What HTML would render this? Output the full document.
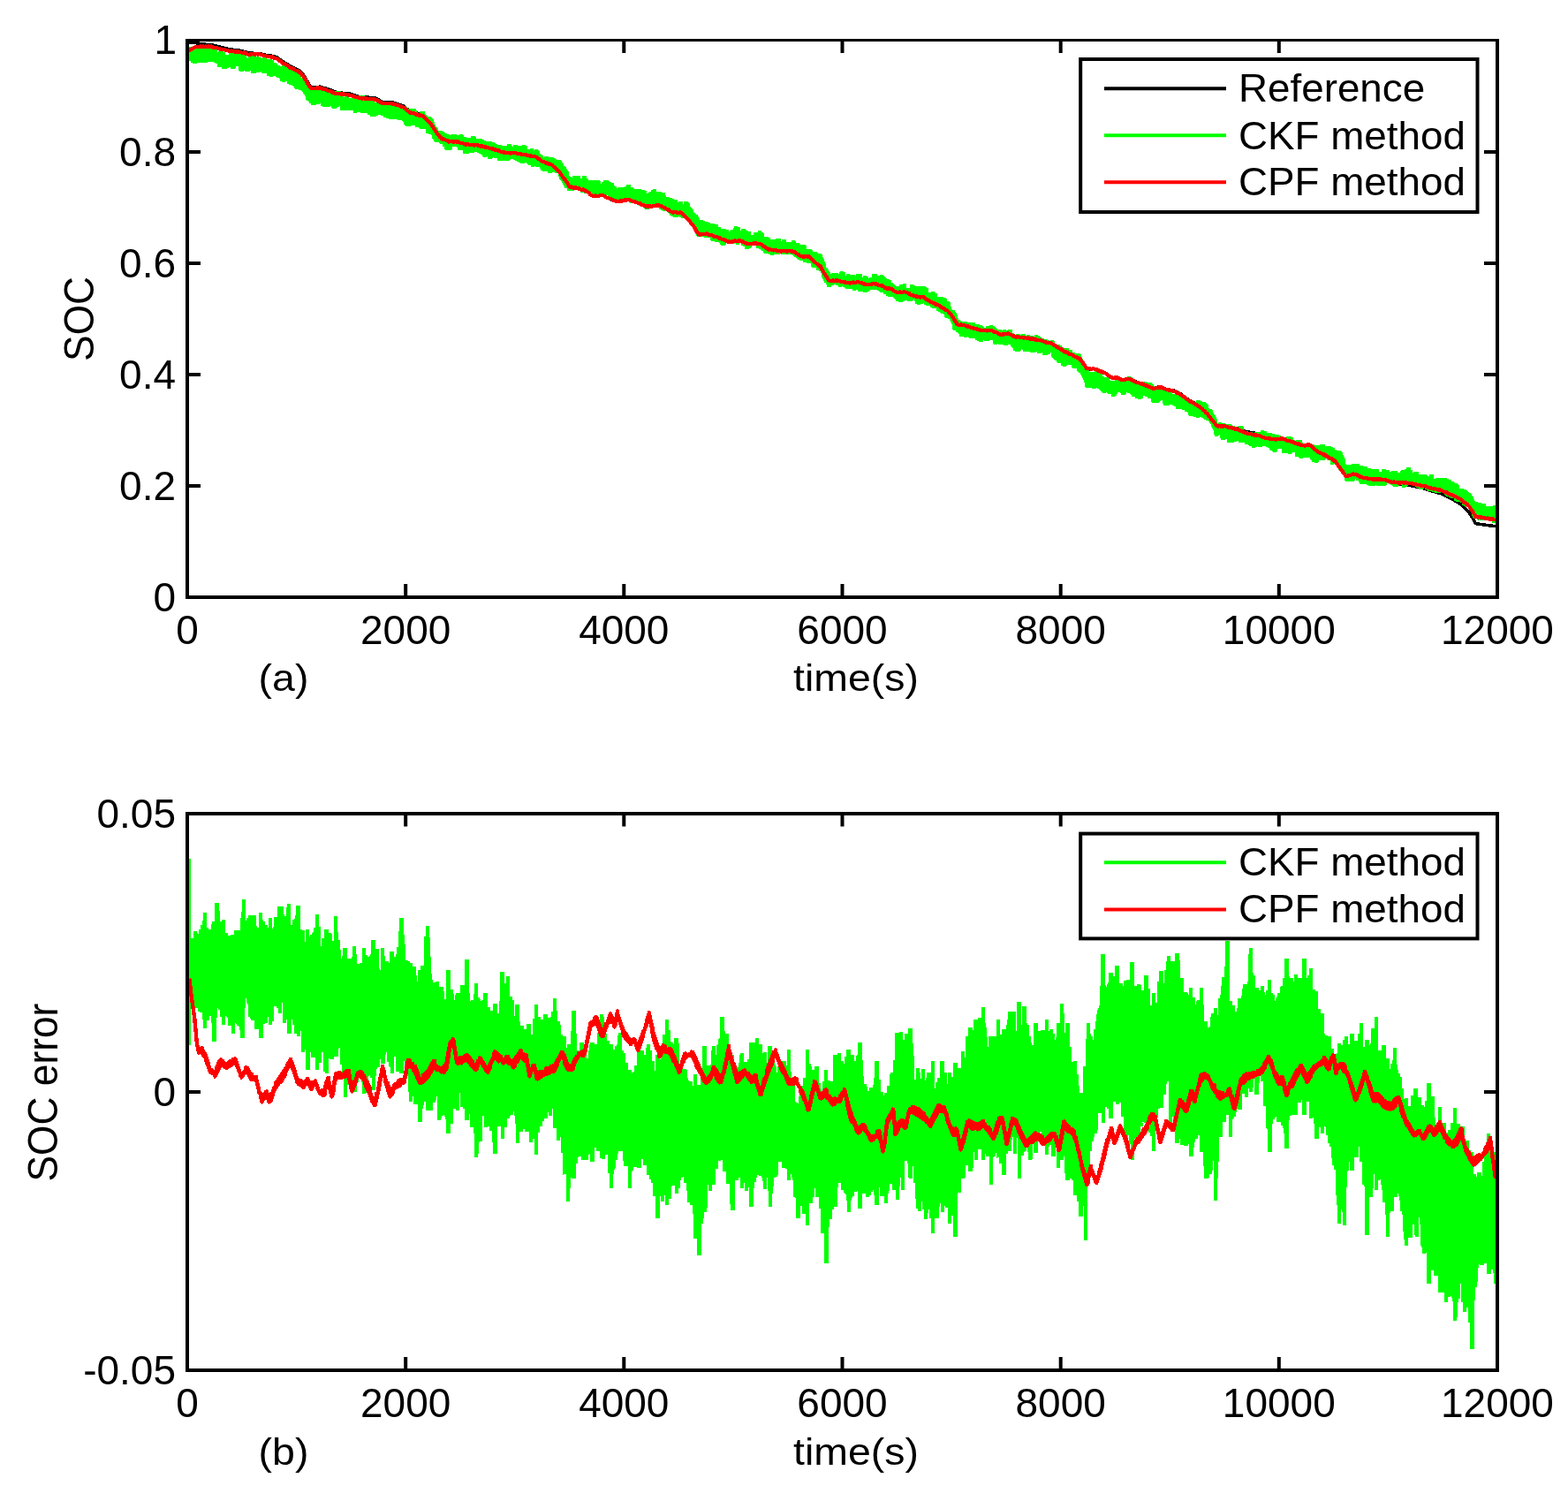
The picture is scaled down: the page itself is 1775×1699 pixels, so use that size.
<!DOCTYPE html>
<html lang="en"><head><meta charset="utf-8"><title>SOC estimation</title>
<style>html,body{margin:0;padding:0;background:#fff}body{width:1775px;height:1699px;overflow:hidden}svg{display:block}text{font-family:"Liberation Sans",sans-serif;font-size:46px;fill:#000}</style>
</head><body>
<svg width="1775" height="1699" viewBox="0 0 1775 1699">
<rect width="1775" height="1699" fill="#fff"/>
<g id="plot-a">
<path d="M214.0 47.5L215.0 47.9L216.0 47.9L217.0 48.0L218.0 48.1L219.0 48.0L220.0 48.2L221.0 48.5L222.0 48.7L223.0 48.8L224.0 49.0L225.0 49.1L226.0 49.4L227.0 49.7L228.0 50.0L229.0 50.1L230.0 50.1L231.0 50.2L232.0 50.2L233.0 50.3L234.0 50.3L235.0 50.4L236.0 50.4L237.0 50.4L238.0 50.5L239.0 50.5L240.0 50.8L241.0 51.0L242.0 51.3L243.0 51.6L244.0 51.8L245.0 52.1L246.0 52.3L247.0 52.6L248.0 52.9L249.0 53.1L250.0 53.4L251.0 53.7L252.0 53.9L253.0 54.1L254.0 54.4L255.0 54.6L256.0 54.9L257.0 55.1L258.0 55.3L259.0 55.6L260.0 55.7L261.0 55.9L262.0 56.0L263.0 56.1L264.0 56.3L265.0 56.4L266.0 56.5L267.0 56.7L268.0 56.8L269.0 56.9L270.0 57.0L271.0 57.2L272.0 57.3L273.0 57.5L274.0 57.8L275.0 58.1L276.0 58.3L277.0 58.6L278.0 58.9L279.0 59.2L280.0 59.5L281.0 59.8L282.0 59.9L283.0 60.0L284.0 60.1L285.0 60.1L286.0 60.2L287.0 60.3L288.0 60.3L289.0 60.4L290.0 60.5L291.0 60.5L292.0 60.6L293.0 60.7L294.0 60.7L295.0 60.9L296.0 61.1L297.0 61.4L298.0 61.6L299.0 61.9L300.0 62.2L301.0 62.3L302.0 62.4L303.0 62.5L304.0 62.6L305.0 62.8L306.0 63.0L307.0 63.2L308.0 63.4L309.0 63.6L310.0 63.8L311.0 64.1L312.0 64.4L313.0 64.7L314.0 65.3L315.0 66.0L316.0 66.7L317.0 67.4L318.0 68.1L319.0 68.8L320.0 69.5L321.0 70.2L322.0 70.8L323.0 71.4L324.0 72.0L325.0 72.6L326.0 73.2L327.0 73.8L328.0 74.4L329.0 75.0L330.0 75.6L331.0 76.2L332.0 76.7L333.0 77.2L334.0 77.7L335.0 78.2L336.0 78.7L337.0 79.2L338.0 79.7L339.0 80.2L340.0 80.7L341.0 81.8L342.0 83.1L343.0 84.4L344.0 85.8L345.0 87.1L346.0 88.7L347.0 90.5L348.0 92.3L349.0 94.1L350.0 95.6L351.0 96.6L352.0 97.6L353.0 98.5L354.0 98.5L355.0 98.5L356.0 98.4L357.0 98.4L358.0 98.4L359.0 98.3L360.0 98.3L361.0 98.3L362.0 98.2L363.0 98.4L364.0 98.7L365.0 99.0L366.0 99.3L367.0 99.6L368.0 99.9L369.0 100.2L370.0 100.4L371.0 100.7L372.0 101.0L373.0 101.4L374.0 101.8L375.0 102.2L376.0 102.6L377.0 103.0L378.0 103.4L379.0 103.8L380.0 104.2L381.0 104.5L382.0 104.7L383.0 104.8L384.0 104.9L385.0 105.0L386.0 105.1L387.0 105.2L388.0 105.3L389.0 105.5L390.0 105.6L391.0 105.7L392.0 105.8L393.0 105.9L394.0 106.0L395.0 106.1L396.0 106.2L397.0 106.5L398.0 106.8L399.0 107.1L400.0 107.4L401.0 107.7L402.0 108.0L403.0 108.4L404.0 108.7L405.0 109.0L406.0 109.3L407.0 109.4L408.0 109.5L409.0 109.6L410.0 109.6L411.0 109.7L412.0 109.8L413.0 109.9L414.0 110.0L415.0 110.1L416.0 110.1L417.0 110.2L418.0 110.3L419.0 110.4L420.0 110.5L421.0 110.6L422.0 110.6L423.0 110.7L424.0 110.8L425.0 111.0L426.0 111.6L427.0 112.1L428.0 112.7L429.0 113.3L430.0 113.8L431.0 114.4L432.0 114.9L433.0 115.5L434.0 115.6L435.0 115.6L436.0 115.6L437.0 115.6L438.0 115.6L439.0 115.6L440.0 115.6L441.0 115.7L442.0 115.7L443.0 115.7L444.0 115.9L445.0 116.2L446.0 116.5L447.0 116.8L448.0 117.1L449.0 117.4L450.0 117.7L451.0 118.1L452.0 118.4L453.0 118.7L454.0 119.0L455.0 119.3L456.0 119.6L457.0 120.0L458.0 120.9L459.0 121.8L460.0 122.6L461.0 123.5L462.0 124.4L463.0 125.3L464.0 125.9L465.0 126.2L466.0 126.5L467.0 126.8L468.0 127.1L469.0 127.3L470.0 127.6L471.0 127.9L472.0 128.2L473.0 128.5L474.0 128.7L475.0 129.0L476.0 129.3L477.0 129.6L478.0 129.9L479.0 130.2L480.0 131.2L481.0 132.2L482.0 133.3L483.0 134.3L484.0 135.3L485.0 136.3L486.0 137.3L487.0 138.3L488.0 139.6L489.0 141.1L490.0 142.6L491.0 144.2L492.0 145.7L493.0 147.2L494.0 148.7L495.0 149.9L496.0 151.1L497.0 152.3L498.0 153.5L499.0 154.7L500.0 155.9L501.0 156.3L502.0 156.7L503.0 157.1L504.0 157.5L505.0 157.9L506.0 158.3L507.0 158.7L508.0 159.2L509.0 159.3L510.0 159.3L511.0 159.3L512.0 159.2L513.0 159.2L514.0 159.2L515.0 159.1L516.0 159.1L517.0 159.1L518.0 159.4L519.0 159.7L520.0 160.1L521.0 160.4L522.0 160.7L523.0 161.1L524.0 161.4L525.0 161.7L526.0 162.0L527.0 162.4L528.0 162.5L529.0 162.6L530.0 162.7L531.0 162.8L532.0 162.9L533.0 163.0L534.0 163.1L535.0 163.2L536.0 163.3L537.0 163.4L538.0 163.5L539.0 163.6L540.0 163.7L541.0 163.8L542.0 163.9L543.0 164.1L544.0 164.4L545.0 164.6L546.0 164.9L547.0 165.2L548.0 165.4L549.0 165.7L550.0 166.0L551.0 166.2L552.0 166.5L553.0 166.7L554.0 167.0L555.0 167.3L556.0 167.5L557.0 167.9L558.0 168.2L559.0 168.5L560.0 168.8L561.0 169.1L562.0 169.4L563.0 169.7L564.0 170.0L565.0 170.4L566.0 170.7L567.0 171.0L568.0 171.3L569.0 171.6L570.0 171.9L571.0 172.2L572.0 172.5L573.0 172.8L574.0 172.8L575.0 172.8L576.0 172.8L577.0 172.8L578.0 172.8L579.0 172.8L580.0 172.8L581.0 172.9L582.0 173.0L583.0 173.2L584.0 173.4L585.0 173.6L586.0 173.7L587.0 173.9L588.0 174.1L589.0 174.3L590.0 174.5L591.0 174.6L592.0 174.8L593.0 175.0L594.0 175.2L595.0 175.3L596.0 175.5L597.0 175.7L598.0 175.9L599.0 176.1L600.0 176.2L601.0 176.4L602.0 176.6L603.0 176.7L604.0 176.9L605.0 177.1L606.0 177.2L607.0 177.7L608.0 178.4L609.0 179.1L610.0 179.8L611.0 180.5L612.0 181.2L613.0 181.9L614.0 182.6L615.0 183.3L616.0 183.6L617.0 183.9L618.0 184.3L619.0 184.6L620.0 184.9L621.0 185.3L622.0 185.6L623.0 185.9L624.0 186.3L625.0 186.6L626.0 187.5L627.0 188.5L628.0 189.5L629.0 190.5L630.0 191.5L631.0 192.5L632.0 193.5L633.0 194.5L634.0 195.7L635.0 197.1L636.0 198.5L637.0 199.9L638.0 201.2L639.0 202.6L640.0 204.0L641.0 205.5L642.0 207.1L643.0 208.7L644.0 210.3L645.0 211.2L646.0 211.5L647.0 211.7L648.0 211.9L649.0 212.1L650.0 212.3L651.0 212.6L652.0 212.8L653.0 213.0L654.0 213.3L655.0 213.5L656.0 213.8L657.0 214.0L658.0 214.3L659.0 214.5L660.0 214.8L661.0 215.0L662.0 215.3L663.0 215.9L664.0 216.7L665.0 217.4L666.0 218.2L667.0 219.0L668.0 219.7L669.0 220.5L670.0 221.2L671.0 221.8L672.0 221.7L673.0 221.7L674.0 221.6L675.0 221.6L676.0 221.5L677.0 221.5L678.0 221.5L679.0 221.4L680.0 221.4L681.0 221.3L682.0 221.3L683.0 221.5L684.0 222.0L685.0 222.5L686.0 223.0L687.0 223.5L688.0 224.0L689.0 224.5L690.0 225.0L691.0 225.5L692.0 225.8L693.0 226.1L694.0 226.4L695.0 226.7L696.0 227.0L697.0 227.3L698.0 227.6L699.0 227.9L700.0 227.9L701.0 227.8L702.0 227.6L703.0 227.4L704.0 227.2L705.0 227.1L706.0 226.9L707.0 226.7L708.0 226.6L709.0 226.4L710.0 226.2L711.0 226.0L712.0 226.2L713.0 226.6L714.0 226.9L715.0 227.3L716.0 227.6L717.0 227.9L718.0 228.3L719.0 228.6L720.0 229.0L721.0 229.4L722.0 229.7L723.0 230.1L724.0 230.5L725.0 230.9L726.0 231.2L727.0 231.6L728.0 232.0L729.0 232.4L730.0 232.7L731.0 233.1L732.0 233.5L733.0 233.9L734.0 233.8L735.0 233.7L736.0 233.5L737.0 233.4L738.0 233.3L739.0 233.1L740.0 233.0L741.0 232.8L742.0 232.7L743.0 232.5L744.0 232.4L745.0 232.3L746.0 232.6L747.0 233.0L748.0 233.4L749.0 233.8L750.0 234.2L751.0 234.6L752.0 235.0L753.0 235.4L754.0 235.9L755.0 236.5L756.0 237.1L757.0 237.7L758.0 238.3L759.0 238.9L760.0 239.5L761.0 240.1L762.0 240.7L763.0 240.7L764.0 240.7L765.0 240.7L766.0 240.7L767.0 240.7L768.0 240.7L769.0 240.7L770.0 240.7L771.0 241.2L772.0 242.1L773.0 243.0L774.0 243.9L775.0 244.8L776.0 245.7L777.0 246.6L778.0 247.5L779.0 248.5L780.0 249.7L781.0 251.0L782.0 252.2L783.0 253.5L784.0 254.7L785.0 256.0L786.0 257.4L787.0 259.0L788.0 260.7L789.0 262.4L790.0 264.0L791.0 265.2L792.0 265.1L793.0 265.1L794.0 265.0L795.0 265.0L796.0 264.9L797.0 264.8L798.0 264.8L799.0 264.7L800.0 264.6L801.0 265.0L802.0 265.3L803.0 265.6L804.0 266.0L805.0 266.3L806.0 266.6L807.0 266.9L808.0 267.3L809.0 267.6L810.0 267.9L811.0 268.3L812.0 268.6L813.0 269.0L814.0 269.4L815.0 269.8L816.0 270.2L817.0 270.6L818.0 271.0L819.0 271.4L820.0 271.8L821.0 272.2L822.0 272.6L823.0 273.0L824.0 273.4L825.0 273.8L826.0 273.9L827.0 273.7L828.0 273.6L829.0 273.4L830.0 273.3L831.0 273.1L832.0 273.0L833.0 272.9L834.0 272.7L835.0 272.6L836.0 272.4L837.0 272.3L838.0 272.6L839.0 273.1L840.0 273.5L841.0 273.9L842.0 274.4L843.0 274.8L844.0 275.3L845.0 275.7L846.0 276.0L847.0 276.0L848.0 276.0L849.0 276.0L850.0 276.0L851.0 276.0L852.0 276.0L853.0 276.0L854.0 276.0L855.0 276.0L856.0 276.0L857.0 276.0L858.0 276.0L859.0 276.0L860.0 276.0L861.0 276.1L862.0 276.8L863.0 277.5L864.0 278.2L865.0 279.0L866.0 279.7L867.0 280.4L868.0 281.1L869.0 281.8L870.0 282.2L871.0 282.3L872.0 282.5L873.0 282.7L874.0 282.9L875.0 283.0L876.0 283.2L877.0 283.4L878.0 283.5L879.0 283.7L880.0 283.9L881.0 284.1L882.0 284.1L883.0 284.1L884.0 284.1L885.0 284.2L886.0 284.2L887.0 284.2L888.0 284.2L889.0 284.2L890.0 284.3L891.0 284.3L892.0 284.3L893.0 284.3L894.0 284.3L895.0 284.4L896.0 284.4L897.0 284.4L898.0 284.4L899.0 285.1L900.0 285.7L901.0 286.4L902.0 287.1L903.0 287.8L904.0 288.4L905.0 289.1L906.0 289.8L907.0 290.2L908.0 290.3L909.0 290.4L910.0 290.5L911.0 290.6L912.0 290.7L913.0 290.8L914.0 290.9L915.0 291.0L916.0 291.1L917.0 291.6L918.0 292.8L919.0 294.0L920.0 295.2L921.0 296.3L922.0 297.4L923.0 298.0L924.0 298.7L925.0 299.3L926.0 299.9L927.0 300.6L928.0 301.2L929.0 302.5L930.0 304.4L931.0 306.2L932.0 308.1L933.0 309.9L934.0 311.6L935.0 313.2L936.0 314.7L937.0 316.2L938.0 317.7L939.0 318.6L940.0 318.6L941.0 318.6L942.0 318.6L943.0 318.5L944.0 318.5L945.0 318.5L946.0 318.5L947.0 318.5L948.0 318.5L949.0 318.5L950.0 318.8L951.0 319.1L952.0 319.3L953.0 319.6L954.0 319.8L955.0 320.1L956.0 320.4L957.0 320.6L958.0 320.9L959.0 321.1L960.0 321.4L961.0 321.5L962.0 321.4L963.0 321.4L964.0 321.3L965.0 321.2L966.0 321.1L967.0 321.0L968.0 321.0L969.0 320.9L970.0 320.8L971.0 320.7L972.0 320.6L973.0 320.8L974.0 321.2L975.0 321.5L976.0 321.9L977.0 322.2L978.0 322.6L979.0 323.0L980.0 323.3L981.0 323.6L982.0 323.5L983.0 323.4L984.0 323.3L985.0 323.2L986.0 323.1L987.0 323.0L988.0 322.9L989.0 322.8L990.0 322.9L991.0 323.1L992.0 323.4L993.0 323.6L994.0 323.8L995.0 324.0L996.0 324.2L997.0 324.4L998.0 324.7L999.0 324.9L1000.0 325.5L1001.0 326.4L1002.0 327.4L1003.0 328.2L1004.0 328.2L1005.0 328.2L1006.0 328.2L1007.0 328.2L1008.0 328.2L1009.0 328.2L1010.0 328.5L1011.0 329.3L1012.0 330.1L1013.0 330.9L1014.0 331.7L1015.0 332.2L1016.0 332.1L1017.0 331.9L1018.0 331.8L1019.0 331.7L1020.0 331.6L1021.0 331.4L1022.0 331.3L1023.0 331.2L1024.0 331.1L1025.0 331.0L1026.0 331.4L1027.0 331.7L1028.0 332.1L1029.0 332.4L1030.0 332.8L1031.0 333.3L1032.0 333.7L1033.0 334.2L1034.0 334.7L1035.0 335.2L1036.0 335.6L1037.0 336.0L1038.0 336.1L1039.0 336.3L1040.0 336.4L1041.0 336.6L1042.0 336.7L1043.0 336.8L1044.0 337.0L1045.0 337.1L1046.0 337.7L1047.0 338.4L1048.0 339.0L1049.0 339.7L1050.0 340.3L1051.0 341.0L1052.0 341.6L1053.0 342.3L1054.0 342.9L1055.0 343.4L1056.0 343.9L1057.0 344.5L1058.0 345.0L1059.0 345.6L1060.0 346.1L1061.0 346.7L1062.0 347.2L1063.0 347.8L1064.0 348.3L1065.0 349.0L1066.0 349.6L1067.0 350.2L1068.0 350.8L1069.0 351.5L1070.0 352.1L1071.0 352.7L1072.0 353.4L1073.0 354.0L1074.0 354.8L1075.0 356.2L1076.0 357.4L1077.0 358.5L1078.0 359.7L1079.0 360.9L1080.0 362.1L1081.0 363.4L1082.0 364.9L1083.0 366.5L1084.0 367.9L1085.0 367.7L1086.0 367.8L1087.0 367.8L1088.0 367.8L1089.0 367.8L1090.0 367.8L1091.0 367.9L1092.0 368.3L1093.0 368.6L1094.0 369.0L1095.0 369.4L1096.0 369.7L1097.0 370.1L1098.0 370.5L1099.0 370.8L1100.0 371.2L1101.0 371.5L1102.0 371.7L1103.0 372.0L1104.0 372.3L1105.0 372.6L1106.0 372.9L1107.0 373.1L1108.0 373.4L1109.0 373.7L1110.0 374.0L1111.0 374.3L1112.0 374.5L1113.0 374.5L1114.0 374.4L1115.0 374.4L1116.0 374.4L1117.0 374.4L1118.0 374.3L1119.0 374.3L1120.0 374.3L1121.0 374.3L1122.0 374.2L1123.0 374.7L1124.0 375.1L1125.0 375.5L1126.0 376.0L1127.0 376.4L1128.0 376.9L1129.0 377.3L1130.0 377.7L1131.0 378.2L1132.0 378.6L1133.0 379.0L1134.0 379.3L1135.0 379.1L1136.0 378.9L1137.0 378.6L1138.0 378.4L1139.0 378.1L1140.0 377.9L1141.0 378.0L1142.0 378.4L1143.0 378.9L1144.0 379.4L1145.0 379.8L1146.0 380.3L1147.0 380.8L1148.0 381.2L1149.0 381.7L1150.0 381.8L1151.0 381.9L1152.0 382.0L1153.0 382.1L1154.0 382.2L1155.0 382.3L1156.0 382.5L1157.0 382.6L1158.0 382.7L1159.0 382.8L1160.0 382.9L1161.0 383.0L1162.0 383.1L1163.0 383.2L1164.0 383.3L1165.0 383.5L1166.0 383.7L1167.0 383.9L1168.0 384.1L1169.0 384.3L1170.0 384.5L1171.0 384.7L1172.0 385.0L1173.0 385.2L1174.0 385.4L1175.0 385.6L1176.0 385.8L1177.0 386.0L1178.0 386.2L1179.0 386.5L1180.0 386.8L1181.0 387.1L1182.0 387.4L1183.0 387.6L1184.0 387.9L1185.0 388.2L1186.0 388.5L1187.0 388.8L1188.0 389.0L1189.0 389.3L1190.0 389.6L1191.0 389.9L1192.0 390.4L1193.0 391.1L1194.0 391.7L1195.0 392.4L1196.0 393.1L1197.0 393.7L1198.0 394.4L1199.0 395.0L1200.0 395.7L1201.0 396.3L1202.0 397.0L1203.0 397.6L1204.0 398.1L1205.0 398.6L1206.0 399.1L1207.0 399.6L1208.0 400.2L1209.0 400.7L1210.0 401.2L1211.0 401.7L1212.0 402.2L1213.0 402.7L1214.0 403.2L1215.0 403.7L1216.0 404.4L1217.0 405.2L1218.0 405.9L1219.0 406.6L1220.0 407.4L1221.0 408.1L1222.0 408.8L1223.0 409.6L1224.0 410.9L1225.0 412.6L1226.0 414.4L1227.0 416.1L1228.0 417.8L1229.0 418.7L1230.0 419.5L1231.0 419.1L1232.0 418.5L1233.0 417.9L1234.0 417.4L1235.0 417.4L1236.0 417.5L1237.0 417.6L1238.0 417.7L1239.0 417.8L1240.0 417.8L1241.0 418.1L1242.0 418.6L1243.0 419.0L1244.0 419.4L1245.0 419.8L1246.0 420.2L1247.0 420.6L1248.0 421.0L1249.0 421.4L1250.0 421.8L1251.0 422.4L1252.0 423.0L1253.0 423.7L1254.0 424.4L1255.0 425.0L1256.0 425.7L1257.0 426.3L1258.0 427.0L1259.0 427.5L1260.0 427.5L1261.0 427.5L1262.0 427.5L1263.0 427.5L1264.0 427.5L1265.0 427.5L1266.0 427.7L1267.0 428.3L1268.0 428.8L1269.0 429.4L1270.0 429.9L1271.0 430.3L1272.0 429.9L1273.0 429.6L1274.0 429.3L1275.0 429.0L1276.0 428.7L1277.0 428.4L1278.0 428.5L1279.0 428.9L1280.0 429.4L1281.0 429.8L1282.0 430.2L1283.0 430.7L1284.0 431.1L1285.0 431.5L1286.0 432.0L1287.0 432.3L1288.0 432.6L1289.0 433.0L1290.0 433.3L1291.0 433.6L1292.0 433.9L1293.0 434.3L1294.0 434.6L1295.0 434.9L1296.0 435.2L1297.0 435.6L1298.0 436.1L1299.0 436.5L1300.0 436.9L1301.0 437.3L1302.0 437.7L1303.0 438.1L1304.0 438.5L1305.0 438.9L1306.0 439.3L1307.0 439.2L1308.0 439.0L1309.0 438.7L1310.0 438.5L1311.0 438.2L1312.0 437.9L1313.0 437.7L1314.0 438.1L1315.0 438.5L1316.0 438.9L1317.0 439.3L1318.0 439.7L1319.0 440.1L1320.0 440.5L1321.0 440.9L1322.0 441.1L1323.0 441.2L1324.0 441.3L1325.0 441.5L1326.0 441.6L1327.0 441.7L1328.0 441.8L1329.0 442.2L1330.0 442.7L1331.0 443.2L1332.0 443.7L1333.0 444.2L1334.0 444.7L1335.0 445.2L1336.0 445.7L1337.0 446.3L1338.0 447.0L1339.0 447.8L1340.0 448.5L1341.0 449.3L1342.0 450.0L1343.0 450.7L1344.0 451.5L1345.0 452.2L1346.0 453.0L1347.0 453.7L1348.0 454.2L1349.0 454.7L1350.0 455.1L1351.0 455.6L1352.0 456.1L1353.0 456.6L1354.0 457.1L1355.0 457.6L1356.0 458.3L1357.0 459.1L1358.0 459.9L1359.0 460.7L1360.0 461.5L1361.0 462.3L1362.0 463.1L1363.0 463.9L1364.0 464.8L1365.0 465.9L1366.0 467.0L1367.0 468.2L1368.0 469.3L1369.0 470.4L1370.0 471.5L1371.0 472.8L1372.0 474.2L1373.0 475.5L1374.0 476.9L1375.0 478.3L1376.0 479.6L1377.0 481.0L1378.0 481.3L1379.0 481.3L1380.0 481.4L1381.0 481.4L1382.0 481.5L1383.0 481.5L1384.0 481.5L1385.0 481.6L1386.0 481.6L1387.0 481.7L1388.0 481.9L1389.0 482.1L1390.0 482.3L1391.0 482.6L1392.0 482.8L1393.0 483.1L1394.0 483.3L1395.0 483.6L1396.0 483.8L1397.0 484.0L1398.0 484.3L1399.0 484.5L1400.0 484.8L1401.0 485.1L1402.0 485.5L1403.0 485.9L1404.0 486.2L1405.0 486.6L1406.0 487.0L1407.0 487.3L1408.0 487.7L1409.0 488.1L1410.0 488.4L1411.0 488.6L1412.0 488.8L1413.0 489.0L1414.0 489.1L1415.0 489.3L1416.0 489.5L1417.0 489.6L1418.0 489.8L1419.0 489.9L1420.0 490.1L1421.0 490.4L1422.0 490.7L1423.0 491.1L1424.0 491.5L1425.0 491.9L1426.0 492.3L1427.0 492.7L1428.0 493.1L1429.0 493.4L1430.0 493.8L1431.0 494.2L1432.0 494.6L1433.0 495.0L1434.0 495.3L1435.0 495.6L1436.0 495.8L1437.0 496.0L1438.0 496.3L1439.0 496.5L1440.0 496.7L1441.0 496.9L1442.0 497.0L1443.0 497.1L1444.0 497.3L1445.0 497.1L1446.0 497.0L1447.0 496.9L1448.0 496.8L1449.0 496.6L1450.0 496.5L1451.0 496.5L1452.0 496.8L1453.0 497.1L1454.0 497.5L1455.0 497.8L1456.0 498.1L1457.0 498.4L1458.0 498.7L1459.0 499.0L1460.0 499.3L1461.0 499.7L1462.0 500.0L1463.0 500.3L1464.0 500.7L1465.0 501.0L1466.0 501.4L1467.0 501.7L1468.0 502.1L1469.0 502.4L1470.0 502.8L1471.0 503.2L1472.0 503.5L1473.0 503.9L1474.0 504.2L1475.0 504.3L1476.0 504.2L1477.0 504.1L1478.0 504.0L1479.0 503.9L1480.0 503.8L1481.0 503.7L1482.0 503.6L1483.0 503.7L1484.0 504.6L1485.0 505.5L1486.0 506.4L1487.0 507.3L1488.0 508.2L1489.0 509.1L1490.0 510.0L1491.0 510.9L1492.0 511.5L1493.0 512.0L1494.0 512.5L1495.0 513.0L1496.0 513.5L1497.0 514.0L1498.0 514.5L1499.0 515.0L1500.0 515.5L1501.0 516.0L1502.0 516.5L1503.0 517.1L1504.0 517.7L1505.0 518.3L1506.0 518.9L1507.0 519.5L1508.0 520.0L1509.0 520.6L1510.0 521.2L1511.0 521.8L1512.0 522.7L1513.0 524.1L1514.0 525.5L1515.0 526.9L1516.0 528.2L1517.0 529.6L1518.0 531.0L1519.0 532.4L1520.0 533.9L1521.0 535.4L1522.0 536.9L1523.0 538.4L1524.0 538.9L1525.0 538.6L1526.0 538.4L1527.0 538.1L1528.0 537.9L1529.0 537.6L1530.0 537.4L1531.0 537.1L1532.0 536.9L1533.0 536.6L1534.0 536.7L1535.0 537.2L1536.0 537.7L1537.0 538.2L1538.0 538.7L1539.0 539.2L1540.0 539.7L1541.0 540.2L1542.0 540.7L1543.0 540.9L1544.0 541.0L1545.0 541.2L1546.0 541.4L1547.0 541.5L1548.0 541.7L1549.0 541.9L1550.0 542.0L1551.0 542.2L1552.0 542.4L1553.0 542.4L1554.0 542.5L1555.0 542.5L1556.0 542.5L1557.0 542.6L1558.0 542.6L1559.0 542.6L1560.0 542.7L1561.0 542.8L1562.0 542.9L1563.0 543.0L1564.0 543.1L1565.0 543.2L1566.0 543.3L1567.0 543.4L1568.0 543.7L1569.0 544.1L1570.0 544.5L1571.0 544.9L1572.0 545.3L1573.0 545.7L1574.0 546.1L1575.0 546.5L1576.0 546.9L1577.0 547.0L1578.0 547.1L1579.0 547.2L1580.0 547.3L1581.0 547.4L1582.0 547.6L1583.0 547.7L1584.0 547.8L1585.0 547.9L1586.0 548.0L1587.0 548.1L1588.0 548.3L1589.0 548.4L1590.0 548.5L1591.0 548.6L1592.0 548.7L1593.0 548.8L1594.0 549.0L1595.0 549.2L1596.0 549.4L1597.0 549.6L1598.0 549.8L1599.0 550.0L1600.0 550.2L1601.0 550.4L1602.0 550.6L1603.0 550.8L1604.0 551.0L1605.0 551.2L1606.0 551.4L1607.0 551.6L1608.0 551.8L1609.0 552.1L1610.0 552.4L1611.0 552.7L1612.0 553.1L1613.0 553.4L1614.0 553.7L1615.0 554.0L1616.0 554.3L1617.0 554.7L1618.0 555.0L1619.0 555.3L1620.0 555.6L1621.0 555.9L1622.0 556.2L1623.0 556.4L1624.0 556.7L1625.0 557.0L1626.0 557.3L1627.0 557.6L1628.0 557.8L1629.0 558.1L1630.0 558.4L1631.0 558.7L1632.0 559.1L1633.0 559.6L1634.0 560.1L1635.0 560.5L1636.0 561.0L1637.0 561.5L1638.0 562.0L1639.0 562.5L1640.0 563.0L1641.0 563.5L1642.0 564.0L1643.0 564.5L1644.0 565.1L1645.0 565.6L1646.0 566.2L1647.0 566.8L1648.0 567.3L1649.0 567.9L1650.0 568.5L1651.0 569.1L1652.0 569.8L1653.0 570.4L1654.0 571.2L1655.0 572.1L1656.0 573.1L1657.0 574.0L1658.0 575.0L1659.0 575.9L1660.0 576.9L1661.0 577.8L1662.0 578.8L1663.0 580.3L1664.0 581.8L1665.0 583.3L1666.0 584.7L1667.0 586.2L1668.0 588.1L1669.0 590.0L1670.0 591.9L1671.0 592.7L1672.0 592.9L1673.0 593.0L1674.0 593.2L1675.0 593.3L1676.0 593.4L1677.0 593.6L1678.0 593.7L1679.0 593.9L1680.0 594.0L1681.0 594.2L1682.0 594.3L1683.0 594.4L1684.0 594.5L1685.0 594.6L1686.0 594.8L1687.0 594.9L1688.0 595.0L1689.0 595.1L1690.0 595.3L1691.0 595.4L1692.0 595.5L1693.0 595.5" fill="none" stroke="#000" stroke-width="3.6" stroke-linejoin="round" shape-rendering="crispEdges"/>
<path d="M213.0 52.7L213.5 68.6L214.0 53.2L214.5 69.0L215.0 53.4L215.5 68.9L216.0 55.5L216.5 67.7L217.0 56.6L217.5 68.7L218.0 54.9L218.5 71.0L219.0 55.0L219.5 71.4L220.0 55.4L220.5 71.5L221.0 53.1L221.5 71.5L222.0 53.0L222.5 68.4L223.0 53.0L223.5 68.4L224.0 54.3L224.5 70.8L225.0 54.4L225.5 70.8L226.0 54.5L226.5 71.0L227.0 54.3L227.5 71.1L228.0 54.4L228.5 68.9L229.0 53.1L229.5 67.6L230.0 53.2L230.5 67.7L231.0 53.1L231.5 70.5L232.0 53.3L232.5 70.6L233.0 53.4L233.5 70.8L234.0 52.5L234.5 69.2L235.0 51.7L235.5 69.9L236.0 51.7L236.5 69.9L237.0 51.5L237.5 69.7L238.0 52.6L238.5 69.8L239.0 52.7L239.5 68.8L240.0 52.9L240.5 69.1L241.0 54.1L241.5 69.8L242.0 54.3L242.5 70.0L243.0 54.6L243.5 70.3L244.0 54.9L244.5 70.6L245.0 58.6L245.5 71.3L246.0 58.9L246.5 71.6L247.0 58.9L247.5 71.6L248.0 59.2L248.5 75.7L249.0 58.0L249.5 75.6L250.0 58.3L250.5 75.9L251.0 58.5L251.5 76.2L252.0 59.1L252.5 76.3L253.0 59.2L253.5 77.7L254.0 61.6L254.5 77.9L255.0 61.7L255.5 78.0L256.0 61.9L256.5 76.4L257.0 62.1L257.5 76.5L258.0 62.5L258.5 76.0L259.0 62.6L259.5 73.5L260.0 62.7L260.5 73.6L261.0 60.5L261.5 73.6L262.0 60.5L262.5 75.2L263.0 60.7L263.5 78.0L264.0 60.6L264.5 78.1L265.0 60.7L265.5 75.3L266.0 58.8L266.5 75.3L267.0 58.8L267.5 74.8L268.0 59.0L268.5 75.0L269.0 62.9L269.5 74.0L270.0 63.1L270.5 75.0L271.0 61.5L271.5 75.3L272.0 61.7L272.5 80.2L273.0 62.0L273.5 80.5L274.0 61.1L274.5 80.9L275.0 61.5L275.5 79.7L276.0 61.9L276.5 80.0L277.0 62.2L277.5 78.9L278.0 65.3L278.5 79.2L279.0 65.7L279.5 81.1L280.0 66.1L280.5 81.4L281.0 66.6L281.5 80.4L282.0 66.7L282.5 79.8L283.0 63.3L283.5 79.2L284.0 63.5L284.5 79.3L285.0 63.6L285.5 79.4L286.0 62.9L286.5 83.2L287.0 63.9L287.5 83.3L288.0 66.6L288.5 80.6L289.0 63.6L289.5 80.6L290.0 63.6L290.5 80.7L291.0 63.7L291.5 82.3L292.0 63.7L292.5 82.3L293.0 65.0L293.5 82.2L294.0 64.8L294.5 79.9L295.0 66.0L295.5 80.1L296.0 66.2L296.5 80.4L297.0 66.5L297.5 80.6L298.0 66.7L298.5 82.9L299.0 63.7L299.5 83.2L300.0 63.9L300.5 83.4L301.0 69.5L301.5 80.0L302.0 69.7L302.5 81.6L303.0 71.2L303.5 83.0L304.0 66.7L304.5 85.8L305.0 66.9L305.5 86.1L306.0 67.2L306.5 86.4L307.0 67.7L307.5 86.7L308.0 68.0L308.5 84.7L309.0 70.9L309.5 84.8L310.0 71.2L310.5 85.1L311.0 71.4L311.5 85.4L312.0 71.7L312.5 85.5L313.0 73.1L313.5 85.9L314.0 73.7L314.5 86.6L315.0 74.4L315.5 88.4L316.0 75.1L316.5 87.3L317.0 74.9L317.5 88.0L318.0 75.6L318.5 88.7L319.0 76.2L319.5 91.9L320.0 76.7L320.5 92.4L321.0 73.5L321.5 92.9L322.0 74.0L322.5 91.6L323.0 74.4L323.5 91.8L324.0 74.5L324.5 92.2L325.0 74.9L325.5 91.3L326.0 75.7L326.5 91.7L327.0 76.1L327.5 94.9L328.0 76.6L328.5 95.3L329.0 77.0L329.5 95.8L330.0 80.0L330.5 93.5L331.0 80.3L331.5 93.9L332.0 80.7L332.5 96.9L333.0 82.9L333.5 97.2L334.0 82.5L334.5 97.6L335.0 82.8L335.5 99.9L336.0 83.0L336.5 100.5L337.0 83.6L337.5 97.2L338.0 83.1L338.5 97.8L339.0 83.8L339.5 98.5L340.0 87.9L340.5 102.2L341.0 89.0L341.5 99.9L342.0 90.5L342.5 101.3L343.0 91.9L343.5 102.7L344.0 88.4L344.5 103.7L345.0 92.8L345.5 105.5L346.0 94.3L346.5 107.2L347.0 93.1L347.5 108.8L348.0 94.8L348.5 112.5L349.0 95.5L349.5 114.1L350.0 96.7L350.5 114.0L351.0 96.9L351.5 114.8L352.0 97.7L352.5 116.5L353.0 101.3L353.5 117.0L354.0 101.4L354.5 119.0L355.0 98.5L355.5 119.1L356.0 98.3L356.5 118.8L357.0 98.3L357.5 117.4L358.0 98.4L358.5 117.4L359.0 100.5L359.5 117.5L360.0 100.5L360.5 117.5L361.0 99.8L361.5 114.7L362.0 99.8L362.5 114.8L363.0 99.1L363.5 115.2L364.0 99.6L364.5 115.8L365.0 100.0L365.5 119.9L366.0 100.4L366.5 120.2L367.0 104.9L367.5 120.8L368.0 105.3L368.5 121.1L369.0 105.6L369.5 120.5L370.0 103.6L370.5 120.8L371.0 103.7L371.5 120.9L372.0 103.9L372.5 121.1L373.0 103.6L373.5 116.6L374.0 103.9L374.5 116.9L375.0 105.6L375.5 117.1L376.0 105.9L376.5 117.4L377.0 102.6L377.5 122.2L378.0 102.9L378.5 122.6L379.0 102.8L379.5 122.8L380.0 103.0L380.5 121.3L381.0 105.2L381.5 121.4L382.0 105.2L382.5 119.4L383.0 105.1L383.5 119.3L384.0 103.4L384.5 120.1L385.0 104.3L385.5 120.1L386.0 104.3L386.5 120.2L387.0 106.6L387.5 124.8L388.0 109.8L388.5 124.9L389.0 110.0L389.5 123.4L390.0 110.1L390.5 123.5L391.0 110.4L391.5 123.8L392.0 108.8L392.5 124.9L393.0 109.0L393.5 125.0L394.0 111.2L394.5 125.2L395.0 111.3L395.5 123.8L396.0 111.4L396.5 124.1L397.0 111.8L397.5 124.4L398.0 112.2L398.5 124.7L399.0 111.6L399.5 123.1L400.0 107.6L400.5 123.8L401.0 107.9L401.5 124.1L402.0 108.2L402.5 127.6L403.0 108.6L403.5 125.5L404.0 111.9L404.5 125.8L405.0 111.9L405.5 126.2L406.0 112.3L406.5 126.5L407.0 112.5L407.5 126.6L408.0 112.6L408.5 126.7L409.0 108.2L409.5 126.9L410.0 108.4L410.5 128.0L411.0 108.5L411.5 128.2L412.0 113.0L412.5 125.5L413.0 113.6L413.5 126.1L414.0 113.8L414.5 126.3L415.0 113.9L415.5 127.7L416.0 110.5L416.5 127.8L417.0 110.7L417.5 127.9L418.0 114.4L418.5 130.3L419.0 115.6L419.5 130.4L420.0 115.7L420.5 130.4L421.0 114.0L421.5 131.6L422.0 113.9L422.5 131.5L423.0 116.0L423.5 132.0L424.0 116.5L424.5 131.9L425.0 116.5L425.5 130.8L426.0 116.9L426.5 131.2L427.0 116.3L427.5 128.2L428.0 116.7L428.5 128.6L429.0 117.4L429.5 128.4L430.0 117.8L430.5 128.8L431.0 116.5L431.5 129.5L432.0 116.4L432.5 129.9L433.0 116.8L433.5 131.2L434.0 115.5L434.5 131.0L435.0 115.3L435.5 129.8L436.0 116.1L436.5 132.7L437.0 115.9L437.5 132.9L438.0 116.1L438.5 133.3L439.0 116.3L439.5 133.5L440.0 118.8L440.5 134.2L441.0 119.0L441.5 134.4L442.0 119.2L442.5 135.1L443.0 119.9L443.5 135.3L444.0 119.4L444.5 133.2L445.0 119.9L445.5 133.7L446.0 120.4L446.5 134.2L447.0 121.3L447.5 134.7L448.0 118.3L448.5 133.7L449.0 118.3L449.5 134.2L450.0 117.5L450.5 134.7L451.0 118.0L451.5 135.2L452.0 118.5L452.5 135.5L453.0 119.0L453.5 136.0L454.0 122.3L454.5 136.1L455.0 122.4L455.5 136.1L456.0 119.7L456.5 136.3L457.0 120.1L457.5 136.9L458.0 120.7L458.5 137.5L459.0 121.3L459.5 141.3L460.0 122.3L460.5 141.9L461.0 122.9L461.5 142.5L462.0 123.5L462.5 141.9L463.0 124.1L463.5 142.5L464.0 124.9L464.5 141.4L465.0 125.0L465.5 141.4L466.0 123.2L466.5 141.6L467.0 123.3L467.5 141.6L468.0 123.3L468.5 141.6L469.0 123.3L469.5 141.6L470.0 125.0L470.5 141.9L471.0 127.4L471.5 142.1L472.0 129.5L472.5 144.1L473.0 128.3L473.5 141.0L474.0 128.6L474.5 141.3L475.0 128.8L475.5 141.5L476.0 129.0L476.5 145.2L477.0 125.7L477.5 145.5L478.0 126.0L478.5 145.7L479.0 126.3L479.5 146.4L480.0 129.5L480.5 143.5L481.0 130.4L481.5 144.5L482.0 131.4L482.5 145.4L483.0 133.6L483.5 146.4L484.0 131.6L484.5 150.5L485.0 132.6L485.5 149.8L486.0 131.9L486.5 150.8L487.0 132.9L487.5 151.8L488.0 134.0L488.5 150.2L489.0 135.3L489.5 151.4L490.0 138.5L490.5 152.7L491.0 141.4L491.5 157.1L492.0 142.6L492.5 158.4L493.0 143.7L493.5 159.7L494.0 145.0L494.5 160.9L495.0 148.0L495.5 160.1L496.0 149.0L496.5 159.0L497.0 147.9L497.5 160.0L498.0 149.8L498.5 161.0L499.0 148.0L499.5 162.0L500.0 148.9L500.5 162.7L501.0 149.3L501.5 162.9L502.0 149.7L502.5 163.3L503.0 151.0L503.5 165.7L504.0 151.3L504.5 166.0L505.0 151.7L505.5 169.1L506.0 153.8L506.5 169.5L507.0 152.3L507.5 169.9L508.0 152.7L508.5 170.2L509.0 152.8L509.5 169.9L510.0 153.1L510.5 165.0L511.0 153.1L511.5 164.9L512.0 152.1L512.5 166.1L513.0 152.0L513.5 165.2L514.0 152.0L514.5 165.1L515.0 151.9L515.5 165.0L516.0 152.7L516.5 165.2L517.0 152.8L517.5 165.6L518.0 152.7L518.5 165.9L519.0 153.1L519.5 166.8L520.0 153.4L520.5 169.7L521.0 153.7L521.5 170.0L522.0 152.5L522.5 170.3L523.0 152.8L523.5 168.5L524.0 154.8L524.5 168.8L525.0 155.2L525.5 169.1L526.0 154.7L526.5 173.5L527.0 155.8L527.5 173.7L528.0 155.8L528.5 173.8L529.0 155.9L529.5 173.9L530.0 156.0L530.5 171.9L531.0 156.1L531.5 172.0L532.0 155.6L532.5 172.1L533.0 155.7L533.5 172.2L534.0 158.1L534.5 172.5L535.0 154.4L535.5 172.6L536.0 154.5L536.5 171.6L537.0 154.7L537.5 171.7L538.0 157.7L538.5 171.9L539.0 157.8L539.5 172.0L540.0 157.9L540.5 172.2L541.0 156.8L541.5 172.3L542.0 156.9L542.5 172.5L543.0 157.1L543.5 172.8L544.0 157.4L544.5 174.1L545.0 158.1L545.5 174.4L546.0 158.4L546.5 174.7L547.0 158.7L547.5 175.0L548.0 159.0L548.5 177.2L549.0 161.3L549.5 177.5L550.0 161.6L550.5 174.1L551.0 161.9L551.5 174.4L552.0 159.6L552.5 174.6L553.0 159.9L553.5 174.9L554.0 160.1L554.5 180.0L555.0 160.4L555.5 180.2L556.0 160.7L556.5 176.1L557.0 161.0L557.5 176.4L558.0 161.3L558.5 176.7L559.0 161.9L559.5 177.3L560.0 162.6L560.5 178.2L561.0 162.9L561.5 178.5L562.0 163.8L562.5 178.8L563.0 164.2L563.5 177.7L564.0 164.5L564.5 177.6L565.0 164.0L565.5 181.5L566.0 164.3L566.5 181.8L567.0 164.6L567.5 182.1L568.0 164.9L568.5 182.3L569.0 164.9L569.5 178.9L570.0 165.1L570.5 179.1L571.0 165.3L571.5 179.3L572.0 165.5L572.5 182.2L573.0 166.6L573.5 181.7L574.0 166.9L574.5 181.6L575.0 166.8L575.5 181.5L576.0 163.1L576.5 178.9L577.0 163.0L577.5 178.8L578.0 165.0L578.5 180.0L579.0 166.2L579.5 179.9L580.0 166.1L580.5 179.5L581.0 166.3L581.5 179.5L582.0 166.4L582.5 179.6L583.0 163.6L583.5 181.3L584.0 164.3L584.5 181.3L585.0 168.9L585.5 181.6L586.0 165.7L586.5 181.8L587.0 165.9L587.5 183.1L588.0 164.8L588.5 183.3L589.0 165.0L589.5 183.5L590.0 167.9L590.5 183.8L591.0 168.1L591.5 185.4L592.0 165.5L592.5 185.2L593.0 164.5L593.5 184.2L594.0 164.7L594.5 184.4L595.0 164.9L595.5 183.2L596.0 169.4L596.5 183.5L597.0 169.7L597.5 183.7L598.0 169.9L598.5 184.9L599.0 169.3L599.5 186.4L600.0 169.5L600.5 186.6L601.0 169.7L601.5 186.9L602.0 168.4L602.5 187.1L603.0 170.5L603.5 188.6L604.0 170.7L604.5 183.7L605.0 170.9L605.5 183.9L606.0 169.9L606.5 187.1L607.0 169.3L607.5 187.8L608.0 170.1L608.5 188.6L609.0 170.9L609.5 189.4L610.0 173.9L610.5 188.0L611.0 174.6L611.5 188.8L612.0 175.4L612.5 187.8L613.0 176.3L613.5 190.8L614.0 178.3L614.5 192.8L615.0 179.0L615.5 193.3L616.0 180.8L616.5 193.5L617.0 181.2L617.5 193.9L618.0 177.2L618.5 194.2L619.0 177.3L619.5 192.0L620.0 178.1L620.5 192.0L621.0 179.1L621.5 190.8L622.0 177.9L622.5 195.8L623.0 177.9L623.5 195.8L624.0 178.2L624.5 194.9L625.0 178.2L625.5 195.1L626.0 178.8L626.5 195.2L627.0 179.4L627.5 193.9L628.0 180.1L628.5 194.6L629.0 182.1L629.5 195.2L630.0 182.7L630.5 195.9L631.0 180.6L631.5 195.0L632.0 181.3L632.5 195.7L633.0 180.9L633.5 196.3L634.0 181.8L634.5 200.2L635.0 184.1L635.5 202.6L636.0 185.5L636.5 203.5L637.0 190.5L637.5 205.0L638.0 187.8L638.5 206.5L639.0 189.2L639.5 209.3L640.0 190.7L640.5 210.8L641.0 192.8L641.5 212.5L642.0 194.5L642.5 211.3L643.0 198.6L643.5 213.0L644.0 200.3L644.5 216.0L645.0 200.5L645.5 216.3L646.0 200.6L646.5 216.3L647.0 200.9L647.5 215.8L648.0 200.9L648.5 215.8L649.0 201.2L649.5 215.3L650.0 199.0L650.5 215.3L651.0 199.0L651.5 214.0L652.0 199.0L652.5 214.0L653.0 198.8L653.5 214.1L654.0 198.9L654.5 214.1L655.0 198.9L655.5 215.3L656.0 202.4L656.5 215.3L657.0 202.4L657.5 215.4L658.0 202.5L658.5 214.6L659.0 202.3L659.5 217.9L660.0 202.3L660.5 217.9L661.0 198.7L661.5 218.0L662.0 198.8L662.5 218.1L663.0 201.6L663.5 218.8L664.0 202.1L664.5 219.4L665.0 204.2L665.5 217.0L666.0 204.8L666.5 217.5L667.0 205.4L667.5 218.1L668.0 204.0L668.5 218.7L669.0 204.6L669.5 219.5L670.0 205.3L670.5 220.1L671.0 204.0L671.5 220.2L672.0 203.8L672.5 221.2L673.0 205.8L673.5 220.0L674.0 205.6L674.5 219.9L675.0 204.2L675.5 219.7L676.0 204.0L676.5 219.6L677.0 203.9L677.5 223.1L678.0 205.3L678.5 223.0L679.0 207.9L679.5 222.8L680.0 207.7L680.5 219.1L681.0 207.7L681.5 218.9L682.0 207.6L682.5 220.1L683.0 206.5L683.5 220.5L684.0 206.9L684.5 221.7L685.0 203.8L685.5 222.1L686.0 204.2L686.5 219.5L687.0 204.5L687.5 220.2L688.0 205.1L688.5 220.8L689.0 205.8L689.5 221.4L690.0 206.0L690.5 222.3L691.0 206.6L691.5 222.8L692.0 207.0L692.5 226.8L693.0 206.6L693.5 226.4L694.0 210.5L694.5 226.8L695.0 210.9L695.5 227.3L696.0 211.3L696.5 225.6L697.0 212.7L697.5 226.0L698.0 213.2L698.5 226.5L699.0 213.3L699.5 224.4L700.0 213.5L700.5 224.3L701.0 211.8L701.5 225.7L702.0 213.2L702.5 228.8L703.0 212.5L703.5 228.6L704.0 212.3L704.5 225.9L705.0 212.2L705.5 225.7L706.0 213.7L706.5 225.6L707.0 214.0L707.5 225.8L708.0 213.8L708.5 228.6L709.0 211.4L709.5 228.4L710.0 211.2L710.5 228.2L711.0 209.0L711.5 227.4L712.0 209.2L712.5 227.7L713.0 211.7L713.5 228.1L714.0 212.0L714.5 229.4L715.0 212.4L715.5 229.7L716.0 212.7L716.5 228.9L717.0 213.8L717.5 226.1L718.0 214.1L718.5 226.5L719.0 214.4L719.5 226.8L720.0 214.8L720.5 229.0L721.0 215.2L721.5 229.4L722.0 215.8L722.5 230.0L723.0 213.8L723.5 230.4L724.0 214.2L724.5 232.2L725.0 218.2L725.5 232.5L726.0 218.6L726.5 232.9L727.0 218.9L727.5 230.7L728.0 215.5L728.5 231.1L729.0 215.8L729.5 230.6L730.0 216.2L730.5 231.8L731.0 219.1L731.5 236.4L732.0 219.4L732.5 236.8L733.0 219.8L733.5 237.0L734.0 219.7L734.5 235.9L735.0 217.8L735.5 235.7L736.0 217.6L736.5 235.5L737.0 217.5L737.5 235.5L738.0 217.4L738.5 234.8L739.0 214.6L739.5 234.8L740.0 214.6L740.5 234.7L741.0 214.5L741.5 234.6L742.0 217.4L742.5 232.1L743.0 217.3L743.5 232.0L744.0 219.0L744.5 231.9L745.0 218.9L745.5 230.3L746.0 219.4L746.5 232.9L747.0 216.6L747.5 233.4L748.0 218.1L748.5 236.6L749.0 218.6L749.5 237.1L750.0 218.0L750.5 237.6L751.0 218.5L751.5 237.8L752.0 221.5L752.5 238.9L753.0 222.6L753.5 239.4L754.0 223.2L754.5 238.1L755.0 223.9L755.5 238.7L756.0 223.0L756.5 239.4L757.0 223.7L757.5 240.1L758.0 224.4L758.5 241.3L759.0 224.3L759.5 242.0L760.0 224.9L760.5 243.8L761.0 225.5L761.5 244.4L762.0 225.7L762.5 244.7L763.0 225.7L763.5 244.8L764.0 225.8L764.5 246.2L765.0 226.0L765.5 246.2L766.0 229.5L766.5 245.5L767.0 229.6L767.5 243.2L768.0 229.7L768.5 243.2L769.0 229.7L769.5 243.3L770.0 227.6L770.5 244.9L771.0 228.0L771.5 245.6L772.0 230.7L772.5 246.3L773.0 231.4L773.5 247.0L774.0 232.1L774.5 244.3L775.0 231.1L775.5 245.0L776.0 227.7L776.5 244.1L777.0 228.4L777.5 244.8L778.0 229.4L778.5 248.7L779.0 230.1L779.5 249.6L780.0 234.0L780.5 249.9L781.0 235.1L781.5 251.0L782.0 236.1L782.5 253.0L783.0 237.2L783.5 254.0L784.0 239.7L784.5 255.4L785.0 240.8L785.5 256.5L786.0 242.0L786.5 258.5L787.0 243.5L787.5 260.0L788.0 242.9L788.5 263.4L789.0 244.8L789.5 265.4L790.0 246.8L790.5 267.4L791.0 250.0L791.5 267.9L792.0 250.3L792.5 268.2L793.0 250.5L793.5 268.4L794.0 249.5L794.5 267.0L795.0 249.8L795.5 267.2L796.0 250.1L796.5 267.6L797.0 251.0L797.5 268.0L798.0 251.2L798.5 268.3L799.0 251.4L799.5 268.6L800.0 251.3L800.5 267.7L801.0 251.8L801.5 268.1L802.0 252.2L802.5 268.5L803.0 253.2L803.5 269.0L804.0 253.6L804.5 267.9L805.0 254.0L805.5 266.9L806.0 253.0L806.5 272.0L807.0 253.4L807.5 273.0L808.0 253.8L808.5 273.4L809.0 253.7L809.5 271.6L810.0 254.1L810.5 272.1L811.0 254.5L811.5 274.0L812.0 258.0L812.5 274.4L813.0 258.5L813.5 273.2L814.0 257.0L814.5 273.7L815.0 261.0L815.5 274.2L816.0 261.4L816.5 274.7L817.0 261.9L817.5 277.4L818.0 258.9L818.5 277.7L819.0 259.2L819.5 277.9L820.0 259.1L820.5 275.1L821.0 259.7L821.5 275.3L822.0 260.0L822.5 274.1L823.0 260.2L823.5 274.4L824.0 262.7L824.5 274.6L825.0 262.9L825.5 274.8L826.0 262.8L826.5 274.6L827.0 262.0L827.5 273.4L828.0 260.8L828.5 273.1L829.0 260.5L829.5 276.0L830.0 260.2L830.5 275.7L831.0 259.9L831.5 275.4L832.0 257.8L832.5 273.9L833.0 255.6L833.5 273.6L834.0 257.0L834.5 275.1L835.0 256.9L835.5 276.6L836.0 256.8L836.5 274.4L837.0 261.8L837.5 274.5L838.0 262.2L838.5 275.0L839.0 260.8L839.5 274.2L840.0 261.3L840.5 274.7L841.0 259.0L841.5 277.7L842.0 259.5L842.5 278.2L843.0 260.4L843.5 279.1L844.0 260.8L844.5 277.9L845.0 261.3L845.5 281.8L846.0 263.6L846.5 281.9L847.0 263.7L847.5 280.5L848.0 262.3L848.5 280.6L849.0 265.6L849.5 277.1L850.0 265.7L850.5 277.2L851.0 265.6L851.5 277.2L852.0 265.6L852.5 277.2L853.0 265.6L853.5 277.2L854.0 265.6L854.5 278.2L855.0 263.3L855.5 278.3L856.0 263.3L856.5 278.3L857.0 263.3L857.5 278.3L858.0 263.3L858.5 280.9L859.0 263.7L859.5 280.9L860.0 261.1L860.5 280.4L861.0 262.6L861.5 282.2L862.0 263.3L862.5 282.1L863.0 264.0L863.5 282.8L864.0 269.2L864.5 283.6L865.0 270.0L865.5 284.3L866.0 270.7L866.5 285.7L867.0 267.6L867.5 286.5L868.0 268.3L868.5 287.2L869.0 268.9L869.5 285.5L870.0 269.3L870.5 285.7L871.0 271.2L871.5 285.8L872.0 271.3L872.5 288.3L873.0 271.4L873.5 288.4L874.0 273.9L874.5 288.5L875.0 274.0L875.5 284.8L876.0 274.1L876.5 285.0L877.0 270.7L877.5 287.1L878.0 270.8L878.5 287.2L879.0 271.0L879.5 287.6L880.0 270.0L880.5 287.9L881.0 270.1L881.5 288.0L882.0 270.1L882.5 285.4L883.0 272.9L883.5 285.3L884.0 272.9L884.5 285.2L885.0 272.8L885.5 285.1L886.0 272.8L886.5 287.9L887.0 270.6L887.5 288.0L888.0 270.6L888.5 288.0L889.0 274.3L889.5 288.1L890.0 274.3L890.5 288.1L891.0 274.3L891.5 288.1L892.0 274.4L892.5 288.1L893.0 274.4L893.5 285.1L894.0 274.5L894.5 285.1L895.0 273.6L895.5 288.1L896.0 273.6L896.5 288.1L897.0 273.7L897.5 288.1L898.0 272.4L898.5 288.4L899.0 273.0L899.5 289.2L900.0 274.6L900.5 289.8L901.0 275.3L901.5 291.3L902.0 276.0L902.5 291.4L903.0 275.4L903.5 292.1L904.0 276.1L904.5 292.9L905.0 276.9L905.5 293.6L906.0 279.0L906.5 294.2L907.0 279.4L907.5 294.8L908.0 276.6L908.5 294.9L909.0 276.8L909.5 295.1L910.0 277.0L910.5 295.3L911.0 278.3L911.5 296.9L912.0 281.9L912.5 297.1L913.0 282.1L913.5 297.1L914.0 282.3L914.5 297.3L915.0 282.3L915.5 297.5L916.0 282.5L916.5 296.7L917.0 282.3L917.5 297.8L918.0 283.5L918.5 296.0L919.0 284.7L919.5 297.1L920.0 285.9L920.5 302.3L921.0 287.0L921.5 303.4L922.0 284.6L922.5 301.7L923.0 285.5L923.5 302.3L924.0 286.0L924.5 302.9L925.0 289.0L925.5 303.4L926.0 289.6L926.5 305.6L927.0 286.7L927.5 306.2L928.0 287.3L928.5 305.4L929.0 288.5L929.5 306.6L930.0 291.2L930.5 307.4L931.0 293.0L931.5 309.2L932.0 296.3L932.5 313.9L933.0 298.1L933.5 315.7L934.0 302.8L934.5 318.2L935.0 303.5L935.5 319.7L936.0 305.1L936.5 319.9L937.0 306.7L937.5 321.6L938.0 308.3L938.5 325.3L939.0 310.0L939.5 322.2L940.0 310.1L940.5 322.3L941.0 310.2L941.5 322.4L942.0 310.2L942.5 322.5L943.0 309.5L943.5 322.0L944.0 309.4L944.5 322.1L945.0 308.8L945.5 321.2L946.0 308.9L946.5 321.3L947.0 309.0L947.5 321.4L948.0 310.4L948.5 322.5L949.0 310.5L949.5 322.8L950.0 310.9L950.5 323.2L951.0 311.3L951.5 324.6L952.0 308.5L952.5 323.3L953.0 307.5L953.5 323.7L954.0 307.9L954.5 324.0L955.0 308.3L955.5 324.3L956.0 311.7L956.5 324.6L957.0 312.0L957.5 325.0L958.0 312.4L958.5 326.3L959.0 314.0L959.5 326.7L960.0 310.4L960.5 327.1L961.0 310.7L961.5 326.6L962.0 310.7L962.5 326.7L963.0 314.0L963.5 326.9L964.0 314.0L964.5 327.0L965.0 314.0L965.5 327.0L966.0 311.5L966.5 327.0L967.0 311.6L967.5 329.0L968.0 311.8L968.5 328.2L969.0 311.8L969.5 327.6L970.0 311.7L970.5 327.5L971.0 309.8L971.5 327.4L972.0 309.7L972.5 324.2L973.0 309.8L973.5 329.5L974.0 310.2L974.5 329.8L975.0 313.8L975.5 330.1L976.0 314.1L976.5 325.2L977.0 314.5L977.5 326.8L978.0 316.1L978.5 327.1L979.0 312.2L979.5 331.0L980.0 312.6L980.5 331.3L981.0 312.8L981.5 329.7L982.0 316.4L982.5 329.5L983.0 314.9L983.5 328.0L984.0 314.8L984.5 327.9L985.0 314.6L985.5 328.3L986.0 314.5L986.5 328.1L987.0 314.4L987.5 328.0L988.0 314.2L988.5 327.9L989.0 310.1L989.5 328.2L990.0 310.2L990.5 328.4L991.0 310.4L991.5 327.4L992.0 311.8L992.5 327.6L993.0 312.0L993.5 327.8L994.0 312.2L994.5 328.0L995.0 313.0L995.5 329.2L996.0 313.2L996.5 329.4L997.0 313.4L997.5 329.6L998.0 311.2L998.5 331.0L999.0 312.5L999.5 328.4L1000.0 313.1L1000.5 329.3L1001.0 314.1L1001.5 330.3L1002.0 315.0L1002.5 332.6L1003.0 316.0L1003.5 333.2L1004.0 316.1L1004.5 333.3L1005.0 316.2L1005.5 335.2L1006.0 316.8L1006.5 335.3L1007.0 316.9L1007.5 335.5L1008.0 320.3L1008.5 335.6L1009.0 320.4L1009.5 331.2L1010.0 320.9L1010.5 332.1L1011.0 321.9L1011.5 335.4L1012.0 322.9L1012.5 336.4L1013.0 323.9L1013.5 337.4L1014.0 323.6L1014.5 338.4L1015.0 324.3L1015.5 339.3L1016.0 324.2L1016.5 340.7L1017.0 327.0L1017.5 340.8L1018.0 327.1L1018.5 340.9L1019.0 327.2L1019.5 341.7L1020.0 322.2L1020.5 341.5L1021.0 321.9L1021.5 341.3L1022.0 322.0L1022.5 341.0L1023.0 321.8L1023.5 339.2L1024.0 321.5L1024.5 339.0L1025.0 325.7L1025.5 339.3L1026.0 325.9L1026.5 339.6L1027.0 326.2L1027.5 340.2L1028.0 326.4L1028.5 340.4L1029.0 326.7L1029.5 340.7L1030.0 326.8L1030.5 340.6L1031.0 327.0L1031.5 340.8L1032.0 322.5L1032.5 338.6L1033.0 322.7L1033.5 338.9L1034.0 322.9L1034.5 338.7L1035.0 325.7L1035.5 338.9L1036.0 325.6L1036.5 338.9L1037.0 325.8L1037.5 341.3L1038.0 323.9L1038.5 343.8L1039.0 324.0L1039.5 343.9L1040.0 324.1L1040.5 344.5L1041.0 324.4L1041.5 343.9L1042.0 324.5L1042.5 344.0L1043.0 324.6L1043.5 344.1L1044.0 323.7L1044.5 340.9L1045.0 323.8L1045.5 341.2L1046.0 324.4L1046.5 342.2L1047.0 325.3L1047.5 342.8L1048.0 325.9L1048.5 344.8L1049.0 326.3L1049.5 345.4L1050.0 331.2L1050.5 346.0L1051.0 331.8L1051.5 344.8L1052.0 332.4L1052.5 345.4L1053.0 333.0L1053.5 345.5L1054.0 331.1L1054.5 345.9L1055.0 331.5L1055.5 348.0L1056.0 330.4L1056.5 348.4L1057.0 330.9L1057.5 348.9L1058.0 331.8L1058.5 348.1L1059.0 332.2L1059.5 348.5L1060.0 336.4L1060.5 349.0L1061.0 335.7L1061.5 349.4L1062.0 336.2L1062.5 351.5L1063.0 336.6L1063.5 352.0L1064.0 337.1L1064.5 352.5L1065.0 335.9L1065.5 353.1L1066.0 336.5L1066.5 353.9L1067.0 337.1L1067.5 354.5L1068.0 337.6L1068.5 354.6L1069.0 337.1L1069.5 355.1L1070.0 337.6L1070.5 355.7L1071.0 342.0L1071.5 358.9L1072.0 342.9L1072.5 359.8L1073.0 340.8L1073.5 358.1L1074.0 341.9L1074.5 359.6L1075.0 347.4L1075.5 361.3L1076.0 349.8L1076.5 361.3L1077.0 351.6L1077.5 363.0L1078.0 353.3L1078.5 364.7L1079.0 351.2L1079.5 366.5L1080.0 353.0L1080.5 373.2L1081.0 353.9L1081.5 374.3L1082.0 356.0L1082.5 372.0L1083.0 360.5L1083.5 374.1L1084.0 362.5L1084.5 375.9L1085.0 362.3L1085.5 376.3L1086.0 363.2L1086.5 377.2L1087.0 363.6L1087.5 377.5L1088.0 364.1L1088.5 381.0L1089.0 364.1L1089.5 381.0L1090.0 364.1L1090.5 378.5L1091.0 363.8L1091.5 378.8L1092.0 364.0L1092.5 381.1L1093.0 364.4L1093.5 381.5L1094.0 364.8L1094.5 377.1L1095.0 365.2L1095.5 377.4L1096.0 365.0L1096.5 377.8L1097.0 366.6L1097.5 379.5L1098.0 367.0L1098.5 382.3L1099.0 364.6L1099.5 382.7L1100.0 364.9L1100.5 383.1L1101.0 365.2L1101.5 383.3L1102.0 365.5L1102.5 382.1L1103.0 368.9L1103.5 381.0L1104.0 369.1L1104.5 381.2L1105.0 366.8L1105.5 380.9L1106.0 367.1L1106.5 384.6L1107.0 366.9L1107.5 384.9L1108.0 367.7L1108.5 385.7L1109.0 368.0L1109.5 386.0L1110.0 368.3L1110.5 387.2L1111.0 369.5L1111.5 384.5L1112.0 369.7L1112.5 384.6L1113.0 371.6L1113.5 384.6L1114.0 371.5L1114.5 382.9L1115.0 372.7L1115.5 383.1L1116.0 372.7L1116.5 385.8L1117.0 372.6L1117.5 385.8L1118.0 369.4L1118.5 385.7L1119.0 368.6L1119.5 384.9L1120.0 368.6L1120.5 382.0L1121.0 368.6L1121.5 382.0L1122.0 368.5L1122.5 384.2L1123.0 369.1L1123.5 384.6L1124.0 369.5L1124.5 384.7L1125.0 369.9L1125.5 385.1L1126.0 370.9L1126.5 389.2L1127.0 371.9L1127.5 389.6L1128.0 372.9L1128.5 387.9L1129.0 373.3L1129.5 388.3L1130.0 372.6L1130.5 388.1L1131.0 373.0L1131.5 388.5L1132.0 373.2L1132.5 389.7L1133.0 373.6L1133.5 389.9L1134.0 373.7L1134.5 390.0L1135.0 373.7L1135.5 388.1L1136.0 373.6L1136.5 388.0L1137.0 373.5L1137.5 387.9L1138.0 374.3L1138.5 390.8L1139.0 375.7L1139.5 390.7L1140.0 375.6L1140.5 388.6L1141.0 375.8L1141.5 389.2L1142.0 373.8L1142.5 388.1L1143.0 372.7L1143.5 389.2L1144.0 373.4L1144.5 389.8L1145.0 376.6L1145.5 390.4L1146.0 377.2L1146.5 391.9L1147.0 379.9L1147.5 393.1L1148.0 380.5L1148.5 393.7L1149.0 381.1L1149.5 396.7L1150.0 381.5L1150.5 396.9L1151.0 381.7L1151.5 397.8L1152.0 378.3L1152.5 397.9L1153.0 378.4L1153.5 398.0L1154.0 379.4L1154.5 394.5L1155.0 379.5L1155.5 394.6L1156.0 381.9L1156.5 393.2L1157.0 380.4L1157.5 395.3L1158.0 377.9L1158.5 395.4L1159.0 378.0L1159.5 395.5L1160.0 380.9L1160.5 397.9L1161.0 379.9L1161.5 398.0L1162.0 380.0L1162.5 398.1L1163.0 380.1L1163.5 398.2L1164.0 379.4L1164.5 396.3L1165.0 381.0L1165.5 396.5L1166.0 381.2L1166.5 396.7L1167.0 379.9L1167.5 398.3L1168.0 380.1L1168.5 398.5L1169.0 383.0L1169.5 398.6L1170.0 383.1L1170.5 398.8L1171.0 383.3L1171.5 398.8L1172.0 382.0L1172.5 395.8L1173.0 379.5L1173.5 395.9L1174.0 379.7L1174.5 396.1L1175.0 380.4L1175.5 396.2L1176.0 380.6L1176.5 400.2L1177.0 382.5L1177.5 400.3L1178.0 382.7L1178.5 395.7L1179.0 382.9L1179.5 395.9L1180.0 383.5L1180.5 396.2L1181.0 384.7L1181.5 397.3L1182.0 383.8L1182.5 402.1L1183.0 384.0L1183.5 402.3L1184.0 384.2L1184.5 401.8L1185.0 384.9L1185.5 400.9L1186.0 385.3L1186.5 401.3L1187.0 386.8L1187.5 398.4L1188.0 387.2L1188.5 398.8L1189.0 387.6L1189.5 398.4L1190.0 388.0L1190.5 398.7L1191.0 385.0L1191.5 399.2L1192.0 385.7L1192.5 403.9L1193.0 389.5L1193.5 405.2L1194.0 390.9L1194.5 406.0L1195.0 392.3L1195.5 406.8L1196.0 393.0L1196.5 407.6L1197.0 393.8L1197.5 408.3L1198.0 389.8L1198.5 409.8L1199.0 390.6L1199.5 410.5L1200.0 391.3L1200.5 411.3L1201.0 392.9L1201.5 408.7L1202.0 393.4L1202.5 409.1L1203.0 393.7L1203.5 414.2L1204.0 394.0L1204.5 414.4L1205.0 395.5L1205.5 414.6L1206.0 394.6L1206.5 411.8L1207.0 394.8L1207.5 412.0L1208.0 394.1L1208.5 411.2L1209.0 399.3L1209.5 411.4L1210.0 399.5L1210.5 412.7L1211.0 396.2L1211.5 412.9L1212.0 396.4L1212.5 413.1L1213.0 399.7L1213.5 413.2L1214.0 399.9L1214.5 413.4L1215.0 399.5L1215.5 416.0L1216.0 400.2L1216.5 416.7L1217.0 400.4L1217.5 416.3L1218.0 401.1L1218.5 416.7L1219.0 402.0L1219.5 414.1L1220.0 403.2L1220.5 414.4L1221.0 399.9L1221.5 419.9L1222.0 401.1L1222.5 421.1L1223.0 404.3L1223.5 422.4L1224.0 406.1L1224.5 421.5L1225.0 408.2L1225.5 423.6L1226.0 410.7L1226.5 426.2L1227.0 410.7L1227.5 428.3L1228.0 412.9L1228.5 430.3L1229.0 415.1L1229.5 432.5L1230.0 417.2L1230.5 437.8L1231.0 419.5L1231.5 438.6L1232.0 421.8L1232.5 438.9L1233.0 422.0L1233.5 439.1L1234.0 422.1L1234.5 436.0L1235.0 421.2L1235.5 438.7L1236.0 421.4L1236.5 438.8L1237.0 421.5L1237.5 438.2L1238.0 423.2L1238.5 439.8L1239.0 423.4L1239.5 439.9L1240.0 421.4L1240.5 438.1L1241.0 419.1L1241.5 438.4L1242.0 423.7L1242.5 438.9L1243.0 424.2L1243.5 439.0L1244.0 420.5L1244.5 439.5L1245.0 421.0L1245.5 440.0L1246.0 421.5L1246.5 440.5L1247.0 426.9L1247.5 442.0L1248.0 426.5L1248.5 442.5L1249.0 427.0L1249.5 443.9L1250.0 428.4L1250.5 444.5L1251.0 429.0L1251.5 441.0L1252.0 426.9L1252.5 441.6L1253.0 427.3L1253.5 442.0L1254.0 427.6L1254.5 442.3L1255.0 430.1L1255.5 444.6L1256.0 431.3L1256.5 446.0L1257.0 431.7L1257.5 446.4L1258.0 430.9L1258.5 444.3L1259.0 431.1L1259.5 444.3L1260.0 431.6L1260.5 448.5L1261.0 431.3L1261.5 448.2L1262.0 431.1L1262.5 446.4L1263.0 430.8L1263.5 443.1L1264.0 430.4L1264.5 442.8L1265.0 430.1L1265.5 444.2L1266.0 427.8L1266.5 444.4L1267.0 428.1L1267.5 443.3L1268.0 428.3L1268.5 443.6L1269.0 428.6L1269.5 444.0L1270.0 431.1L1270.5 444.7L1271.0 432.1L1271.5 447.3L1272.0 432.5L1272.5 447.0L1273.0 428.2L1273.5 443.4L1274.0 427.9L1274.5 443.1L1275.0 427.1L1275.5 443.8L1276.0 426.9L1276.5 443.5L1277.0 426.6L1277.5 442.2L1278.0 426.3L1278.5 445.0L1279.0 426.8L1279.5 445.4L1280.0 427.3L1280.5 445.1L1281.0 429.1L1281.5 445.6L1282.0 430.7L1282.5 447.2L1283.0 431.1L1283.5 448.9L1284.0 431.6L1284.5 449.4L1285.0 432.1L1285.5 447.9L1286.0 432.6L1286.5 448.2L1287.0 435.9L1287.5 451.0L1288.0 436.0L1288.5 451.2L1289.0 432.3L1289.5 451.3L1290.0 432.4L1290.5 451.7L1291.0 432.1L1291.5 451.4L1292.0 434.2L1292.5 446.3L1293.0 434.3L1293.5 446.5L1294.0 434.4L1294.5 446.6L1295.0 434.6L1295.5 446.7L1296.0 432.4L1296.5 447.7L1297.0 432.6L1297.5 448.0L1298.0 432.8L1298.5 448.5L1299.0 433.0L1299.5 448.7L1300.0 432.9L1300.5 449.4L1301.0 433.1L1301.5 451.1L1302.0 433.3L1302.5 449.6L1303.0 434.4L1303.5 450.2L1304.0 435.1L1304.5 450.8L1305.0 438.1L1305.5 455.3L1306.0 438.8L1306.5 455.8L1307.0 438.9L1307.5 455.7L1308.0 437.4L1308.5 455.7L1309.0 437.4L1309.5 455.7L1310.0 437.4L1310.5 455.6L1311.0 437.4L1311.5 453.6L1312.0 440.6L1312.5 453.6L1313.0 438.4L1313.5 451.7L1314.0 439.3L1314.5 451.1L1315.0 440.0L1315.5 451.8L1316.0 438.1L1316.5 452.4L1317.0 438.7L1317.5 453.1L1318.0 439.3L1318.5 456.7L1319.0 439.6L1319.5 458.7L1320.0 443.1L1320.5 459.0L1321.0 443.4L1321.5 459.2L1322.0 443.5L1322.5 455.9L1323.0 440.2L1323.5 455.9L1324.0 440.1L1324.5 456.4L1325.0 440.6L1325.5 456.4L1326.0 445.9L1326.5 457.7L1327.0 445.9L1327.5 456.3L1328.0 445.9L1328.5 456.4L1329.0 446.2L1329.5 458.5L1330.0 446.3L1330.5 458.8L1331.0 447.5L1331.5 459.6L1332.0 447.8L1332.5 460.0L1333.0 448.2L1333.5 462.7L1334.0 448.6L1334.5 463.1L1335.0 447.3L1335.5 462.2L1336.0 447.7L1336.5 462.5L1337.0 448.1L1337.5 463.1L1338.0 448.7L1338.5 461.4L1339.0 446.9L1339.5 463.0L1340.0 447.4L1340.5 463.6L1341.0 448.0L1341.5 464.1L1342.0 449.9L1342.5 463.5L1343.0 450.5L1343.5 465.9L1344.0 452.9L1344.5 466.4L1345.0 453.4L1345.5 466.0L1346.0 452.5L1346.5 466.5L1347.0 453.0L1347.5 470.4L1348.0 453.7L1348.5 470.7L1349.0 454.0L1349.5 471.0L1350.0 454.3L1350.5 471.4L1351.0 454.6L1351.5 467.4L1352.0 455.0L1352.5 467.7L1353.0 455.3L1353.5 472.0L1354.0 455.6L1354.5 472.1L1355.0 455.7L1355.5 472.4L1356.0 453.1L1356.5 472.9L1357.0 452.9L1357.5 469.4L1358.0 453.9L1358.5 469.9L1359.0 454.4L1359.5 470.3L1360.0 457.0L1360.5 471.3L1361.0 457.5L1361.5 471.8L1362.0 454.7L1362.5 472.6L1363.0 455.2L1363.5 473.3L1364.0 456.2L1364.5 474.0L1365.0 457.0L1365.5 474.8L1366.0 457.8L1366.5 474.8L1367.0 462.0L1367.5 475.6L1368.0 462.8L1368.5 475.5L1369.0 463.6L1369.5 476.3L1370.0 462.6L1370.5 477.2L1371.0 464.2L1371.5 479.4L1372.0 467.0L1372.5 480.4L1373.0 469.2L1373.5 482.6L1374.0 470.0L1374.5 484.7L1375.0 472.1L1375.5 486.9L1376.0 474.3L1376.5 492.3L1377.0 479.0L1377.5 494.0L1378.0 479.7L1378.5 491.8L1379.0 480.4L1379.5 491.8L1380.0 480.6L1380.5 492.0L1381.0 478.4L1381.5 492.2L1382.0 478.6L1382.5 492.3L1383.0 478.7L1383.5 496.4L1384.0 478.9L1384.5 497.9L1385.0 479.5L1385.5 498.1L1386.0 479.6L1386.5 494.6L1387.0 479.8L1387.5 494.8L1388.0 481.5L1388.5 495.1L1389.0 481.8L1389.5 496.4L1390.0 480.0L1390.5 496.7L1391.0 479.6L1391.5 500.5L1392.0 480.0L1392.5 500.9L1393.0 481.4L1393.5 501.3L1394.0 481.8L1394.5 500.2L1395.0 482.2L1395.5 500.6L1396.0 482.1L1396.5 500.3L1397.0 484.2L1397.5 500.1L1398.0 484.1L1398.5 496.8L1399.0 483.9L1399.5 496.6L1400.0 483.7L1400.5 498.6L1401.0 486.3L1401.5 499.1L1402.0 486.8L1402.5 498.7L1403.0 486.2L1403.5 498.1L1404.0 482.0L1404.5 500.8L1405.0 482.5L1405.5 501.3L1406.0 483.0L1406.5 499.1L1407.0 487.2L1407.5 499.6L1408.0 487.7L1408.5 499.9L1409.0 488.2L1409.5 500.4L1410.0 487.7L1410.5 501.1L1411.0 488.0L1411.5 503.0L1412.0 489.5L1412.5 503.3L1413.0 489.8L1413.5 503.1L1414.0 488.7L1414.5 503.4L1415.0 489.0L1415.5 503.7L1416.0 489.3L1416.5 504.7L1417.0 491.8L1417.5 504.8L1418.0 491.7L1418.5 504.7L1419.0 491.5L1419.5 506.7L1420.0 491.4L1420.5 506.1L1421.0 490.8L1421.5 506.0L1422.0 489.4L1422.5 505.1L1423.0 489.4L1423.5 505.0L1424.0 489.4L1424.5 505.0L1425.0 489.4L1425.5 504.9L1426.0 489.3L1426.5 505.5L1427.0 489.3L1427.5 505.5L1428.0 490.4L1428.5 505.4L1429.0 487.5L1429.5 505.4L1430.0 488.2L1430.5 505.3L1431.0 488.2L1431.5 505.3L1432.0 488.1L1432.5 505.2L1433.0 490.4L1433.5 505.1L1434.0 490.5L1434.5 505.4L1435.0 490.9L1435.5 505.7L1436.0 491.0L1436.5 506.1L1437.0 491.4L1437.5 506.5L1438.0 490.2L1438.5 506.9L1439.0 490.6L1439.5 509.4L1440.0 491.0L1440.5 509.8L1441.0 491.4L1441.5 510.2L1442.0 491.6L1442.5 511.1L1443.0 494.3L1443.5 511.5L1444.0 494.7L1444.5 509.1L1445.0 494.9L1445.5 507.9L1446.0 491.8L1446.5 508.0L1447.0 494.6L1447.5 508.2L1448.0 492.6L1448.5 506.2L1449.0 494.2L1449.5 507.0L1450.0 494.6L1450.5 507.5L1451.0 494.8L1451.5 507.7L1452.0 495.0L1452.5 507.9L1453.0 496.5L1453.5 512.7L1454.0 496.1L1454.5 513.0L1455.0 496.3L1455.5 510.3L1456.0 496.6L1456.5 510.5L1457.0 496.8L1457.5 513.1L1458.0 494.0L1458.5 513.1L1459.0 493.9L1459.5 513.3L1460.0 494.4L1460.5 513.5L1461.0 494.7L1461.5 511.6L1462.0 494.9L1462.5 511.8L1463.0 497.7L1463.5 511.5L1464.0 498.0L1464.5 512.1L1465.0 498.6L1465.5 512.4L1466.0 498.9L1466.5 512.0L1467.0 499.0L1467.5 512.2L1468.0 498.7L1468.5 516.8L1469.0 498.0L1469.5 516.2L1470.0 498.5L1470.5 516.7L1471.0 498.9L1471.5 517.2L1472.0 498.3L1472.5 517.6L1473.0 501.4L1473.5 519.3L1474.0 503.0L1474.5 517.1L1475.0 502.0L1475.5 517.1L1476.0 502.0L1476.5 517.1L1477.0 502.0L1477.5 518.4L1478.0 502.8L1478.5 518.4L1479.0 502.8L1479.5 518.4L1480.0 502.8L1480.5 518.4L1481.0 502.8L1481.5 515.1L1482.0 504.2L1482.5 515.1L1483.0 504.4L1483.5 515.8L1484.0 505.4L1484.5 516.8L1485.0 502.9L1485.5 519.6L1486.0 503.3L1486.5 520.6L1487.0 504.3L1487.5 522.6L1488.0 504.6L1488.5 523.0L1489.0 508.5L1489.5 523.3L1490.0 508.8L1490.5 523.7L1491.0 504.0L1491.5 520.5L1492.0 504.1L1492.5 520.4L1493.0 507.3L1493.5 518.9L1494.0 505.8L1494.5 518.9L1495.0 505.8L1495.5 520.9L1496.0 502.9L1496.5 520.8L1497.0 502.8L1497.5 520.8L1498.0 502.8L1498.5 520.7L1499.0 505.5L1499.5 518.3L1500.0 505.5L1500.5 518.4L1501.0 504.8L1501.5 518.4L1502.0 504.9L1502.5 518.2L1503.0 505.0L1503.5 519.3L1504.0 505.4L1504.5 521.2L1505.0 505.4L1505.5 519.5L1506.0 505.7L1506.5 519.8L1507.0 506.0L1507.5 520.1L1508.0 506.7L1508.5 525.6L1509.0 507.0L1509.5 525.1L1510.0 509.1L1510.5 525.4L1511.0 509.5L1511.5 523.3L1512.0 510.1L1512.5 524.4L1513.0 510.4L1513.5 523.3L1514.0 511.5L1514.5 524.4L1515.0 512.3L1515.5 525.1L1516.0 510.1L1516.5 526.2L1517.0 511.2L1517.5 531.5L1518.0 512.3L1518.5 532.8L1519.0 514.8L1519.5 530.3L1520.0 517.0L1520.5 532.3L1521.0 519.1L1521.5 534.6L1522.0 524.9L1522.5 537.3L1523.0 527.1L1523.5 539.3L1524.0 528.3L1524.5 544.0L1525.0 526.5L1525.5 544.5L1526.0 527.0L1526.5 545.0L1527.0 527.8L1527.5 545.4L1528.0 527.4L1528.5 545.4L1529.0 525.9L1529.5 545.3L1530.0 528.3L1530.5 545.0L1531.0 527.9L1531.5 544.6L1532.0 525.4L1532.5 541.0L1533.0 525.0L1533.5 540.7L1534.0 527.0L1534.5 540.6L1535.0 527.4L1535.5 541.5L1536.0 527.8L1536.5 541.9L1537.0 524.9L1537.5 543.6L1538.0 529.2L1538.5 544.0L1539.0 529.5L1539.5 544.3L1540.0 527.1L1540.5 545.9L1541.0 527.5L1541.5 547.5L1542.0 527.8L1542.5 547.7L1543.0 527.9L1543.5 547.8L1544.0 528.1L1544.5 544.8L1545.0 528.4L1545.5 545.2L1546.0 528.1L1546.5 544.9L1547.0 532.2L1547.5 547.9L1548.0 532.6L1548.5 548.2L1549.0 530.2L1549.5 549.1L1550.0 530.5L1550.5 549.4L1551.0 530.8L1551.5 549.7L1552.0 530.6L1552.5 548.5L1553.0 530.8L1553.5 548.7L1554.0 531.0L1554.5 549.6L1555.0 531.9L1555.5 549.8L1556.0 531.4L1556.5 549.0L1557.0 531.6L1557.5 549.2L1558.0 531.8L1558.5 549.4L1559.0 531.3L1559.5 546.8L1560.0 536.2L1560.5 549.7L1561.0 536.3L1561.5 549.6L1562.0 534.4L1562.5 549.5L1563.0 534.3L1563.5 549.4L1564.0 533.9L1564.5 550.0L1565.0 535.2L1565.5 549.9L1566.0 531.5L1566.5 549.8L1567.0 531.4L1567.5 549.7L1568.0 531.8L1568.5 546.7L1569.0 532.0L1569.5 546.9L1570.0 532.2L1570.5 547.1L1571.0 532.4L1571.5 547.3L1572.0 533.7L1572.5 546.7L1573.0 533.9L1573.5 546.9L1574.0 534.1L1574.5 547.7L1575.0 535.5L1575.5 547.9L1576.0 536.6L1576.5 548.8L1577.0 533.1L1577.5 548.7L1578.0 533.0L1578.5 550.2L1579.0 532.8L1579.5 550.5L1580.0 532.7L1580.5 550.4L1581.0 536.3L1581.5 550.5L1582.0 536.1L1582.5 549.2L1583.0 535.2L1583.5 549.0L1584.0 535.1L1584.5 548.9L1585.0 535.0L1585.5 548.8L1586.0 535.0L1586.5 547.4L1587.0 532.7L1587.5 547.2L1588.0 532.5L1588.5 547.1L1589.0 536.2L1589.5 551.5L1590.0 534.5L1590.5 551.4L1591.0 534.3L1591.5 551.2L1592.0 530.7L1592.5 549.8L1593.0 530.6L1593.5 548.1L1594.0 529.0L1594.5 548.1L1595.0 529.1L1595.5 548.4L1596.0 531.7L1596.5 546.5L1597.0 532.0L1597.5 546.7L1598.0 535.0L1598.5 547.0L1599.0 535.3L1599.5 547.3L1600.0 535.6L1600.5 547.3L1601.0 535.8L1601.5 548.7L1602.0 533.6L1602.5 549.0L1603.0 533.9L1603.5 549.2L1604.0 534.2L1604.5 551.4L1605.0 537.2L1605.5 551.7L1606.0 537.4L1606.5 551.9L1607.0 537.8L1607.5 552.2L1608.0 538.1L1608.5 553.7L1609.0 538.5L1609.5 554.1L1610.0 537.4L1610.5 550.5L1611.0 537.5L1611.5 550.6L1612.0 537.1L1612.5 551.6L1613.0 537.3L1613.5 551.8L1614.0 537.6L1614.5 552.1L1615.0 540.7L1615.5 554.2L1616.0 541.0L1616.5 554.4L1617.0 538.8L1617.5 554.6L1618.0 539.0L1618.5 555.7L1619.0 539.2L1619.5 556.0L1620.0 537.1L1620.5 556.2L1621.0 537.2L1621.5 555.7L1622.0 541.8L1622.5 555.8L1623.0 543.2L1623.5 557.0L1624.0 542.1L1624.5 557.2L1625.0 542.2L1625.5 557.4L1626.0 542.4L1626.5 557.5L1627.0 540.6L1627.5 557.9L1628.0 540.8L1628.5 558.1L1629.0 540.9L1629.5 558.2L1630.0 540.7L1630.5 555.8L1631.0 541.2L1631.5 556.0L1632.0 541.5L1632.5 556.8L1633.0 541.8L1633.5 557.2L1634.0 543.4L1634.5 557.6L1635.0 543.8L1635.5 558.0L1636.0 541.4L1636.5 559.3L1637.0 541.8L1637.5 559.6L1638.0 542.4L1638.5 561.1L1639.0 542.8L1639.5 561.5L1640.0 543.1L1640.5 561.9L1641.0 543.5L1641.5 562.2L1642.0 545.0L1642.5 562.9L1643.0 545.0L1643.5 563.3L1644.0 545.4L1644.5 563.8L1645.0 545.9L1645.5 560.5L1646.0 549.9L1646.5 561.0L1647.0 550.4L1647.5 561.5L1648.0 547.2L1648.5 566.6L1649.0 547.7L1649.5 567.1L1650.0 548.6L1650.5 567.9L1651.0 552.6L1651.5 563.6L1652.0 553.1L1652.5 564.1L1653.0 553.6L1653.5 564.6L1654.0 554.2L1654.5 567.7L1655.0 553.1L1655.5 568.5L1656.0 553.9L1656.5 569.3L1657.0 554.7L1657.5 571.5L1658.0 554.0L1658.5 572.3L1659.0 554.8L1659.5 573.1L1660.0 555.6L1660.5 571.8L1661.0 557.5L1661.5 572.6L1662.0 558.3L1662.5 573.1L1663.0 558.0L1663.5 571.9L1664.0 559.4L1664.5 573.2L1665.0 560.8L1665.5 574.6L1666.0 562.1L1666.5 578.0L1667.0 564.9L1667.5 579.6L1668.0 566.6L1668.5 583.9L1669.0 568.4L1669.5 585.7L1670.0 567.6L1670.5 586.9L1671.0 568.4L1671.5 587.1L1672.0 568.6L1672.5 587.2L1673.0 568.8L1673.5 587.3L1674.0 568.6L1674.5 587.5L1675.0 568.8L1675.5 588.5L1676.0 570.4L1676.5 588.7L1677.0 570.5L1677.5 588.6L1678.0 569.7L1678.5 588.7L1679.0 569.9L1679.5 588.9L1680.0 570.0L1680.5 589.0L1681.0 573.7L1681.5 586.7L1682.0 573.8L1682.5 586.8L1683.0 573.9L1683.5 588.3L1684.0 572.7L1684.5 588.4L1685.0 573.0L1685.5 588.5L1686.0 573.1L1686.5 589.2L1687.0 573.2L1687.5 589.4L1688.0 573.0L1688.5 589.5L1689.0 573.1L1689.5 589.5L1690.0 573.3L1690.5 589.6L1691.0 575.4L1691.5 591.8L1692.0 572.2L1692.5 591.9L1693.0 572.3L1693.5 590.5" fill="none" stroke="#0f0" stroke-width="4" stroke-linejoin="miter" shape-rendering="crispEdges"/>
<path d="M214.0 56.6L215.0 56.9L216.0 55.9L217.0 55.5L218.0 55.0L219.0 54.1L220.0 53.9L221.0 53.3L222.0 53.3L223.0 53.3L224.0 53.3L225.0 53.2L226.0 52.7L227.0 52.4L228.0 52.6L229.0 53.2L230.0 52.5L231.0 52.8L232.0 53.2L233.0 52.3L234.0 52.9L235.0 53.3L236.0 52.5L237.0 52.9L238.0 53.2L239.0 52.5L240.0 53.1L241.0 53.6L242.0 53.7L243.0 53.8L244.0 53.8L245.0 54.3L246.0 54.4L247.0 54.8L248.0 54.9L249.0 55.6L250.0 55.8L251.0 55.6L252.0 56.0L253.0 56.0L254.0 56.4L255.0 56.5L256.0 57.0L257.0 56.9L258.0 57.3L259.0 57.7L260.0 57.6L261.0 58.2L262.0 57.5L263.0 58.2L264.0 58.0L265.0 58.1L266.0 58.5L267.0 58.5L268.0 58.5L269.0 58.2L270.0 58.4L271.0 59.1L272.0 59.0L273.0 59.4L274.0 59.9L275.0 59.9L276.0 59.5L277.0 60.0L278.0 60.5L279.0 60.4L280.0 61.4L281.0 61.7L282.0 61.6L283.0 61.3L284.0 61.7L285.0 61.0L286.0 61.2L287.0 61.4L288.0 61.7L289.0 61.5L290.0 61.1L291.0 61.4L292.0 61.4L293.0 61.4L294.0 61.3L295.0 61.6L296.0 61.8L297.0 62.4L298.0 62.6L299.0 62.6L300.0 62.7L301.0 63.3L302.0 63.6L303.0 63.6L304.0 63.9L305.0 64.3L306.0 63.7L307.0 64.8L308.0 64.5L309.0 65.0L310.0 65.7L311.0 65.9L312.0 65.6L313.0 66.4L314.0 66.4L315.0 67.4L316.0 68.6L317.0 68.9L318.0 69.8L319.0 70.6L320.0 71.4L321.0 72.0L322.0 71.9L323.0 73.0L324.0 73.6L325.0 73.8L326.0 74.9L327.0 75.5L328.0 76.4L329.0 77.1L330.0 76.9L331.0 77.5L332.0 78.4L333.0 78.4L334.0 79.0L335.0 79.8L336.0 79.9L337.0 81.0L338.0 81.6L339.0 81.3L340.0 82.3L341.0 83.6L342.0 85.2L343.0 85.8L344.0 87.0L345.0 89.1L346.0 90.7L347.0 91.8L348.0 93.9L349.0 95.9L350.0 97.5L351.0 97.9L352.0 99.3L353.0 100.4L354.0 100.2L355.0 99.7L356.0 99.6L357.0 99.8L358.0 100.3L359.0 99.5L360.0 99.4L361.0 99.7L362.0 99.4L363.0 99.7L364.0 99.8L365.0 100.6L366.0 101.1L367.0 101.1L368.0 101.1L369.0 101.5L370.0 102.1L371.0 102.7L372.0 103.1L373.0 102.7L374.0 102.8L375.0 104.0L376.0 104.5L377.0 104.5L378.0 105.2L379.0 105.7L380.0 105.8L381.0 106.4L382.0 105.7L383.0 106.1L384.0 106.2L385.0 106.1L386.0 107.0L387.0 106.3L388.0 107.0L389.0 106.5L390.0 106.9L391.0 107.1L392.0 107.0L393.0 107.4L394.0 107.6L395.0 107.4L396.0 108.0L397.0 107.7L398.0 108.0L399.0 108.5L400.0 108.8L401.0 108.9L402.0 109.9L403.0 110.2L404.0 109.7L405.0 110.3L406.0 110.5L407.0 110.8L408.0 110.7L409.0 111.0L410.0 111.5L411.0 111.1L412.0 111.4L413.0 111.4L414.0 111.7L415.0 111.1L416.0 111.8L417.0 112.1L418.0 111.9L419.0 111.6L420.0 112.1L421.0 112.2L422.0 112.2L423.0 111.8L424.0 112.7L425.0 112.9L426.0 112.9L427.0 113.6L428.0 113.6L429.0 115.2L430.0 115.5L431.0 115.9L432.0 116.6L433.0 116.6L434.0 116.8L435.0 116.8L436.0 117.1L437.0 116.6L438.0 117.4L439.0 117.0L440.0 117.0L441.0 116.6L442.0 117.2L443.0 117.4L444.0 117.4L445.0 117.3L446.0 118.1L447.0 117.8L448.0 118.8L449.0 118.9L450.0 118.9L451.0 119.4L452.0 119.9L453.0 119.8L454.0 120.7L455.0 120.6L456.0 121.4L457.0 121.7L458.0 121.8L459.0 123.3L460.0 123.8L461.0 125.1L462.0 125.8L463.0 126.6L464.0 127.7L465.0 127.1L466.0 127.9L467.0 127.9L468.0 127.9L469.0 128.9L470.0 129.0L471.0 129.6L472.0 129.6L473.0 129.6L474.0 130.5L475.0 129.9L476.0 130.2L477.0 131.1L478.0 131.0L479.0 131.4L480.0 132.9L481.0 133.4L482.0 134.9L483.0 135.7L484.0 136.4L485.0 137.1L486.0 138.3L487.0 140.0L488.0 140.8L489.0 142.0L490.0 143.7L491.0 145.8L492.0 146.5L493.0 148.7L494.0 149.5L495.0 151.6L496.0 152.3L497.0 153.0L498.0 155.1L499.0 155.7L500.0 157.3L501.0 157.5L502.0 157.4L503.0 157.8L504.0 158.3L505.0 158.7L506.0 159.0L507.0 159.4L508.0 160.7L509.0 160.0L510.0 160.4L511.0 159.9L512.0 160.0L513.0 160.5L514.0 160.6L515.0 160.1L516.0 159.6L517.0 160.6L518.0 160.0L519.0 160.6L520.0 161.1L521.0 161.8L522.0 162.0L523.0 162.1L524.0 162.2L525.0 163.0L526.0 163.3L527.0 163.7L528.0 163.6L529.0 163.1L530.0 163.4L531.0 163.6L532.0 163.7L533.0 164.2L534.0 163.7L535.0 164.2L536.0 164.0L537.0 164.5L538.0 164.0L539.0 164.3L540.0 164.1L541.0 164.2L542.0 165.1L543.0 164.7L544.0 165.5L545.0 165.4L546.0 165.1L547.0 166.1L548.0 165.6L549.0 166.7L550.0 166.1L551.0 167.0L552.0 166.8L553.0 167.2L554.0 168.0L555.0 167.8L556.0 168.3L557.0 168.6L558.0 168.3L559.0 169.3L560.0 169.7L561.0 169.3L562.0 169.9L563.0 170.0L564.0 170.7L565.0 170.3L566.0 171.1L567.0 171.7L568.0 171.9L569.0 171.6L570.0 172.6L571.0 172.3L572.0 173.2L573.0 173.1L574.0 172.8L575.0 173.3L576.0 173.4L577.0 173.3L578.0 173.6L579.0 172.9L580.0 172.8L581.0 172.7L582.0 173.3L583.0 173.3L584.0 173.4L585.0 173.7L586.0 173.7L587.0 173.6L588.0 174.2L589.0 174.2L590.0 174.5L591.0 175.2L592.0 174.6L593.0 175.2L594.0 175.4L595.0 175.2L596.0 175.5L597.0 176.2L598.0 175.8L599.0 176.3L600.0 176.6L601.0 176.3L602.0 177.1L603.0 176.9L604.0 176.9L605.0 177.3L606.0 177.2L607.0 177.9L608.0 178.2L609.0 179.5L610.0 179.8L611.0 180.2L612.0 181.1L613.0 182.3L614.0 182.9L615.0 183.2L616.0 183.4L617.0 183.8L618.0 184.7L619.0 184.2L620.0 185.3L621.0 185.6L622.0 185.3L623.0 185.8L624.0 186.3L625.0 186.9L626.0 188.0L627.0 189.0L628.0 189.3L629.0 190.2L630.0 191.5L631.0 192.6L632.0 193.7L633.0 194.2L634.0 195.9L635.0 197.5L636.0 198.9L637.0 200.3L638.0 201.7L639.0 203.1L640.0 203.5L641.0 205.9L642.0 206.9L643.0 208.5L644.0 210.3L645.0 211.7L646.0 211.6L647.0 211.5L648.0 211.8L649.0 212.5L650.0 212.7L651.0 212.2L652.0 212.5L653.0 212.9L654.0 213.0L655.0 213.6L656.0 213.5L657.0 214.1L658.0 214.7L659.0 214.9L660.0 214.4L661.0 214.7L662.0 215.2L663.0 216.1L664.0 216.6L665.0 217.2L666.0 218.0L667.0 218.7L668.0 220.1L669.0 220.7L670.0 221.2L671.0 222.0L672.0 221.7L673.0 221.7L674.0 221.5L675.0 221.6L676.0 222.0L677.0 221.8L678.0 221.8L679.0 221.0L680.0 221.4L681.0 221.2L682.0 220.9L683.0 221.4L684.0 221.6L685.0 222.2L686.0 223.3L687.0 223.7L688.0 224.2L689.0 224.1L690.0 224.7L691.0 225.0L692.0 225.4L693.0 225.7L694.0 226.9L695.0 227.1L696.0 226.7L697.0 227.1L698.0 228.1L699.0 228.0L700.0 227.8L701.0 227.7L702.0 227.4L703.0 227.5L704.0 227.5L705.0 227.1L706.0 227.2L707.0 226.3L708.0 226.7L709.0 226.9L710.0 225.9L711.0 226.0L712.0 226.4L713.0 226.4L714.0 227.4L715.0 227.3L716.0 227.6L717.0 228.4L718.0 227.8L719.0 229.0L720.0 228.6L721.0 229.2L722.0 229.7L723.0 230.1L724.0 230.0L725.0 230.7L726.0 231.1L727.0 232.1L728.0 232.4L729.0 232.4L730.0 233.2L731.0 233.5L732.0 233.4L733.0 233.5L734.0 233.9L735.0 233.5L736.0 233.1L737.0 233.9L738.0 233.7L739.0 233.2L740.0 233.1L741.0 233.0L742.0 233.1L743.0 232.5L744.0 232.5L745.0 232.0L746.0 232.4L747.0 233.0L748.0 233.2L749.0 233.4L750.0 234.1L751.0 234.9L752.0 234.8L753.0 235.8L754.0 236.1L755.0 236.7L756.0 237.5L757.0 237.3L758.0 238.0L759.0 239.3L760.0 239.9L761.0 239.7L762.0 241.0L763.0 240.2L764.0 240.3L765.0 240.3L766.0 240.5L767.0 240.6L768.0 241.1L769.0 240.6L770.0 240.3L771.0 241.0L772.0 241.6L773.0 242.6L774.0 243.9L775.0 244.8L776.0 245.5L777.0 246.5L778.0 247.1L779.0 248.6L780.0 249.6L781.0 250.6L782.0 252.2L783.0 253.2L784.0 254.5L785.0 255.6L786.0 257.7L787.0 258.8L788.0 261.2L789.0 262.3L790.0 263.7L791.0 265.4L792.0 265.4L793.0 265.5L794.0 264.6L795.0 265.2L796.0 265.3L797.0 264.6L798.0 264.7L799.0 264.8L800.0 264.4L801.0 265.3L802.0 265.5L803.0 266.0L804.0 265.9L805.0 266.3L806.0 266.3L807.0 266.8L808.0 267.5L809.0 268.1L810.0 267.6L811.0 267.8L812.0 268.2L813.0 268.9L814.0 269.7L815.0 269.5L816.0 270.2L817.0 270.6L818.0 271.3L819.0 271.1L820.0 271.3L821.0 272.2L822.0 272.5L823.0 272.8L824.0 273.7L825.0 274.0L826.0 273.4L827.0 273.8L828.0 273.9L829.0 273.8L830.0 272.8L831.0 273.4L832.0 272.5L833.0 273.0L834.0 272.8L835.0 273.0L836.0 272.6L837.0 271.8L838.0 272.8L839.0 272.8L840.0 273.8L841.0 273.5L842.0 274.2L843.0 275.0L844.0 274.9L845.0 275.8L846.0 276.2L847.0 276.2L848.0 276.3L849.0 275.9L850.0 275.6L851.0 275.7L852.0 275.9L853.0 275.5L854.0 276.2L855.0 275.5L856.0 275.5L857.0 276.4L858.0 276.3L859.0 275.7L860.0 275.8L861.0 276.4L862.0 276.9L863.0 277.3L864.0 278.2L865.0 279.3L866.0 279.2L867.0 280.9L868.0 281.2L869.0 281.5L870.0 282.5L871.0 281.9L872.0 282.4L873.0 282.8L874.0 282.6L875.0 283.4L876.0 283.4L877.0 283.0L878.0 283.2L879.0 283.3L880.0 284.0L881.0 283.8L882.0 284.1L883.0 284.4L884.0 284.5L885.0 283.8L886.0 284.0L887.0 284.1L888.0 284.1L889.0 284.2L890.0 284.2L891.0 284.5L892.0 284.1L893.0 284.2L894.0 284.2L895.0 284.0L896.0 284.5L897.0 284.3L898.0 284.8L899.0 285.4L900.0 285.5L901.0 286.1L902.0 287.3L903.0 287.8L904.0 287.9L905.0 289.2L906.0 289.6L907.0 290.3L908.0 290.4L909.0 290.6L910.0 290.5L911.0 290.8L912.0 290.2L913.0 290.4L914.0 290.2L915.0 291.1L916.0 290.4L917.0 291.3L918.0 292.5L919.0 293.9L920.0 294.7L921.0 295.6L922.0 296.8L923.0 297.1L924.0 298.0L925.0 299.0L926.0 299.0L927.0 300.6L928.0 300.7L929.0 301.8L930.0 304.2L931.0 305.3L932.0 307.3L933.0 309.8L934.0 310.7L935.0 312.7L936.0 313.6L937.0 315.5L938.0 317.2L939.0 317.6L940.0 317.7L941.0 317.9L942.0 317.9L943.0 317.4L944.0 317.6L945.0 318.2L946.0 317.5L947.0 317.9L948.0 317.3L949.0 317.6L950.0 317.9L951.0 318.2L952.0 318.6L953.0 318.9L954.0 319.0L955.0 319.4L956.0 319.7L957.0 319.4L958.0 320.1L959.0 320.1L960.0 320.0L961.0 320.1L962.0 320.5L963.0 320.3L964.0 319.6L965.0 320.1L966.0 319.4L967.0 319.7L968.0 319.8L969.0 319.7L970.0 319.1L971.0 318.9L972.0 319.4L973.0 319.8L974.0 320.1L975.0 320.0L976.0 320.5L977.0 321.0L978.0 321.5L979.0 321.5L980.0 322.2L981.0 321.9L982.0 321.7L983.0 321.7L984.0 322.0L985.0 322.1L986.0 321.6L987.0 321.7L988.0 321.0L989.0 321.3L990.0 321.4L991.0 321.6L992.0 321.5L993.0 322.2L994.0 322.5L995.0 322.6L996.0 323.0L997.0 322.9L998.0 323.5L999.0 323.4L1000.0 324.4L1001.0 324.9L1002.0 326.1L1003.0 326.4L1004.0 326.3L1005.0 327.1L1006.0 326.5L1007.0 326.2L1008.0 326.8L1009.0 327.1L1010.0 327.3L1011.0 328.4L1012.0 329.2L1013.0 329.6L1014.0 330.2L1015.0 330.6L1016.0 330.8L1017.0 331.1L1018.0 331.3L1019.0 330.4L1020.0 331.1L1021.0 331.0L1022.0 330.9L1023.0 330.3L1024.0 330.2L1025.0 330.9L1026.0 331.2L1027.0 331.4L1028.0 331.8L1029.0 331.9L1030.0 333.3L1031.0 333.6L1032.0 334.1L1033.0 334.4L1034.0 334.5L1035.0 335.3L1036.0 335.1L1037.0 335.8L1038.0 335.5L1039.0 335.8L1040.0 336.3L1041.0 336.0L1042.0 336.6L1043.0 336.4L1044.0 336.2L1045.0 336.2L1046.0 336.5L1047.0 337.7L1048.0 338.6L1049.0 338.6L1050.0 339.4L1051.0 340.5L1052.0 340.5L1053.0 341.7L1054.0 342.1L1055.0 342.3L1056.0 342.9L1057.0 342.9L1058.0 343.8L1059.0 344.5L1060.0 344.5L1061.0 344.8L1062.0 345.3L1063.0 345.9L1064.0 346.6L1065.0 347.7L1066.0 347.9L1067.0 348.6L1068.0 349.0L1069.0 349.5L1070.0 350.4L1071.0 351.1L1072.0 351.2L1073.0 352.0L1074.0 353.0L1075.0 354.6L1076.0 355.3L1077.0 356.8L1078.0 358.4L1079.0 359.3L1080.0 361.2L1081.0 363.1L1082.0 364.1L1083.0 366.1L1084.0 367.4L1085.0 367.8L1086.0 368.2L1087.0 367.8L1088.0 367.5L1089.0 367.6L1090.0 367.9L1091.0 368.2L1092.0 368.2L1093.0 368.6L1094.0 369.2L1095.0 368.9L1096.0 370.1L1097.0 370.0L1098.0 370.2L1099.0 371.0L1100.0 370.8L1101.0 371.0L1102.0 371.4L1103.0 372.1L1104.0 371.8L1105.0 372.4L1106.0 372.4L1107.0 373.0L1108.0 372.9L1109.0 373.8L1110.0 374.2L1111.0 373.9L1112.0 374.1L1113.0 374.3L1114.0 374.4L1115.0 373.7L1116.0 374.3L1117.0 374.4L1118.0 374.4L1119.0 374.0L1120.0 374.3L1121.0 374.0L1122.0 373.6L1123.0 374.2L1124.0 374.9L1125.0 375.3L1126.0 376.0L1127.0 376.3L1128.0 376.2L1129.0 376.9L1130.0 377.7L1131.0 377.8L1132.0 378.0L1133.0 379.1L1134.0 378.9L1135.0 378.5L1136.0 378.5L1137.0 378.0L1138.0 377.7L1139.0 377.9L1140.0 377.8L1141.0 377.4L1142.0 377.6L1143.0 378.4L1144.0 378.8L1145.0 379.3L1146.0 379.6L1147.0 380.6L1148.0 380.4L1149.0 380.7L1150.0 381.5L1151.0 381.7L1152.0 381.2L1153.0 381.3L1154.0 381.8L1155.0 382.2L1156.0 381.7L1157.0 382.0L1158.0 381.9L1159.0 382.5L1160.0 382.3L1161.0 382.3L1162.0 382.7L1163.0 382.6L1164.0 382.4L1165.0 382.8L1166.0 383.5L1167.0 383.6L1168.0 383.5L1169.0 383.8L1170.0 383.5L1171.0 384.0L1172.0 384.7L1173.0 384.2L1174.0 385.2L1175.0 385.2L1176.0 385.3L1177.0 385.2L1178.0 385.1L1179.0 385.6L1180.0 386.3L1181.0 386.3L1182.0 386.9L1183.0 386.6L1184.0 387.5L1185.0 387.8L1186.0 387.9L1187.0 387.7L1188.0 388.0L1189.0 388.1L1190.0 388.4L1191.0 389.3L1192.0 389.6L1193.0 390.5L1194.0 390.7L1195.0 391.4L1196.0 392.6L1197.0 393.3L1198.0 393.1L1199.0 394.4L1200.0 394.8L1201.0 394.9L1202.0 396.2L1203.0 396.5L1204.0 397.1L1205.0 398.2L1206.0 398.5L1207.0 398.3L1208.0 399.4L1209.0 399.2L1210.0 400.6L1211.0 400.8L1212.0 401.3L1213.0 401.2L1214.0 401.8L1215.0 402.7L1216.0 403.1L1217.0 404.0L1218.0 404.0L1219.0 404.6L1220.0 404.8L1221.0 405.7L1222.0 406.7L1223.0 406.5L1224.0 408.1L1225.0 409.0L1226.0 411.2L1227.0 412.3L1228.0 413.5L1229.0 415.6L1230.0 417.2L1231.0 416.8L1232.0 416.8L1233.0 417.0L1234.0 417.4L1235.0 417.9L1236.0 417.9L1237.0 417.4L1238.0 417.2L1239.0 417.9L1240.0 417.9L1241.0 417.9L1242.0 418.7L1243.0 419.5L1244.0 419.1L1245.0 419.7L1246.0 420.6L1247.0 420.3L1248.0 420.7L1249.0 421.2L1250.0 422.2L1251.0 422.1L1252.0 422.7L1253.0 423.9L1254.0 424.7L1255.0 425.4L1256.0 425.7L1257.0 426.9L1258.0 426.8L1259.0 427.6L1260.0 427.6L1261.0 427.7L1262.0 427.4L1263.0 427.3L1264.0 428.2L1265.0 427.5L1266.0 427.9L1267.0 428.9L1268.0 428.8L1269.0 429.5L1270.0 430.2L1271.0 430.0L1272.0 429.7L1273.0 430.0L1274.0 429.4L1275.0 428.9L1276.0 428.8L1277.0 428.9L1278.0 429.0L1279.0 429.2L1280.0 429.4L1281.0 430.4L1282.0 430.2L1283.0 431.2L1284.0 431.1L1285.0 432.3L1286.0 432.6L1287.0 432.6L1288.0 432.9L1289.0 433.4L1290.0 433.8L1291.0 434.0L1292.0 434.5L1293.0 434.2L1294.0 434.9L1295.0 435.5L1296.0 435.6L1297.0 436.5L1298.0 436.5L1299.0 436.7L1300.0 437.7L1301.0 437.6L1302.0 438.2L1303.0 438.7L1304.0 439.3L1305.0 439.1L1306.0 440.2L1307.0 439.7L1308.0 439.3L1309.0 439.0L1310.0 439.4L1311.0 439.1L1312.0 438.5L1313.0 438.0L1314.0 439.1L1315.0 438.5L1316.0 438.9L1317.0 439.8L1318.0 440.3L1319.0 440.1L1320.0 440.7L1321.0 441.0L1322.0 441.4L1323.0 441.4L1324.0 441.5L1325.0 441.6L1326.0 442.0L1327.0 441.9L1328.0 442.6L1329.0 442.7L1330.0 442.9L1331.0 444.0L1332.0 444.6L1333.0 444.7L1334.0 444.8L1335.0 446.0L1336.0 446.6L1337.0 447.3L1338.0 447.9L1339.0 448.5L1340.0 449.0L1341.0 449.6L1342.0 450.2L1343.0 451.7L1344.0 452.2L1345.0 452.7L1346.0 453.3L1347.0 454.1L1348.0 455.1L1349.0 455.1L1350.0 455.4L1351.0 456.2L1352.0 456.7L1353.0 457.5L1354.0 457.9L1355.0 458.3L1356.0 459.6L1357.0 460.2L1358.0 460.3L1359.0 461.2L1360.0 462.2L1361.0 462.7L1362.0 464.1L1363.0 464.9L1364.0 465.4L1365.0 467.1L1366.0 467.9L1367.0 468.7L1368.0 470.2L1369.0 471.4L1370.0 472.6L1371.0 474.1L1372.0 475.4L1373.0 476.3L1374.0 477.7L1375.0 478.6L1376.0 480.4L1377.0 481.5L1378.0 481.8L1379.0 482.5L1380.0 481.8L1381.0 481.9L1382.0 482.5L1383.0 482.5L1384.0 482.4L1385.0 482.8L1386.0 482.3L1387.0 482.3L1388.0 482.8L1389.0 482.6L1390.0 483.5L1391.0 484.0L1392.0 484.1L1393.0 484.4L1394.0 483.9L1395.0 484.5L1396.0 485.2L1397.0 485.4L1398.0 485.4L1399.0 485.7L1400.0 485.5L1401.0 486.0L1402.0 486.2L1403.0 487.4L1404.0 487.2L1405.0 488.4L1406.0 487.8L1407.0 489.0L1408.0 489.1L1409.0 489.1L1410.0 490.1L1411.0 490.4L1412.0 490.6L1413.0 490.8L1414.0 491.0L1415.0 491.3L1416.0 491.1L1417.0 491.9L1418.0 491.7L1419.0 491.7L1420.0 492.6L1421.0 492.1L1422.0 492.5L1423.0 493.0L1424.0 493.4L1425.0 493.2L1426.0 493.2L1427.0 494.0L1428.0 494.3L1429.0 494.8L1430.0 494.6L1431.0 495.4L1432.0 495.7L1433.0 496.0L1434.0 496.2L1435.0 496.2L1436.0 496.3L1437.0 496.7L1438.0 496.2L1439.0 496.8L1440.0 497.0L1441.0 497.1L1442.0 496.6L1443.0 497.0L1444.0 497.7L1445.0 497.4L1446.0 496.7L1447.0 496.9L1448.0 497.1L1449.0 497.0L1450.0 496.5L1451.0 496.1L1452.0 496.5L1453.0 496.7L1454.0 497.1L1455.0 497.3L1456.0 498.3L1457.0 498.6L1458.0 498.7L1459.0 499.4L1460.0 499.0L1461.0 499.4L1462.0 500.1L1463.0 500.3L1464.0 500.3L1465.0 501.4L1466.0 501.5L1467.0 501.8L1468.0 502.0L1469.0 502.6L1470.0 502.4L1471.0 503.0L1472.0 503.7L1473.0 504.0L1474.0 504.3L1475.0 503.9L1476.0 504.0L1477.0 504.6L1478.0 504.4L1479.0 504.2L1480.0 503.4L1481.0 503.3L1482.0 503.3L1483.0 504.0L1484.0 504.3L1485.0 505.2L1486.0 506.1L1487.0 507.5L1488.0 508.2L1489.0 509.4L1490.0 509.6L1491.0 510.4L1492.0 511.8L1493.0 511.6L1494.0 512.7L1495.0 513.1L1496.0 513.2L1497.0 513.8L1498.0 514.7L1499.0 514.5L1500.0 515.9L1501.0 515.5L1502.0 516.2L1503.0 517.3L1504.0 517.3L1505.0 518.8L1506.0 518.8L1507.0 519.0L1508.0 519.7L1509.0 520.7L1510.0 521.6L1511.0 521.5L1512.0 522.6L1513.0 524.2L1514.0 525.6L1515.0 527.1L1516.0 528.1L1517.0 529.5L1518.0 531.4L1519.0 532.8L1520.0 533.9L1521.0 535.9L1522.0 536.6L1523.0 538.8L1524.0 539.3L1525.0 538.7L1526.0 538.6L1527.0 537.7L1528.0 538.2L1529.0 537.8L1530.0 537.4L1531.0 537.2L1532.0 536.5L1533.0 537.0L1534.0 536.7L1535.0 537.3L1536.0 537.4L1537.0 538.3L1538.0 538.5L1539.0 539.5L1540.0 539.2L1541.0 539.8L1542.0 540.4L1543.0 540.8L1544.0 541.4L1545.0 540.7L1546.0 541.4L1547.0 541.1L1548.0 541.6L1549.0 541.7L1550.0 541.7L1551.0 542.2L1552.0 542.2L1553.0 542.2L1554.0 542.6L1555.0 542.2L1556.0 543.0L1557.0 542.3L1558.0 543.1L1559.0 542.3L1560.0 543.1L1561.0 542.3L1562.0 542.2L1563.0 542.4L1564.0 543.0L1565.0 542.6L1566.0 542.6L1567.0 543.1L1568.0 542.7L1569.0 543.5L1570.0 543.7L1571.0 543.8L1572.0 544.9L1573.0 544.7L1574.0 545.0L1575.0 545.7L1576.0 546.1L1577.0 545.6L1578.0 545.5L1579.0 546.4L1580.0 545.9L1581.0 546.1L1582.0 546.0L1583.0 546.5L1584.0 546.1L1585.0 546.5L1586.0 546.3L1587.0 545.9L1588.0 546.4L1589.0 546.8L1590.0 546.5L1591.0 546.4L1592.0 546.1L1593.0 546.9L1594.0 546.7L1595.0 546.8L1596.0 547.0L1597.0 547.3L1598.0 547.3L1599.0 547.5L1600.0 547.8L1601.0 547.6L1602.0 547.9L1603.0 548.3L1604.0 548.9L1605.0 548.6L1606.0 548.9L1607.0 549.4L1608.0 549.5L1609.0 549.7L1610.0 549.9L1611.0 550.1L1612.0 550.0L1613.0 550.3L1614.0 550.5L1615.0 550.8L1616.0 551.6L1617.0 551.9L1618.0 551.6L1619.0 552.7L1620.0 552.5L1621.0 552.8L1622.0 552.6L1623.0 553.6L1624.0 553.0L1625.0 553.4L1626.0 553.8L1627.0 554.1L1628.0 554.3L1629.0 555.0L1630.0 554.3L1631.0 555.1L1632.0 555.2L1633.0 556.0L1634.0 556.3L1635.0 556.9L1636.0 557.3L1637.0 557.7L1638.0 557.5L1639.0 558.3L1640.0 559.0L1641.0 559.4L1642.0 560.0L1643.0 559.9L1644.0 560.0L1645.0 561.2L1646.0 561.2L1647.0 562.1L1648.0 562.0L1649.0 562.8L1650.0 563.6L1651.0 563.6L1652.0 564.3L1653.0 564.6L1654.0 566.0L1655.0 566.7L1656.0 567.3L1657.0 568.0L1658.0 569.3L1659.0 569.4L1660.0 570.6L1661.0 570.8L1662.0 572.1L1663.0 573.0L1664.0 574.2L1665.0 576.4L1666.0 577.1L1667.0 579.2L1668.0 580.6L1669.0 582.3L1670.0 584.1L1671.0 585.2L1672.0 584.6L1673.0 585.6L1674.0 585.1L1675.0 585.0L1676.0 586.0L1677.0 585.3L1678.0 585.9L1679.0 586.4L1680.0 586.0L1681.0 586.6L1682.0 586.7L1683.0 586.9L1684.0 586.5L1685.0 587.2L1686.0 587.5L1687.0 586.9L1688.0 587.9L1689.0 588.0L1690.0 587.5L1691.0 588.3L1692.0 588.4L1693.0 587.6" fill="none" stroke="#f00" stroke-width="4.2" stroke-linejoin="round" shape-rendering="crispEdges"/>
<path d="M212.0 44.0V678.0M1695.0 44.0V678.0M210.0 676.0H1697.0" fill="none" stroke="#000" stroke-width="4"/>
<path d="M210.0 45.5H1697.0" fill="none" stroke="#000" stroke-width="3.0"/>
<path d="M459.2 676.0v-15M459.2 44.0V60.1M706.3 676.0v-15M706.3 44.0V60.1M953.5 676.0v-15M953.5 44.0V60.1M1200.7 676.0v-15M1200.7 44.0V60.1M1447.8 676.0v-15M1447.8 44.0V60.1M212.0 550.0h15M1695.0 550.0h-15M212.0 424.0h15M1695.0 424.0h-15M212.0 298.0h15M1695.0 298.0h-15M212.0 172.0h15M1695.0 172.0h-15" stroke="#000" stroke-width="4" fill="none"/>
<text x="212.0" y="728.6" text-anchor="middle">0</text>
<text x="459.2" y="728.6" text-anchor="middle">2000</text>
<text x="706.3" y="728.6" text-anchor="middle">4000</text>
<text x="953.5" y="728.6" text-anchor="middle">6000</text>
<text x="1200.7" y="728.6" text-anchor="middle">8000</text>
<text x="1447.8" y="728.6" text-anchor="middle">10000</text>
<text x="1695.0" y="728.6" text-anchor="middle">12000</text>
<text x="199" y="691.7" text-anchor="end">0</text>
<text x="199" y="565.7" text-anchor="end">0.2</text>
<text x="199" y="439.7" text-anchor="end">0.4</text>
<text x="199" y="313.7" text-anchor="end">0.6</text>
<text x="199" y="187.7" text-anchor="end">0.8</text>
<text x="200.2" y="61.0" text-anchor="end">1</text>
<text transform="translate(321 782.4) scale(1.01 0.913)" text-anchor="middle">(a)</text>
<text transform="translate(969 782.4) scale(1.01 0.913)" text-anchor="middle">time(s)</text>
<text transform="translate(106.1 360.9) rotate(-90) scale(0.963 1.055)" text-anchor="middle">SOC</text>
<rect x="1223.2" y="67" width="449.3" height="173" fill="#fff" stroke="#000" stroke-width="4"/>
<path d="M1250 100.2H1388" stroke="#000" stroke-width="4"/>
<text transform="translate(1402 115) scale(0.995 0.95)">Reference</text>
<path d="M1250 153.2H1388" stroke="#0f0" stroke-width="4"/>
<text transform="translate(1402 168.5) scale(0.995 0.95)">CKF method</text>
<path d="M1250 206.2H1388" stroke="#f00" stroke-width="4"/>
<text transform="translate(1402 220.6) scale(0.995 0.95)">CPF method</text>
</g>
<g id="plot-b">
<path d="M213.5 1108.0L213.8 972.0L214.2 1183.0L214.5 1066.3L214.7 1134.2L215.0 1064.7L215.2 1128.9L215.5 1081.8L215.7 1127.7L216.0 1084.2L216.2 1119.1L216.5 1068.6L216.7 1119.7L217.0 1096.2L217.2 1132.7L217.5 1061.7L217.7 1115.8L218.0 1064.9L218.2 1135.0L218.4 1062.7L218.7 1104.7L218.9 1078.9L219.2 1115.4L219.4 1063.3L219.7 1126.1L219.9 1087.1L220.2 1097.7L220.4 1068.2L220.7 1109.1L220.9 1074.5L221.2 1053.8L221.4 1140.7L221.6 1120.8L221.9 1056.3L222.1 1130.1L222.4 1072.1L222.6 1127.4L222.9 1065.8L223.1 1106.5L223.4 1059.6L223.6 1124.4L223.9 1083.0L224.1 1127.9L224.4 1065.5L224.6 1135.8L224.9 1062.7L225.1 1129.7L225.3 1056.9L225.6 1133.8L225.8 1066.6L226.1 1124.9L226.3 1066.9L226.6 1144.7L226.8 1052.1L227.1 1130.4L227.3 1053.9L227.6 1142.5L227.8 1076.9L228.1 1109.0L228.3 1065.5L228.5 1145.9L228.8 1081.4L229.0 1119.9L229.3 1047.5L229.5 1139.8L229.8 1046.8L230.0 1121.0L230.3 1057.0L230.5 1145.3L230.8 1073.6L231.0 1153.6L231.3 1042.4L231.5 1122.6L231.8 1032.6L232.0 1164.0L232.2 1046.5L232.5 1135.2L232.7 1084.8L233.0 1143.4L233.2 1062.0L233.5 1110.3L233.7 1064.0L234.0 1142.1L234.2 1050.4L234.5 1155.3L234.7 1087.8L235.0 1119.0L235.2 1062.3L235.4 1141.6L235.7 1064.3L235.9 1120.2L236.2 1052.7L236.4 1146.9L236.7 1054.5L236.9 1141.3L237.2 1092.4L237.4 1148.5L237.7 1069.6L237.9 1108.5L238.2 1096.6L238.4 1141.2L238.7 1052.0L238.9 1142.6L239.1 1061.8L239.4 1149.6L239.6 1082.6L239.9 1136.5L240.1 1105.9L240.4 1126.0L240.6 1068.4L240.9 1155.0L241.1 1045.6L241.4 1157.5L241.6 1066.0L241.9 1168.7L242.1 1056.9L242.3 1043.2L242.6 1178.8L242.8 1120.0L243.1 1047.9L243.3 1155.7L243.6 1059.7L243.8 1123.7L244.1 1052.6L244.3 1125.4L244.6 1049.3L244.8 1119.2L245.1 1059.9L245.3 1114.0L245.6 1022.0L245.8 1140.7L246.0 1058.0L246.3 1110.5L246.5 1050.1L246.8 1114.0L247.0 1031.5L247.3 1121.4L247.5 1073.6L247.8 1092.5L248.0 1068.4L248.3 1139.3L248.5 1044.7L248.8 1124.9L249.0 1075.4L249.3 1143.0L249.5 1042.9L249.7 1143.1L250.0 1055.7L250.2 1118.7L250.5 1075.1L250.7 1139.7L251.0 1078.2L251.2 1150.6L251.5 1053.1L251.7 1134.3L252.0 1052.4L252.2 1148.4L252.5 1087.6L252.7 1114.1L252.9 1041.1L253.2 1159.7L253.4 1064.6L253.7 1133.3L253.9 1069.5L254.2 1143.5L254.4 1085.8L254.7 1117.1L254.9 1087.0L255.2 1149.9L255.4 1075.1L255.7 1142.3L255.9 1055.6L256.2 1123.1L256.4 1096.4L256.6 1128.2L256.9 1076.9L257.1 1141.0L257.4 1086.4L257.6 1149.6L257.9 1068.7L258.1 1150.9L258.4 1088.5L258.6 1129.6L258.9 1069.3L259.1 1137.6L259.4 1059.4L259.6 1152.0L259.8 1091.9L260.1 1123.7L260.3 1084.2L260.6 1160.9L260.8 1073.6L261.1 1131.0L261.3 1105.3L261.6 1145.1L261.8 1063.9L262.1 1148.0L262.3 1064.2L262.6 1144.9L262.8 1063.9L263.1 1150.9L263.3 1069.7L263.5 1058.1L263.8 1170.3L264.0 1154.9L264.3 1061.8L264.5 1157.9L264.8 1064.8L265.0 1139.9L265.3 1087.6L265.5 1150.6L265.8 1071.2L266.0 1120.6L266.3 1073.0L266.5 1130.5L266.7 1058.4L267.0 1138.1L267.2 1053.3L267.5 1141.9L267.7 1075.0L268.0 1155.6L268.2 1082.5L268.5 1156.1L268.7 1072.7L269.0 1159.4L269.2 1081.1L269.5 1157.7L269.7 1055.2L270.0 1161.0L270.2 1076.8L270.4 1129.7L270.7 1095.6L270.9 1148.9L271.2 1052.9L271.4 1136.1L271.7 1075.8L271.9 1159.3L272.2 1075.1L272.4 1162.1L272.7 1064.1L272.9 1162.5L273.2 1079.5L273.4 1165.6L273.6 1056.4L273.9 1159.4L274.1 1039.0L274.4 1174.6L274.6 1069.4L274.9 1148.2L275.1 1056.9L275.4 1088.6L275.6 1041.8L275.9 1017.8L276.1 1140.7L276.4 1092.4L276.6 1060.8L276.9 1127.1L277.1 1042.4L277.3 1124.7L277.6 1071.2L277.8 1120.6L278.1 1059.5L278.3 1105.2L278.6 1069.6L278.8 1097.8L279.1 1062.2L279.3 1129.9L279.6 1047.2L279.8 1122.7L280.1 1057.4L280.3 1109.3L280.6 1049.3L280.8 1135.4L281.0 1055.4L281.3 1100.8L281.5 1039.2L281.8 1123.7L282.0 1075.3L282.3 1136.6L282.5 1062.0L282.8 1105.3L283.0 1041.6L283.3 1151.2L283.5 1036.3L283.8 1125.7L284.0 1088.2L284.2 1116.4L284.5 1054.9L284.7 1036.9L285.0 1153.4L285.2 1119.2L285.5 1044.9L285.7 1138.6L286.0 1056.9L286.2 1104.3L286.5 1058.6L286.7 1155.2L287.0 1061.0L287.2 1144.6L287.5 1053.0L287.7 1146.2L287.9 1036.0L288.2 1138.7L288.4 1048.1L288.7 1127.4L288.9 1051.3L289.2 1118.9L289.4 1079.9L289.7 1132.9L289.9 1057.3L290.2 1113.3L290.4 1093.1L290.7 1165.1L290.9 1073.6L291.1 1130.7L291.4 1050.4L291.6 1152.1L291.9 1085.2L292.1 1139.0L292.4 1049.6L292.6 1155.2L292.9 1067.7L293.1 1131.9L293.4 1066.3L293.6 1139.4L293.9 1056.9L294.1 1149.6L294.4 1055.3L294.6 1156.8L294.8 1060.7L295.1 1136.8L295.3 1032.6L295.6 1174.6L295.8 1050.6L296.1 1155.6L296.3 1048.7L296.6 1144.5L296.8 1053.1L297.1 1146.4L297.3 1059.9L297.6 1158.6L297.8 1092.7L298.0 1116.4L298.3 1042.7L298.5 1147.5L298.8 1050.5L299.0 1107.2L299.3 1085.5L299.5 1135.6L299.8 1048.9L300.0 1130.0L300.3 1079.9L300.5 1154.8L300.8 1047.5L301.0 1158.1L301.3 1088.3L301.5 1136.4L301.7 1077.7L302.0 1150.6L302.2 1070.8L302.5 1123.4L302.7 1051.4L303.0 1136.3L303.2 1049.8L303.5 1141.5L303.7 1064.4L304.0 1143.6L304.2 1073.6L304.5 1104.4L304.7 1060.0L304.9 1147.7L305.2 1078.6L305.4 1140.3L305.7 1055.2L305.9 1039.0L306.2 1159.7L306.4 1141.0L306.7 1060.6L306.9 1116.5L307.2 1064.4L307.4 1156.0L307.7 1091.7L307.9 1101.9L308.2 1065.9L308.4 1132.9L308.6 1072.3L308.9 1131.7L309.1 1061.4L309.4 1120.6L309.6 1052.4L309.9 1136.6L310.1 1062.0L310.4 1098.5L310.6 1050.6L310.9 1138.5L311.1 1068.8L311.4 1126.4L311.6 1048.8L311.9 1104.2L312.1 1043.8L312.3 1138.1L312.6 1038.5L312.8 1123.8L313.1 1067.5L313.3 1108.2L313.6 1041.3L313.8 1132.3L314.1 1059.9L314.3 1111.2L314.6 1043.2L314.8 1141.0L315.1 1039.2L315.3 1111.4L315.5 1047.7L315.8 1122.4L316.0 1076.2L316.3 1123.9L316.5 1026.3L316.8 1147.0L317.0 1074.6L317.3 1114.3L317.5 1084.8L317.8 1107.7L318.0 1037.5L318.3 1108.4L318.5 1046.3L318.8 1131.5L319.0 1026.0L319.2 1132.4L319.5 1072.1L319.7 1134.5L320.0 1035.1L320.2 1118.8L320.5 1077.9L320.7 1103.6L321.0 1044.7L321.2 1129.1L321.5 1085.4L321.7 1128.4L322.0 1037.0L322.2 1158.0L322.4 1056.4L322.7 1120.5L322.9 1058.2L323.2 1114.6L323.4 1078.7L323.7 1152.0L323.9 1055.5L324.2 1123.9L324.4 1068.7L324.7 1145.7L324.9 1066.2L325.2 1147.6L325.4 1071.6L325.7 1133.0L325.9 1039.8L326.1 1153.9L326.4 1027.3L326.6 1138.5L326.9 1043.7L327.1 1023.1L327.4 1170.3L327.6 1140.2L327.9 1049.4L328.1 1109.6L328.4 1062.7L328.6 1130.3L328.9 1050.8L329.1 1152.5L329.3 1049.0L329.6 1142.1L329.8 1075.3L330.1 1114.3L330.3 1073.4L330.6 1150.8L330.8 1069.7L331.1 1152.9L331.3 1047.1L331.6 1154.0L331.8 1065.3L332.1 1151.8L332.3 1053.1L332.6 1127.9L332.8 1053.8L333.0 1160.2L333.3 1041.0L333.5 1108.5L333.8 1078.6L334.0 1103.0L334.3 1074.9L334.5 1120.0L334.8 1039.7L335.0 1169.7L335.3 1059.0L335.5 1123.9L335.8 1057.9L336.0 1161.7L336.3 1042.1L336.5 1102.3L336.7 1036.5L337.0 1120.0L337.2 1073.2L337.5 1120.9L337.7 1025.2L338.0 1172.5L338.2 1053.8L338.5 1141.3L338.7 1066.7L339.0 1166.7L339.2 1070.0L339.5 1132.9L339.7 1052.3L339.9 1167.1L340.2 1066.7L340.4 1143.3L340.7 1086.8L340.9 1147.3L341.2 1060.7L341.4 1162.1L341.7 1081.3L341.9 1163.7L342.2 1081.1L342.4 1153.4L342.7 1112.8L342.9 1190.9L343.2 1053.4L343.4 1188.1L343.6 1108.5L343.9 1162.3L344.1 1070.8L344.4 1157.0L344.6 1083.2L344.9 1186.4L345.1 1066.5L345.4 1181.6L345.6 1077.6L345.9 1133.1L346.1 1079.5L346.4 1139.4L346.6 1072.7L346.8 1152.2L347.1 1081.0L347.3 1165.7L347.6 1091.5L347.8 1199.2L348.1 1063.3L348.3 1051.7L348.6 1210.6L348.8 1150.8L349.1 1095.1L349.3 1197.9L349.6 1126.0L349.8 1181.0L350.1 1104.1L350.3 1158.1L350.5 1081.0L350.8 1158.8L351.0 1066.2L351.3 1175.2L351.5 1070.0L351.8 1168.3L352.0 1085.9L352.3 1178.2L352.5 1062.1L352.8 1173.4L353.0 1058.8L353.3 1171.0L353.5 1057.8L353.7 1189.2L354.0 1093.6L354.2 1196.7L354.5 1073.1L354.7 1177.1L355.0 1098.7L355.2 1167.7L355.5 1055.7L355.7 1154.9L356.0 1121.4L356.2 1183.3L356.5 1055.5L356.7 1183.2L357.0 1050.0L357.2 1143.8L357.4 1098.5L357.7 1193.4L357.9 1091.3L358.2 1187.6L358.4 1072.1L358.7 1196.6L358.9 1034.7L359.2 1210.6L359.4 1069.1L359.7 1178.7L359.9 1074.3L360.2 1150.0L360.4 1049.0L360.6 1186.5L360.9 1070.9L361.1 1178.9L361.4 1081.4L361.6 1147.0L361.9 1112.8L362.1 1203.4L362.4 1092.6L362.6 1170.2L362.9 1079.3L363.1 1181.8L363.4 1072.4L363.6 1190.5L363.9 1070.7L364.1 1181.9L364.3 1123.4L364.6 1182.1L364.8 1090.3L365.1 1148.7L365.3 1084.1L365.6 1162.7L365.8 1061.7L366.1 1183.6L366.3 1091.3L366.6 1162.4L366.8 1107.2L367.1 1157.7L367.3 1079.9L367.6 1164.9L367.8 1104.8L368.0 1158.7L368.3 1093.0L368.5 1212.6L368.8 1073.0L369.0 1151.3L369.3 1089.7L369.5 1051.7L369.8 1214.8L370.0 1211.1L370.3 1089.6L370.5 1175.1L370.8 1062.0L371.0 1186.8L371.2 1061.4L371.5 1156.2L371.7 1109.3L372.0 1166.6L372.2 1074.4L372.5 1165.7L372.7 1079.5L373.0 1177.9L373.2 1056.5L373.5 1197.9L373.7 1056.6L374.0 1188.5L374.2 1085.7L374.5 1154.5L374.7 1072.6L374.9 1174.4L375.2 1065.1L375.4 1199.0L375.7 1081.5L375.9 1174.1L376.2 1064.7L376.4 1168.5L376.7 1073.8L376.9 1161.2L377.2 1076.7L377.4 1156.8L377.7 1105.0L377.9 1135.9L378.1 1070.7L378.4 1187.0L378.6 1101.7L378.9 1180.7L379.1 1090.0L379.4 1185.1L379.6 1082.5L379.9 1185.2L380.1 1036.9L380.4 1195.8L380.6 1054.6L380.9 1156.9L381.1 1095.3L381.4 1153.1L381.6 1069.7L381.8 1187.1L382.1 1091.9L382.3 1162.4L382.6 1063.6L382.8 1162.4L383.1 1078.7L383.3 1140.3L383.6 1075.2L383.8 1185.7L384.1 1077.3L384.3 1169.9L384.6 1085.3L384.8 1177.1L385.0 1095.6L385.3 1169.8L385.5 1122.0L385.8 1168.4L386.0 1112.1L386.3 1171.9L386.5 1130.3L386.8 1185.0L387.0 1097.9L387.3 1204.7L387.5 1095.6L387.8 1168.2L388.0 1101.8L388.3 1163.8L388.5 1102.8L388.7 1160.9L389.0 1081.9L389.2 1208.2L389.5 1096.6L389.7 1217.5L390.0 1140.0L390.2 1197.3L390.5 1098.3L390.7 1072.9L391.0 1242.4L391.2 1182.1L391.5 1085.9L391.7 1209.8L391.9 1147.0L392.2 1222.8L392.4 1103.1L392.7 1219.9L392.9 1101.7L393.2 1185.3L393.4 1085.3L393.7 1228.4L393.9 1089.6L394.2 1170.4L394.4 1137.9L394.7 1193.8L394.9 1113.2L395.2 1224.4L395.4 1138.8L395.6 1185.0L395.9 1084.8L396.1 1199.9L396.4 1088.5L396.6 1218.9L396.9 1140.2L397.1 1210.6L397.4 1115.4L397.6 1169.9L397.9 1085.3L398.1 1201.2L398.4 1105.7L398.6 1182.2L398.9 1104.3L399.1 1198.4L399.3 1124.8L399.6 1216.8L399.8 1115.7L400.1 1232.8L400.3 1083.5L400.6 1226.4L400.8 1133.7L401.1 1224.6L401.3 1070.8L401.6 1236.0L401.8 1100.7L402.1 1157.5L402.3 1122.8L402.5 1210.3L402.8 1134.3L403.0 1200.1L403.3 1145.6L403.5 1224.9L403.8 1113.7L404.0 1207.5L404.3 1099.6L404.5 1167.4L404.8 1141.0L405.0 1203.0L405.3 1133.2L405.5 1216.1L405.8 1123.8L406.0 1208.3L406.2 1090.8L406.5 1191.8L406.7 1099.4L407.0 1209.4L407.2 1103.6L407.5 1201.5L407.7 1099.3L408.0 1203.1L408.2 1105.6L408.5 1211.1L408.7 1117.9L409.0 1212.4L409.2 1132.0L409.4 1217.0L409.7 1090.3L409.9 1221.7L410.2 1096.9L410.4 1178.8L410.7 1125.8L410.9 1184.3L411.2 1131.4L411.4 1224.7L411.7 1132.0L411.9 1072.9L412.2 1238.1L412.4 1182.6L412.7 1121.2L412.9 1207.2L413.1 1102.0L413.4 1176.1L413.6 1097.8L413.9 1188.7L414.1 1081.3L414.4 1236.9L414.6 1104.8L414.9 1163.9L415.1 1103.9L415.4 1166.4L415.6 1083.2L415.9 1201.7L416.1 1143.5L416.3 1217.5L416.6 1089.9L416.8 1200.0L417.1 1090.0L417.3 1189.8L417.6 1110.0L417.8 1208.0L418.1 1087.2L418.3 1195.9L418.6 1134.8L418.8 1185.1L419.1 1097.5L419.3 1205.7L419.6 1103.4L419.8 1215.4L420.0 1116.0L420.3 1217.2L420.5 1081.8L420.8 1207.8L421.0 1079.7L421.3 1220.2L421.5 1111.2L421.8 1191.3L422.0 1082.0L422.3 1195.3L422.5 1064.4L422.8 1233.9L423.0 1080.9L423.2 1194.7L423.5 1093.2L423.7 1213.2L424.0 1097.5L424.2 1218.2L424.5 1075.9L424.7 1210.1L425.0 1083.2L425.2 1178.1L425.5 1085.9L425.7 1200.7L426.0 1080.4L426.2 1197.2L426.5 1074.3L426.7 1175.8L426.9 1110.2L427.2 1181.1L427.4 1106.2L427.7 1205.9L427.9 1096.0L428.2 1208.3L428.4 1109.0L428.7 1186.3L428.9 1098.0L429.2 1149.4L429.4 1129.6L429.7 1192.8L429.9 1098.8L430.2 1152.8L430.4 1121.3L430.6 1199.1L430.9 1101.0L431.1 1150.7L431.4 1125.3L431.6 1150.9L431.9 1122.7L432.1 1189.9L432.4 1098.4L432.6 1167.6L432.9 1120.1L433.1 1072.9L433.4 1204.2L433.6 1187.1L433.8 1082.0L434.1 1156.6L434.3 1098.5L434.6 1193.8L434.8 1131.3L435.1 1164.9L435.3 1108.1L435.6 1185.7L435.8 1092.1L436.1 1190.8L436.3 1106.5L436.6 1174.1L436.8 1092.6L437.1 1178.5L437.3 1087.6L437.5 1168.2L437.8 1087.7L438.0 1172.8L438.3 1125.4L438.5 1185.0L438.8 1090.3L439.0 1183.1L439.3 1106.4L439.5 1163.8L439.8 1096.2L440.0 1201.6L440.3 1123.9L440.5 1189.6L440.7 1102.0L441.0 1189.9L441.2 1095.0L441.5 1191.5L441.7 1090.0L442.0 1207.2L442.2 1109.0L442.5 1153.2L442.7 1091.2L443.0 1207.9L443.2 1093.9L443.5 1193.6L443.7 1077.1L444.0 1214.8L444.2 1092.2L444.4 1183.4L444.7 1111.6L444.9 1185.4L445.2 1085.6L445.4 1166.6L445.7 1091.2L445.9 1195.5L446.2 1109.2L446.4 1176.3L446.7 1083.3L446.9 1166.2L447.2 1106.6L447.4 1179.5L447.6 1134.5L447.9 1193.7L448.1 1086.4L448.4 1185.8L448.6 1087.1L448.9 1152.3L449.1 1108.4L449.4 1153.5L449.6 1089.8L449.9 1148.8L450.1 1080.3L450.4 1212.8L450.6 1088.9L450.9 1201.3L451.1 1071.8L451.3 1154.1L451.6 1071.8L451.8 1185.1L452.1 1089.2L452.3 1201.0L452.6 1098.9L452.8 1139.7L453.1 1054.1L453.3 1200.6L453.6 1061.1L453.8 1211.0L454.1 1096.8L454.3 1039.0L454.5 1214.8L454.8 1196.2L455.0 1108.0L455.3 1170.8L455.5 1057.6L455.8 1157.9L456.0 1098.7L456.3 1195.6L456.5 1068.9L456.8 1183.1L457.0 1103.1L457.3 1186.1L457.5 1116.0L457.8 1187.6L458.0 1111.1L458.2 1167.3L458.5 1093.2L458.7 1201.1L459.0 1109.7L459.2 1182.9L459.5 1087.0L459.7 1193.7L460.0 1131.9L460.2 1170.4L460.5 1117.5L460.7 1207.0L461.0 1088.7L461.2 1218.3L461.5 1140.1L461.7 1192.2L461.9 1087.7L462.2 1215.6L462.4 1091.2L462.7 1213.8L462.9 1116.0L463.2 1212.6L463.4 1108.7L463.7 1190.5L463.9 1102.8L464.2 1195.6L464.4 1118.4L464.7 1235.8L464.9 1089.8L465.1 1246.6L465.4 1108.6L465.6 1200.1L465.9 1133.4L466.1 1200.9L466.4 1136.9L466.6 1234.9L466.9 1102.7L467.1 1218.1L467.4 1129.7L467.6 1240.5L467.9 1137.3L468.1 1216.7L468.4 1104.8L468.6 1224.7L468.8 1094.3L469.1 1224.9L469.3 1173.3L469.6 1226.8L469.8 1104.1L470.1 1223.8L470.3 1105.1L470.6 1249.8L470.8 1142.6L471.1 1224.5L471.3 1138.3L471.6 1220.8L471.8 1118.0L472.0 1234.4L472.3 1143.8L472.5 1225.0L472.8 1119.5L473.0 1210.2L473.3 1148.7L473.5 1191.5L473.8 1112.1L474.0 1229.1L474.3 1111.4L474.5 1249.3L474.8 1128.5L475.0 1215.8L475.3 1128.0L475.5 1098.3L475.7 1269.9L476.0 1254.7L476.2 1104.7L476.5 1255.1L476.7 1177.0L477.0 1248.7L477.2 1119.6L477.5 1250.8L477.7 1109.6L478.0 1183.7L478.2 1093.4L478.5 1184.8L478.7 1117.8L478.9 1237.1L479.2 1135.7L479.4 1228.0L479.7 1165.4L479.9 1197.7L480.2 1132.8L480.4 1224.8L480.7 1130.6L480.9 1239.3L481.2 1110.9L481.4 1246.7L481.7 1132.0L481.9 1204.3L482.2 1088.1L482.4 1215.0L482.6 1059.7L482.9 1221.3L483.1 1091.0L483.4 1219.7L483.6 1125.4L483.9 1048.5L484.1 1257.2L484.4 1176.4L484.6 1089.7L484.9 1206.5L485.1 1061.0L485.4 1188.3L485.6 1083.2L485.8 1224.2L486.1 1093.9L486.3 1232.6L486.6 1101.6L486.8 1224.1L487.1 1121.1L487.3 1186.2L487.6 1121.3L487.8 1217.9L488.1 1108.6L488.3 1256.9L488.6 1155.7L488.8 1248.2L489.1 1134.0L489.3 1178.3L489.5 1137.1L489.8 1241.5L490.0 1144.1L490.3 1213.5L490.5 1118.9L490.8 1248.1L491.0 1152.3L491.3 1230.3L491.5 1112.1L491.8 1233.6L492.0 1150.7L492.3 1244.8L492.5 1120.5L492.8 1233.5L493.0 1116.9L493.2 1228.9L493.5 1157.8L493.7 1227.4L494.0 1130.5L494.2 1219.8L494.5 1136.8L494.7 1214.0L495.0 1111.1L495.2 1238.0L495.5 1145.5L495.7 1223.3L496.0 1136.8L496.2 1241.2L496.4 1136.7L496.7 1119.5L496.9 1267.8L497.2 1229.5L497.4 1150.9L497.7 1265.8L497.9 1136.5L498.2 1218.3L498.4 1127.9L498.7 1207.2L498.9 1168.5L499.2 1248.4L499.4 1117.5L499.7 1250.8L499.9 1154.4L500.1 1262.8L500.4 1141.8L500.6 1231.5L500.9 1122.2L501.1 1260.8L501.4 1180.3L501.6 1262.1L501.9 1173.4L502.1 1241.0L502.4 1131.0L502.6 1221.0L502.9 1172.7L503.1 1216.7L503.3 1155.7L503.6 1249.8L503.8 1167.1L504.1 1237.2L504.3 1151.0L504.6 1250.8L504.8 1138.2L505.1 1215.3L505.3 1165.6L505.6 1263.5L505.8 1136.2L506.1 1262.8L506.3 1146.8L506.6 1267.3L506.8 1116.8L507.0 1222.9L507.3 1098.3L507.5 1282.6L507.8 1104.4L508.0 1220.0L508.3 1132.0L508.5 1214.9L508.8 1120.3L509.0 1258.5L509.3 1159.2L509.5 1248.9L509.8 1125.0L510.0 1198.6L510.2 1173.7L510.5 1271.9L510.7 1120.4L511.0 1258.6L511.2 1135.2L511.5 1205.3L511.7 1125.4L512.0 1232.8L512.2 1148.3L512.5 1253.7L512.7 1151.7L513.0 1235.9L513.2 1169.5L513.5 1248.2L513.7 1172.5L513.9 1214.0L514.2 1143.9L514.4 1235.5L514.7 1145.2L514.9 1254.5L515.2 1154.2L515.4 1207.0L515.7 1161.8L515.9 1218.6L516.2 1152.2L516.4 1246.7L516.7 1132.1L516.9 1244.6L517.2 1126.4L517.4 1198.5L517.6 1142.7L517.9 1123.7L518.1 1257.2L518.4 1220.7L518.6 1134.8L518.9 1218.9L519.1 1130.4L519.4 1216.2L519.6 1133.6L519.9 1216.2L520.1 1141.7L520.4 1237.0L520.6 1154.6L520.8 1216.0L521.1 1156.5L521.3 1234.6L521.6 1155.7L521.8 1213.4L522.1 1124.3L522.3 1219.1L522.6 1168.6L522.8 1250.7L523.1 1115.1L523.3 1252.6L523.6 1136.4L523.8 1234.3L524.1 1177.8L524.3 1237.7L524.5 1140.5L524.8 1235.8L525.0 1155.1L525.3 1226.5L525.5 1151.1L525.8 1253.1L526.0 1162.4L526.3 1254.5L526.5 1129.6L526.8 1225.4L527.0 1115.3L527.3 1216.2L527.5 1125.1L527.7 1240.7L528.0 1128.4L528.2 1250.0L528.5 1085.6L528.7 1267.8L529.0 1169.2L529.2 1210.4L529.5 1124.4L529.7 1239.0L530.0 1141.9L530.2 1236.3L530.5 1168.4L530.7 1243.7L531.0 1152.3L531.2 1223.6L531.4 1162.6L531.7 1228.6L531.9 1160.0L532.2 1256.9L532.4 1133.0L532.7 1236.3L532.9 1166.7L533.2 1261.4L533.4 1149.6L533.7 1240.3L533.9 1173.3L534.2 1275.9L534.4 1156.7L534.6 1270.9L534.9 1132.4L535.1 1273.0L535.4 1181.5L535.6 1267.7L535.9 1153.8L536.1 1254.6L536.4 1177.3L536.6 1258.3L536.9 1156.7L537.1 1214.5L537.4 1145.5L537.6 1258.2L537.9 1125.5L538.1 1283.4L538.3 1134.7L538.6 1233.8L538.8 1188.0L539.1 1113.1L539.3 1310.2L539.6 1232.7L539.8 1153.3L540.1 1249.0L540.3 1128.7L540.6 1293.4L540.8 1185.9L541.1 1252.3L541.3 1131.0L541.5 1248.8L541.8 1163.7L542.0 1268.1L542.3 1150.6L542.5 1261.3L542.8 1150.8L543.0 1287.5L543.3 1148.3L543.5 1292.4L543.8 1189.2L544.0 1253.9L544.3 1153.7L544.5 1263.4L544.8 1136.0L545.0 1257.3L545.2 1167.9L545.5 1233.9L545.7 1135.9L546.0 1263.2L546.2 1133.5L546.5 1224.9L546.7 1134.4L547.0 1248.9L547.2 1132.3L547.5 1212.9L547.7 1167.5L548.0 1251.3L548.2 1134.7L548.5 1233.9L548.7 1157.8L548.9 1235.0L549.2 1137.4L549.4 1258.7L549.7 1123.7L549.9 1276.3L550.2 1179.3L550.4 1266.7L550.7 1188.9L550.9 1249.1L551.2 1140.8L551.4 1255.2L551.7 1156.8L551.9 1251.8L552.1 1152.0L552.4 1238.7L552.6 1139.6L552.9 1274.5L553.1 1147.5L553.4 1247.5L553.6 1163.8L553.9 1253.7L554.1 1176.1L554.4 1233.4L554.6 1173.0L554.9 1234.6L555.1 1144.8L555.4 1274.5L555.6 1170.9L555.8 1279.7L556.1 1198.2L556.3 1268.8L556.6 1158.0L556.8 1278.1L557.1 1176.3L557.3 1261.6L557.6 1143.9L557.8 1264.6L558.1 1161.2L558.3 1257.6L558.6 1180.8L558.8 1263.2L559.0 1182.7L559.3 1292.5L559.5 1169.2L559.8 1266.5L560.0 1164.8L560.3 1136.4L560.5 1305.9L560.8 1245.7L561.0 1216.7L561.3 1284.7L561.5 1175.0L561.8 1220.4L562.0 1160.4L562.3 1258.2L562.5 1168.9L562.7 1270.2L563.0 1156.6L563.2 1247.2L563.5 1172.9L563.7 1229.6L564.0 1159.3L564.2 1243.5L564.5 1146.9L564.7 1243.5L565.0 1160.8L565.2 1246.4L565.5 1158.3L565.7 1274.8L565.9 1156.3L566.2 1226.5L566.4 1175.0L566.7 1229.6L566.9 1133.4L567.2 1272.0L567.4 1179.8L567.7 1273.4L567.9 1139.8L568.2 1259.2L568.4 1146.9L568.7 1100.4L568.9 1289.0L569.2 1198.7L569.4 1121.3L569.6 1270.0L569.9 1124.8L570.1 1266.3L570.4 1113.2L570.6 1252.6L570.9 1157.0L571.1 1207.1L571.4 1116.4L571.6 1276.3L571.9 1132.6L572.1 1263.2L572.4 1117.0L572.6 1212.9L572.8 1124.3L573.1 1224.6L573.3 1159.3L573.6 1251.5L573.8 1118.8L574.1 1247.8L574.3 1119.0L574.6 1223.5L574.8 1140.1L575.1 1105.4L575.3 1266.4L575.6 1228.2L575.8 1138.1L576.1 1236.5L576.3 1144.9L576.5 1215.8L576.8 1151.7L577.0 1245.2L577.3 1127.8L577.5 1245.6L577.8 1134.0L578.0 1201.5L578.3 1147.0L578.5 1236.9L578.8 1146.0L579.0 1262.2L579.3 1155.3L579.5 1258.1L579.8 1132.1L580.0 1251.3L580.2 1136.0L580.5 1255.4L580.7 1175.4L581.0 1231.2L581.2 1150.4L581.5 1227.5L581.7 1153.7L582.0 1254.0L582.2 1164.2L582.5 1257.6L582.7 1154.0L583.0 1255.7L583.2 1159.4L583.4 1242.7L583.7 1160.4L583.9 1234.2L584.2 1155.9L584.4 1263.3L584.7 1156.1L584.9 1272.3L585.2 1172.8L585.4 1255.7L585.7 1137.2L585.9 1294.0L586.2 1150.2L586.4 1260.1L586.7 1168.2L586.9 1262.1L587.1 1155.9L587.4 1262.7L587.6 1166.8L587.9 1280.4L588.1 1196.5L588.4 1232.8L588.6 1170.5L588.9 1239.4L589.1 1186.4L589.4 1251.1L589.6 1196.1L589.9 1281.4L590.1 1187.3L590.3 1267.7L590.6 1183.9L590.8 1249.8L591.1 1161.0L591.3 1231.8L591.6 1200.0L591.8 1277.9L592.1 1164.6L592.3 1238.1L592.6 1198.8L592.8 1253.9L593.1 1174.8L593.3 1272.1L593.6 1178.0L593.8 1266.3L594.0 1175.7L594.3 1244.4L594.5 1204.2L594.8 1248.7L595.0 1210.2L595.3 1225.4L595.5 1190.9L595.8 1243.9L596.0 1183.0L596.3 1164.7L596.5 1281.3L596.8 1261.6L597.0 1185.0L597.2 1244.4L597.5 1182.7L597.7 1234.9L598.0 1171.5L598.2 1274.6L598.5 1158.8L598.7 1257.1L599.0 1209.9L599.2 1250.6L599.5 1206.1L599.7 1251.6L600.0 1175.9L600.2 1260.9L600.5 1197.5L600.7 1270.0L600.9 1189.6L601.2 1293.0L601.4 1170.7L601.7 1258.9L601.9 1184.9L602.2 1284.3L602.4 1184.5L602.7 1275.8L602.9 1183.9L603.2 1283.4L603.4 1177.7L603.7 1245.9L603.9 1216.8L604.1 1276.4L604.4 1205.5L604.6 1232.8L604.9 1172.6L605.1 1289.3L605.4 1153.4L605.6 1260.2L605.9 1181.8L606.1 1280.6L606.4 1156.2L606.6 1283.6L606.9 1137.2L607.1 1306.7L607.4 1206.8L607.6 1239.8L607.8 1170.3L608.1 1246.9L608.3 1176.7L608.6 1281.7L608.8 1196.1L609.1 1263.4L609.3 1152.0L609.6 1224.7L609.8 1151.2L610.1 1256.3L610.3 1181.2L610.6 1270.8L610.8 1163.5L611.1 1259.1L611.3 1178.7L611.5 1275.3L611.8 1164.8L612.0 1261.9L612.3 1211.4L612.5 1250.7L612.8 1183.9L613.0 1266.9L613.3 1170.0L613.5 1268.9L613.8 1154.1L614.0 1249.1L614.3 1159.1L614.5 1211.8L614.7 1195.6L615.0 1263.1L615.2 1156.1L615.5 1264.6L615.7 1154.2L616.0 1227.9L616.2 1199.0L616.5 1255.5L616.7 1160.9L617.0 1250.3L617.2 1179.4L617.5 1147.8L617.7 1266.4L618.0 1257.6L618.2 1147.8L618.4 1249.4L618.7 1172.6L618.9 1245.5L619.2 1168.5L619.4 1257.1L619.7 1165.5L619.9 1258.6L620.2 1166.3L620.4 1254.2L620.7 1158.8L620.9 1240.2L621.2 1151.9L621.4 1244.7L621.6 1166.2L621.9 1229.5L622.1 1165.5L622.4 1247.9L622.6 1153.1L622.9 1263.2L623.1 1156.6L623.4 1245.6L623.6 1156.4L623.9 1254.7L624.1 1153.6L624.4 1234.3L624.6 1175.8L624.9 1230.7L625.1 1169.0L625.3 1253.9L625.6 1151.1L625.8 1223.8L626.1 1169.2L626.3 1232.7L626.6 1145.3L626.8 1209.6L627.1 1181.7L627.3 1252.0L627.6 1168.5L627.8 1235.5L628.1 1129.8L628.3 1277.0L628.5 1203.4L628.8 1266.7L629.0 1143.8L629.3 1212.4L629.5 1197.0L629.8 1269.3L630.0 1155.7L630.3 1274.0L630.5 1207.6L630.8 1275.5L631.0 1199.5L631.3 1261.5L631.5 1155.8L631.8 1290.6L632.0 1166.5L632.2 1281.1L632.5 1186.4L632.7 1261.3L633.0 1160.5L633.2 1263.5L633.5 1189.2L633.7 1245.3L634.0 1173.6L634.2 1281.6L634.5 1170.9L634.7 1246.2L635.0 1192.6L635.2 1251.0L635.4 1178.7L635.7 1287.4L635.9 1187.5L636.2 1242.6L636.4 1213.1L636.7 1264.7L636.9 1190.9L637.2 1263.7L637.4 1202.1L637.7 1305.2L637.9 1188.1L638.2 1304.3L638.4 1197.7L638.7 1173.2L638.9 1327.9L639.1 1328.1L639.4 1246.1L639.6 1306.5L639.9 1236.4L640.1 1259.8L640.4 1250.0L640.6 1298.2L640.9 1193.4L641.1 1297.2L641.4 1244.8L641.6 1329.0L641.9 1194.6L642.1 1326.1L642.4 1217.1L642.6 1329.3L642.8 1185.9L643.1 1359.7L643.3 1202.7L643.6 1344.7L643.8 1182.2L644.1 1320.8L644.3 1218.0L644.6 1312.7L644.8 1200.1L645.1 1333.2L645.3 1219.4L645.6 1328.6L645.8 1247.2L646.0 1312.0L646.3 1199.1L646.5 1305.8L646.8 1181.6L647.0 1279.4L647.3 1221.1L647.5 1306.9L647.8 1167.2L648.0 1272.4L648.3 1169.5L648.5 1277.1L648.8 1171.4L649.0 1264.0L649.3 1143.6L649.5 1334.2L649.7 1174.5L650.0 1319.4L650.2 1210.5L650.5 1288.0L650.7 1169.7L651.0 1302.2L651.2 1175.8L651.5 1316.6L651.7 1235.1L652.0 1284.4L652.2 1215.5L652.5 1310.2L652.7 1196.5L652.9 1284.1L653.2 1189.5L653.4 1273.6L653.7 1195.8L653.9 1304.6L654.2 1196.3L654.4 1301.7L654.7 1230.9L654.9 1301.0L655.2 1196.8L655.4 1265.1L655.7 1210.0L655.9 1308.7L656.2 1203.8L656.4 1293.6L656.6 1231.9L656.9 1289.5L657.1 1236.2L657.4 1288.4L657.6 1226.3L657.9 1278.4L658.1 1214.1L658.4 1272.8L658.6 1179.7L658.9 1272.0L659.1 1197.9L659.4 1262.0L659.6 1208.0L659.8 1183.8L660.1 1313.1L660.3 1285.5L660.6 1192.0L660.8 1298.1L661.1 1222.4L661.3 1275.6L661.6 1186.6L661.8 1270.0L662.1 1202.3L662.3 1295.5L662.6 1223.3L662.8 1256.6L663.1 1230.6L663.3 1282.4L663.5 1217.8L663.8 1283.0L664.0 1243.0L664.3 1313.1L664.5 1224.0L664.8 1305.9L665.0 1197.8L665.3 1289.8L665.5 1239.1L665.8 1260.8L666.0 1217.0L666.3 1298.9L666.5 1208.6L666.7 1305.5L667.0 1224.1L667.2 1285.3L667.5 1226.5L667.7 1286.6L668.0 1188.8L668.2 1298.4L668.5 1199.9L668.7 1283.8L669.0 1191.6L669.2 1300.2L669.5 1182.1L669.7 1298.5L670.0 1189.8L670.2 1296.6L670.4 1179.6L670.7 1315.2L670.9 1199.1L671.2 1259.3L671.4 1189.9L671.7 1288.8L671.9 1186.4L672.2 1273.3L672.4 1191.1L672.7 1290.5L672.9 1202.5L673.2 1287.4L673.4 1182.7L673.7 1284.7L673.9 1191.5L674.1 1294.6L674.4 1227.9L674.6 1297.7L674.9 1192.5L675.1 1295.6L675.4 1181.7L675.6 1298.5L675.9 1197.8L676.1 1247.4L676.4 1185.6L676.6 1286.5L676.9 1185.4L677.1 1302.5L677.3 1197.0L677.6 1266.1L677.8 1169.3L678.1 1297.2L678.3 1229.4L678.6 1270.4L678.8 1213.1L679.1 1294.9L679.3 1182.5L679.6 1287.7L679.8 1158.3L680.1 1292.5L680.3 1167.7L680.6 1289.7L680.8 1169.9L681.0 1147.8L681.3 1310.9L681.5 1279.8L681.8 1151.5L682.0 1292.0L682.3 1173.4L682.5 1305.8L682.8 1200.1L683.0 1311.5L683.3 1235.2L683.5 1273.6L683.8 1175.9L684.0 1277.7L684.2 1193.1L684.5 1266.4L684.7 1170.2L685.0 1297.8L685.2 1190.0L685.5 1306.7L685.7 1188.3L686.0 1278.2L686.2 1185.9L686.5 1300.2L686.7 1192.0L687.0 1272.8L687.2 1183.2L687.5 1282.8L687.7 1177.9L687.9 1266.0L688.2 1217.0L688.4 1275.4L688.7 1183.6L688.9 1307.0L689.2 1195.9L689.4 1302.0L689.7 1206.2L689.9 1268.2L690.2 1208.5L690.4 1327.6L690.7 1233.4L690.9 1308.0L691.1 1224.1L691.4 1317.2L691.6 1181.7L691.9 1344.8L692.1 1216.5L692.4 1286.1L692.6 1196.1L692.9 1328.6L693.1 1197.4L693.4 1323.6L693.6 1191.2L693.9 1282.2L694.1 1211.4L694.4 1322.3L694.6 1191.1L694.8 1302.4L695.1 1187.9L695.3 1311.4L695.6 1237.8L695.8 1311.1L696.1 1191.0L696.3 1282.2L696.6 1216.0L696.8 1304.3L697.1 1212.4L697.3 1312.6L697.6 1191.1L697.8 1305.0L698.1 1184.4L698.3 1306.3L698.5 1188.7L698.8 1270.6L699.0 1190.6L699.3 1250.6L699.5 1193.4L699.8 1288.6L700.0 1181.7L700.3 1286.0L700.5 1207.9L700.8 1291.3L701.0 1201.3L701.3 1290.3L701.5 1172.5L701.7 1286.4L702.0 1217.4L702.2 1169.0L702.5 1302.5L702.7 1284.5L703.0 1225.9L703.2 1261.9L703.5 1208.3L703.7 1275.7L704.0 1188.8L704.2 1281.8L704.5 1201.4L704.7 1293.3L705.0 1205.6L705.2 1300.0L705.4 1192.2L705.7 1269.1L705.9 1199.0L706.2 1299.4L706.4 1208.3L706.7 1275.3L706.9 1213.7L707.2 1313.7L707.4 1236.6L707.7 1308.3L707.9 1204.0L708.2 1306.0L708.4 1203.5L708.6 1320.2L708.9 1236.5L709.1 1300.5L709.4 1231.4L709.6 1285.6L709.9 1253.3L710.1 1282.7L710.4 1225.4L710.6 1315.4L710.9 1215.3L711.1 1298.8L711.4 1223.2L711.6 1299.3L711.9 1264.1L712.1 1315.6L712.3 1254.8L712.6 1211.4L712.8 1344.8L713.1 1323.6L713.3 1243.5L713.6 1326.3L713.8 1250.2L714.1 1283.3L714.3 1222.8L714.6 1325.1L714.8 1216.9L715.1 1298.1L715.3 1240.4L715.5 1290.4L715.8 1213.8L716.0 1302.6L716.3 1235.0L716.5 1307.2L716.8 1242.7L717.0 1299.3L717.3 1213.8L717.5 1291.0L717.8 1260.4L718.0 1306.6L718.3 1231.3L718.5 1320.6L718.8 1213.8L719.0 1317.3L719.2 1212.7L719.5 1272.9L719.7 1216.0L720.0 1294.6L720.2 1206.0L720.5 1316.7L720.7 1221.2L721.0 1312.9L721.2 1241.6L721.5 1317.2L721.7 1218.8L722.0 1270.0L722.2 1220.0L722.4 1300.3L722.7 1232.0L722.9 1272.7L723.2 1190.2L723.4 1321.5L723.7 1248.8L723.9 1296.6L724.2 1244.9L724.4 1306.1L724.7 1252.8L724.9 1267.4L725.2 1222.6L725.4 1276.0L725.7 1211.9L725.9 1311.9L726.1 1207.6L726.4 1309.6L726.6 1189.5L726.9 1279.8L727.1 1211.5L727.4 1307.4L727.6 1198.6L727.9 1292.1L728.1 1225.5L728.4 1307.2L728.6 1196.3L728.9 1283.9L729.1 1239.3L729.4 1270.3L729.6 1211.7L729.8 1318.9L730.1 1194.3L730.3 1316.6L730.6 1209.9L730.8 1305.4L731.1 1219.3L731.3 1317.0L731.6 1196.9L731.8 1310.2L732.1 1203.1L732.3 1289.1L732.6 1211.9L732.8 1261.8L733.0 1237.2L733.3 1306.5L733.5 1196.9L733.8 1181.7L734.0 1330.0L734.3 1295.4L734.5 1231.1L734.8 1309.4L735.0 1214.8L735.3 1276.0L735.5 1189.5L735.8 1294.6L736.0 1241.7L736.3 1319.5L736.5 1245.9L736.7 1308.5L737.0 1206.5L737.2 1335.4L737.5 1232.9L737.7 1268.6L738.0 1240.6L738.2 1304.9L738.5 1201.4L738.7 1324.6L739.0 1226.0L739.2 1281.7L739.5 1259.3L739.7 1338.9L739.9 1212.5L740.2 1336.3L740.4 1257.4L740.7 1298.7L740.9 1258.4L741.2 1354.0L741.4 1226.6L741.7 1325.6L741.9 1213.5L742.2 1294.9L742.4 1262.5L742.7 1354.4L742.9 1222.6L743.2 1345.3L743.4 1213.1L743.6 1333.8L743.9 1206.1L744.1 1305.7L744.4 1194.4L744.6 1378.7L744.9 1206.9L745.1 1339.0L745.4 1232.8L745.6 1326.9L745.9 1210.4L746.1 1317.4L746.4 1199.3L746.6 1344.8L746.8 1222.7L747.1 1283.7L747.3 1271.5L747.6 1349.6L747.8 1211.4L748.1 1291.4L748.3 1224.2L748.6 1354.0L748.8 1199.7L749.1 1289.5L749.3 1241.8L749.6 1307.8L749.8 1196.6L750.1 1360.2L750.3 1201.3L750.5 1289.4L750.8 1183.9L751.0 1345.6L751.3 1266.4L751.5 1319.0L751.8 1171.4L752.0 1338.4L752.3 1197.6L752.5 1303.0L752.8 1182.8L753.0 1348.6L753.3 1225.0L753.5 1353.1L753.7 1186.2L754.0 1283.4L754.2 1200.4L754.5 1313.5L754.7 1220.9L755.0 1154.2L755.2 1363.9L755.5 1307.5L755.7 1192.7L756.0 1271.2L756.2 1213.7L756.5 1350.0L756.7 1166.2L757.0 1318.4L757.2 1238.7L757.4 1356.6L757.7 1179.4L757.9 1325.7L758.2 1192.3L758.4 1327.0L758.7 1224.2L758.9 1342.5L759.2 1181.9L759.4 1324.0L759.7 1180.5L759.9 1306.9L760.2 1198.3L760.4 1341.3L760.7 1258.7L760.9 1331.4L761.1 1229.6L761.4 1329.5L761.6 1226.1L761.9 1336.9L762.1 1242.0L762.4 1323.1L762.6 1211.2L762.9 1313.5L763.1 1182.0L763.4 1341.6L763.6 1222.3L763.9 1333.9L764.1 1217.6L764.3 1292.9L764.6 1201.3L764.8 1291.9L765.1 1233.8L765.3 1297.3L765.6 1175.3L765.8 1351.2L766.1 1216.8L766.3 1325.2L766.6 1216.7L766.8 1313.6L767.1 1181.1L767.3 1322.3L767.6 1204.1L767.8 1326.5L768.0 1240.3L768.3 1345.1L768.5 1237.2L768.8 1325.5L769.0 1215.0L769.3 1287.6L769.5 1243.2L769.8 1280.9L770.0 1252.2L770.3 1330.8L770.5 1230.9L770.8 1333.0L771.0 1205.4L771.2 1300.2L771.5 1210.4L771.7 1332.4L772.0 1259.4L772.2 1303.0L772.5 1235.0L772.7 1326.7L773.0 1254.6L773.2 1295.1L773.5 1235.3L773.7 1312.1L774.0 1219.6L774.2 1328.0L774.5 1238.4L774.7 1281.5L774.9 1210.5L775.2 1307.7L775.4 1219.5L775.7 1283.1L775.9 1240.4L776.2 1211.4L776.4 1338.5L776.7 1332.6L776.9 1219.8L777.2 1301.3L777.4 1222.7L777.7 1315.2L777.9 1243.5L778.1 1281.6L778.4 1232.9L778.6 1329.2L778.9 1248.3L779.1 1322.0L779.4 1229.6L779.6 1348.3L779.9 1245.7L780.1 1309.6L780.4 1247.6L780.6 1361.2L780.9 1230.2L781.1 1304.0L781.4 1224.4L781.6 1333.0L781.8 1262.4L782.1 1359.5L782.3 1248.4L782.6 1342.7L782.8 1229.4L783.1 1359.7L783.3 1234.2L783.6 1363.5L783.8 1254.9L784.1 1309.8L784.3 1246.4L784.6 1311.4L784.8 1236.9L785.0 1359.5L785.3 1238.5L785.5 1351.9L785.8 1271.0L786.0 1374.1L786.3 1269.5L786.5 1360.0L786.8 1215.6L787.0 1402.0L787.3 1232.3L787.5 1369.3L787.8 1245.3L788.0 1382.0L788.3 1277.5L788.5 1374.7L788.7 1245.0L789.0 1378.5L789.2 1250.3L789.5 1381.1L789.7 1274.5L790.0 1390.0L790.2 1278.7L790.5 1365.7L790.7 1270.4L791.0 1362.0L791.2 1228.3L791.5 1421.1L791.7 1245.7L792.0 1389.5L792.2 1247.0L792.4 1376.5L792.7 1251.9L792.9 1357.6L793.2 1264.1L793.4 1384.8L793.7 1244.4L793.9 1384.6L794.2 1235.7L794.4 1339.5L794.7 1261.1L794.9 1378.8L795.2 1222.5L795.4 1355.5L795.6 1210.6L795.9 1360.1L796.1 1212.5L796.4 1332.5L796.6 1225.3L796.9 1330.7L797.1 1215.1L797.4 1183.8L797.6 1372.4L797.9 1341.6L798.1 1206.2L798.4 1349.7L798.6 1235.9L798.9 1366.7L799.1 1243.0L799.3 1331.5L799.6 1233.2L799.8 1309.2L800.1 1208.5L800.3 1325.9L800.6 1227.5L800.8 1289.0L801.1 1218.8L801.3 1318.4L801.6 1241.8L801.8 1322.6L802.1 1206.1L802.3 1319.0L802.5 1223.9L802.8 1340.5L803.0 1232.2L803.3 1319.7L803.5 1237.9L803.8 1307.0L804.0 1206.6L804.3 1348.0L804.5 1235.8L804.8 1339.3L805.0 1232.1L805.3 1323.2L805.5 1212.3L805.8 1280.6L806.0 1246.9L806.2 1311.5L806.5 1204.9L806.7 1323.2L807.0 1189.0L807.2 1312.6L807.5 1205.0L807.7 1295.2L808.0 1183.8L808.2 1340.6L808.5 1236.2L808.7 1321.2L809.0 1242.4L809.2 1285.3L809.4 1220.6L809.7 1315.7L809.9 1198.6L810.2 1280.3L810.4 1227.9L810.7 1309.1L810.9 1193.6L811.2 1323.2L811.4 1199.7L811.7 1300.2L811.9 1207.0L812.2 1309.9L812.4 1195.8L812.7 1298.5L812.9 1212.6L813.1 1258.1L813.4 1183.5L813.6 1314.1L813.9 1181.7L814.1 1311.5L814.4 1188.3L814.6 1294.6L814.9 1176.1L815.1 1271.1L815.4 1223.8L815.6 1292.3L815.9 1175.5L816.1 1260.7L816.3 1196.4L816.6 1270.3L816.8 1171.0L817.1 1291.2L817.3 1166.0L817.6 1151.0L817.8 1313.1L818.1 1286.2L818.3 1167.3L818.6 1302.3L818.8 1203.8L819.1 1281.9L819.3 1170.0L819.6 1253.2L819.8 1191.0L820.0 1296.3L820.3 1195.2L820.5 1325.7L820.8 1190.9L821.0 1312.8L821.3 1215.2L821.5 1303.6L821.8 1190.0L822.0 1302.4L822.3 1170.1L822.5 1286.5L822.8 1194.1L823.0 1285.4L823.3 1192.3L823.5 1302.7L823.7 1215.1L824.0 1339.8L824.2 1194.0L824.5 1338.6L824.7 1241.0L825.0 1334.2L825.2 1214.3L825.5 1324.7L825.7 1210.9L826.0 1325.4L826.2 1199.9L826.5 1331.3L826.7 1191.5L826.9 1330.8L827.2 1220.2L827.4 1314.0L827.7 1215.8L827.9 1359.7L828.2 1216.9L828.4 1363.4L828.7 1243.5L828.9 1344.3L829.2 1194.4L829.4 1370.3L829.7 1234.2L829.9 1336.4L830.2 1233.0L830.4 1334.3L830.6 1207.7L830.9 1305.0L831.1 1226.6L831.4 1321.6L831.6 1254.3L831.9 1323.9L832.1 1231.0L832.4 1327.4L832.6 1227.1L832.9 1285.4L833.1 1208.9L833.4 1328.8L833.6 1266.0L833.8 1335.9L834.1 1238.5L834.3 1326.2L834.6 1254.6L834.8 1329.2L835.1 1213.8L835.3 1309.4L835.6 1218.5L835.8 1325.9L836.1 1215.7L836.3 1321.4L836.6 1208.1L836.8 1301.5L837.1 1251.9L837.3 1333.3L837.5 1208.1L837.8 1288.6L838.0 1220.1L838.3 1305.6L838.5 1203.3L838.8 1279.4L839.0 1222.7L839.3 1328.6L839.5 1199.8L839.8 1192.3L840.0 1344.8L840.3 1276.7L840.5 1201.6L840.7 1324.3L841.0 1210.9L841.2 1335.0L841.5 1236.0L841.7 1324.0L842.0 1224.2L842.2 1333.8L842.5 1242.8L842.7 1324.8L843.0 1202.2L843.2 1323.2L843.5 1213.8L843.7 1312.2L844.0 1209.0L844.2 1338.5L844.4 1205.5L844.7 1298.7L844.9 1201.7L845.2 1347.8L845.4 1228.6L845.7 1326.0L845.9 1207.3L846.2 1330.8L846.4 1203.0L846.7 1272.7L846.9 1207.8L847.2 1333.5L847.4 1244.6L847.6 1339.8L847.9 1199.2L848.1 1338.9L848.4 1221.9L848.6 1327.5L848.9 1234.1L849.1 1286.5L849.4 1226.0L849.6 1344.3L849.9 1220.8L850.1 1319.5L850.4 1179.6L850.6 1366.0L850.9 1213.9L851.1 1350.1L851.3 1182.6L851.6 1345.0L851.8 1198.3L852.1 1310.7L852.3 1195.6L852.6 1334.9L852.8 1206.7L853.1 1294.0L853.3 1246.3L853.6 1337.9L853.8 1179.9L854.1 1289.9L854.3 1188.8L854.6 1332.5L854.8 1205.8L855.0 1310.2L855.3 1205.8L855.5 1284.3L855.8 1214.0L856.0 1311.0L856.3 1225.1L856.5 1291.5L856.8 1175.3L857.0 1330.0L857.3 1208.7L857.5 1304.6L857.8 1245.3L858.0 1266.5L858.2 1236.7L858.5 1304.2L858.7 1238.0L859.0 1294.0L859.2 1236.7L859.5 1301.2L859.7 1202.6L860.0 1271.9L860.2 1189.6L860.5 1305.7L860.7 1187.7L861.0 1295.1L861.2 1182.5L861.5 1330.8L861.7 1257.6L861.9 1264.0L862.2 1253.3L862.4 1322.6L862.7 1233.5L862.9 1322.5L863.2 1193.5L863.4 1275.6L863.7 1240.7L863.9 1333.1L864.2 1196.8L864.4 1312.5L864.7 1196.8L864.9 1294.7L865.1 1207.9L865.4 1336.6L865.6 1192.1L865.9 1345.7L866.1 1191.0L866.4 1332.6L866.6 1219.1L866.9 1280.1L867.1 1205.2L867.4 1319.0L867.6 1240.1L867.9 1326.0L868.1 1229.0L868.4 1311.5L868.6 1222.5L868.8 1303.7L869.1 1267.3L869.3 1329.1L869.6 1248.9L869.8 1327.2L870.1 1222.7L870.3 1325.4L870.6 1202.6L870.8 1348.2L871.1 1221.9L871.3 1334.7L871.6 1183.8L871.8 1366.0L872.0 1252.7L872.3 1342.6L872.5 1201.5L872.8 1295.3L873.0 1192.1L873.3 1350.5L873.5 1255.8L873.8 1338.0L874.0 1248.0L874.3 1287.3L874.5 1200.2L874.8 1308.2L875.0 1237.8L875.3 1317.2L875.5 1220.8L875.7 1309.5L876.0 1204.8L876.2 1332.9L876.5 1254.9L876.7 1310.7L877.0 1206.9L877.2 1326.5L877.5 1243.3L877.7 1304.7L878.0 1248.2L878.2 1332.0L878.5 1233.5L878.7 1329.9L879.0 1220.2L879.2 1304.7L879.4 1240.1L879.7 1296.3L879.9 1223.5L880.2 1291.1L880.4 1213.7L880.7 1299.0L880.9 1249.3L881.2 1295.6L881.4 1227.0L881.7 1299.9L881.9 1232.3L882.2 1207.1L882.4 1313.1L882.6 1298.8L882.9 1220.9L883.1 1314.8L883.4 1221.5L883.6 1282.4L883.9 1244.5L884.1 1296.3L884.4 1246.9L884.6 1297.0L884.9 1211.7L885.1 1293.8L885.4 1215.3L885.6 1281.6L885.9 1221.2L886.1 1287.7L886.3 1221.0L886.6 1295.9L886.8 1230.3L887.1 1310.0L887.3 1201.2L887.6 1321.5L887.8 1211.9L888.1 1294.4L888.3 1251.1L888.6 1297.0L888.8 1244.0L889.1 1270.0L889.3 1256.5L889.5 1320.7L889.8 1209.4L890.0 1297.9L890.3 1227.5L890.5 1295.1L890.8 1224.0L891.0 1323.4L891.3 1237.9L891.5 1310.7L891.8 1234.8L892.0 1312.2L892.3 1206.4L892.5 1271.3L892.8 1188.1L893.0 1336.4L893.2 1244.9L893.5 1329.4L893.7 1215.4L894.0 1295.3L894.2 1212.9L894.5 1290.2L894.7 1226.3L895.0 1302.2L895.2 1270.9L895.5 1295.9L895.7 1259.7L896.0 1320.3L896.2 1249.5L896.4 1326.3L896.7 1244.6L896.9 1309.2L897.2 1260.6L897.4 1316.2L897.7 1226.4L897.9 1332.8L898.2 1254.0L898.4 1328.3L898.7 1254.3L898.9 1336.1L899.2 1247.1L899.4 1312.0L899.7 1256.4L899.9 1322.3L900.1 1267.7L900.4 1354.9L900.6 1280.3L900.9 1345.7L901.1 1247.8L901.4 1336.0L901.6 1256.3L901.9 1338.1L902.1 1251.0L902.4 1356.4L902.6 1271.2L902.9 1355.8L903.1 1305.5L903.3 1249.5L903.6 1378.7L903.8 1340.4L904.1 1256.8L904.3 1349.5L904.6 1255.2L904.8 1329.1L905.1 1261.6L905.3 1352.4L905.6 1268.0L905.8 1320.8L906.1 1251.3L906.3 1342.5L906.6 1240.8L906.8 1364.7L907.0 1281.2L907.3 1347.1L907.5 1238.9L907.8 1343.0L908.0 1283.1L908.3 1338.4L908.5 1239.0L908.8 1338.9L909.0 1232.7L909.3 1335.1L909.5 1229.2L909.8 1355.2L910.0 1250.0L910.3 1373.7L910.5 1265.9L910.7 1364.3L911.0 1265.0L911.2 1357.1L911.5 1220.4L911.7 1352.7L912.0 1237.2L912.2 1363.8L912.5 1236.2L912.7 1292.0L913.0 1241.5L913.2 1367.2L913.5 1233.2L913.7 1367.0L913.9 1188.1L914.2 1387.2L914.4 1208.1L914.7 1346.5L914.9 1234.1L915.2 1348.6L915.4 1204.2L915.7 1344.8L915.9 1252.2L916.2 1333.6L916.4 1229.4L916.7 1348.7L916.9 1206.7L917.2 1331.9L917.4 1267.1L917.6 1352.3L917.9 1279.6L918.1 1362.0L918.4 1212.8L918.6 1312.6L918.9 1227.1L919.1 1346.7L919.4 1210.8L919.6 1346.4L919.9 1221.7L920.1 1354.7L920.4 1246.7L920.6 1337.7L920.8 1271.0L921.1 1345.1L921.3 1259.8L921.6 1321.8L921.8 1246.6L922.1 1325.7L922.3 1213.3L922.6 1343.1L922.8 1280.0L923.1 1340.8L923.3 1268.6L923.6 1316.7L923.8 1235.3L924.1 1325.4L924.3 1233.7L924.5 1207.1L924.8 1355.4L925.0 1345.0L925.3 1231.5L925.5 1347.5L925.8 1236.3L926.0 1349.8L926.3 1276.9L926.5 1310.0L926.8 1226.3L927.0 1346.8L927.3 1233.4L927.5 1342.9L927.7 1257.9L928.0 1347.7L928.2 1262.6L928.5 1299.9L928.7 1235.8L929.0 1352.0L929.2 1266.5L929.5 1368.4L929.7 1235.5L930.0 1360.1L930.2 1291.0L930.5 1355.8L930.7 1245.1L931.0 1379.4L931.2 1247.7L931.4 1395.7L931.7 1234.8L931.9 1380.8L932.2 1245.3L932.4 1357.8L932.7 1275.1L932.9 1373.3L933.2 1224.4L933.4 1381.9L933.7 1226.8L933.9 1349.6L934.2 1232.2L934.4 1340.2L934.6 1274.5L934.9 1408.6L935.1 1211.4L935.4 1429.6L935.6 1237.2L935.9 1377.4L936.1 1244.6L936.4 1389.4L936.6 1245.2L936.9 1353.8L937.1 1287.2L937.4 1347.3L937.6 1223.0L937.9 1369.3L938.1 1234.4L938.3 1324.0L938.6 1261.6L938.8 1378.3L939.1 1294.7L939.3 1336.1L939.6 1248.5L939.8 1380.3L940.1 1255.4L940.3 1317.8L940.6 1252.3L940.8 1355.7L941.1 1224.2L941.3 1342.0L941.6 1235.0L941.8 1368.7L942.0 1263.0L942.3 1348.9L942.5 1234.9L942.8 1365.7L943.0 1284.1L943.3 1317.4L943.5 1226.3L943.8 1317.7L944.0 1285.4L944.3 1310.9L944.5 1229.0L944.8 1358.4L945.0 1248.4L945.2 1330.1L945.5 1241.0L945.7 1194.4L946.0 1366.0L946.2 1311.2L946.5 1212.0L946.7 1315.4L947.0 1248.5L947.2 1344.4L947.5 1211.4L947.7 1329.1L948.0 1259.4L948.2 1304.5L948.5 1210.1L948.7 1316.6L948.9 1227.4L949.2 1304.6L949.4 1246.1L949.7 1304.1L949.9 1192.3L950.2 1338.5L950.4 1230.6L950.7 1298.5L950.9 1223.2L951.2 1293.9L951.4 1233.3L951.7 1315.5L951.9 1215.9L952.1 1302.8L952.4 1201.4L952.6 1301.2L952.9 1209.8L953.1 1313.2L953.4 1213.3L953.6 1329.9L953.9 1213.6L954.1 1315.8L954.4 1248.8L954.6 1347.2L954.9 1204.5L955.1 1324.1L955.4 1246.7L955.6 1343.0L955.8 1241.7L956.1 1303.3L956.3 1261.6L956.6 1323.0L956.8 1216.0L957.1 1336.5L957.3 1226.5L957.6 1350.0L957.8 1196.5L958.1 1350.8L958.3 1199.9L958.6 1351.4L958.8 1205.7L959.0 1326.1L959.3 1229.7L959.5 1352.4L959.8 1239.2L960.0 1359.4L960.3 1211.4L960.5 1188.1L960.8 1372.4L961.0 1305.9L961.3 1223.5L961.5 1342.5L961.8 1237.3L962.0 1358.7L962.3 1270.7L962.5 1306.1L962.7 1248.2L963.0 1355.7L963.2 1220.5L963.5 1325.6L963.7 1269.2L964.0 1341.5L964.2 1215.4L964.5 1354.3L964.7 1194.5L965.0 1345.3L965.2 1221.8L965.5 1279.0L965.7 1231.3L965.9 1324.1L966.2 1227.3L966.4 1330.6L966.7 1207.4L966.9 1300.8L967.2 1220.9L967.4 1349.1L967.7 1214.6L967.9 1317.6L968.2 1238.5L968.4 1282.9L968.7 1221.6L968.9 1315.3L969.2 1250.3L969.4 1334.3L969.6 1200.7L969.9 1305.9L970.1 1268.9L970.4 1345.2L970.6 1215.2L970.9 1321.2L971.1 1194.6L971.4 1339.8L971.6 1198.9L971.9 1345.5L972.1 1208.6L972.4 1347.9L972.6 1194.5L972.9 1345.0L973.1 1221.4L973.3 1179.6L973.6 1368.1L973.8 1308.3L974.1 1203.5L974.3 1320.5L974.6 1199.7L974.8 1332.2L975.1 1219.4L975.3 1316.1L975.6 1218.3L975.8 1338.3L976.1 1232.1L976.3 1345.0L976.5 1260.2L976.8 1328.9L977.0 1236.1L977.3 1337.4L977.5 1231.5L977.8 1340.1L978.0 1256.1L978.3 1351.3L978.5 1226.8L978.8 1350.4L979.0 1252.8L979.3 1344.4L979.5 1230.4L979.8 1345.4L980.0 1250.3L980.2 1311.0L980.5 1251.6L980.7 1309.3L981.0 1282.0L981.2 1326.3L981.5 1263.7L981.7 1236.8L982.0 1355.4L982.2 1347.6L982.5 1279.4L982.7 1334.2L983.0 1276.3L983.2 1338.8L983.4 1234.6L983.7 1353.1L983.9 1275.8L984.2 1346.4L984.4 1275.0L984.7 1337.5L984.9 1249.9L985.2 1311.3L985.4 1288.8L985.7 1345.5L985.9 1259.6L986.2 1349.1L986.4 1231.4L986.7 1317.7L986.9 1259.0L987.1 1303.4L987.4 1231.8L987.6 1334.9L987.9 1233.2L988.1 1346.8L988.4 1269.7L988.6 1304.2L988.9 1249.2L989.1 1310.3L989.4 1233.2L989.6 1306.2L989.9 1227.7L990.1 1317.3L990.3 1276.0L990.6 1327.3L990.8 1240.7L991.1 1353.1L991.3 1220.2L991.6 1299.8L991.8 1251.3L992.1 1340.0L992.3 1200.8L992.6 1363.9L992.8 1212.5L993.1 1342.3L993.3 1230.9L993.6 1331.3L993.8 1228.4L994.0 1309.6L994.3 1222.0L994.5 1343.6L994.8 1222.7L995.0 1294.2L995.3 1241.6L995.5 1318.1L995.8 1241.0L996.0 1327.6L996.3 1245.1L996.5 1319.2L996.8 1276.1L997.0 1343.1L997.2 1246.8L997.5 1296.9L997.7 1270.4L998.0 1353.4L998.2 1236.4L998.5 1353.7L998.7 1255.7L999.0 1348.2L999.2 1251.6L999.5 1344.6L999.7 1263.1L1000.0 1319.2L1000.2 1240.3L1000.5 1304.3L1000.7 1260.3L1000.9 1303.2L1001.2 1271.9L1001.4 1352.3L1001.7 1266.0L1001.9 1326.4L1002.2 1251.3L1002.4 1344.8L1002.7 1270.0L1002.9 1236.8L1003.2 1361.8L1003.4 1305.6L1003.7 1251.3L1003.9 1351.4L1004.2 1279.1L1004.4 1341.0L1004.6 1280.3L1004.9 1348.1L1005.1 1251.1L1005.4 1335.1L1005.6 1262.7L1005.9 1333.5L1006.1 1247.5L1006.4 1296.0L1006.6 1229.5L1006.9 1326.9L1007.1 1240.8L1007.4 1318.8L1007.6 1233.2L1007.8 1289.3L1008.1 1238.5L1008.3 1316.8L1008.6 1250.5L1008.8 1308.0L1009.1 1230.7L1009.3 1340.2L1009.6 1216.3L1009.8 1340.1L1010.1 1231.1L1010.3 1300.8L1010.6 1214.2L1010.8 1325.0L1011.1 1256.2L1011.3 1336.6L1011.5 1230.1L1011.8 1347.4L1012.0 1232.0L1012.3 1306.4L1012.5 1246.7L1012.8 1312.8L1013.0 1200.2L1013.3 1313.0L1013.5 1253.4L1013.8 1305.9L1014.0 1215.6L1014.3 1290.3L1014.5 1243.1L1014.7 1338.3L1015.0 1204.0L1015.2 1332.5L1015.5 1201.7L1015.7 1169.0L1016.0 1357.5L1016.2 1330.3L1016.5 1205.7L1016.7 1306.1L1017.0 1195.1L1017.2 1342.7L1017.5 1227.2L1017.7 1307.4L1018.0 1222.5L1018.2 1294.3L1018.4 1206.7L1018.7 1316.1L1018.9 1188.3L1019.2 1333.1L1019.4 1193.2L1019.7 1269.1L1019.9 1168.5L1020.2 1310.7L1020.4 1185.0L1020.7 1305.3L1020.9 1190.9L1021.2 1271.5L1021.4 1198.5L1021.6 1277.9L1021.9 1224.1L1022.1 1347.4L1022.4 1194.1L1022.6 1274.4L1022.9 1192.2L1023.1 1313.1L1023.4 1238.0L1023.6 1268.5L1023.9 1177.1L1024.1 1295.4L1024.4 1192.3L1024.6 1305.1L1024.9 1199.2L1025.1 1314.0L1025.3 1178.7L1025.6 1265.9L1025.8 1170.4L1026.1 1310.3L1026.3 1228.6L1026.6 1285.0L1026.8 1183.3L1027.1 1281.8L1027.3 1191.2L1027.6 1262.6L1027.8 1185.8L1028.1 1298.2L1028.3 1198.7L1028.5 1305.8L1028.8 1177.6L1029.0 1297.5L1029.3 1202.8L1029.5 1316.6L1029.8 1211.8L1030.0 1332.5L1030.3 1217.1L1030.5 1163.7L1030.8 1334.2L1031.0 1272.4L1031.3 1200.8L1031.5 1312.6L1031.8 1181.1L1032.0 1293.5L1032.2 1219.8L1032.5 1294.0L1032.7 1195.4L1033.0 1306.6L1033.2 1217.7L1033.5 1320.1L1033.7 1252.3L1034.0 1318.9L1034.2 1257.8L1034.5 1314.7L1034.7 1259.5L1035.0 1319.1L1035.2 1242.3L1035.5 1288.9L1035.7 1236.5L1035.9 1339.0L1036.2 1271.9L1036.4 1307.6L1036.7 1222.1L1036.9 1292.5L1037.2 1245.1L1037.4 1333.3L1037.7 1255.5L1037.9 1307.6L1038.2 1229.7L1038.4 1356.8L1038.7 1286.3L1038.9 1209.2L1039.1 1368.1L1039.4 1352.3L1039.6 1213.8L1039.9 1348.6L1040.1 1224.7L1040.4 1344.6L1040.6 1220.6L1040.9 1371.0L1041.1 1231.7L1041.4 1327.4L1041.6 1267.3L1041.9 1345.1L1042.1 1256.6L1042.4 1329.5L1042.6 1282.0L1042.8 1311.7L1043.1 1229.4L1043.3 1342.7L1043.6 1286.6L1043.8 1317.1L1044.1 1284.1L1044.3 1360.3L1044.6 1249.4L1044.8 1338.7L1045.1 1209.7L1045.3 1292.8L1045.6 1240.0L1045.8 1342.8L1046.0 1223.3L1046.3 1368.7L1046.5 1239.5L1046.8 1330.8L1047.0 1242.1L1047.3 1327.7L1047.5 1226.2L1047.8 1336.1L1048.0 1256.0L1048.3 1379.9L1048.5 1278.3L1048.8 1326.5L1049.0 1250.4L1049.3 1372.7L1049.5 1223.6L1049.7 1322.8L1050.0 1229.1L1050.2 1319.9L1050.5 1220.4L1050.7 1345.1L1051.0 1249.2L1051.2 1322.0L1051.5 1214.3L1051.7 1313.6L1052.0 1238.2L1052.2 1369.3L1052.5 1257.3L1052.7 1328.8L1052.9 1235.1L1053.2 1349.1L1053.4 1258.9L1053.7 1336.1L1053.9 1242.7L1054.2 1335.6L1054.4 1244.9L1054.7 1378.8L1054.9 1239.7L1055.2 1337.1L1055.4 1237.6L1055.7 1339.7L1055.9 1200.8L1056.2 1395.7L1056.4 1251.4L1056.6 1343.2L1056.9 1275.1L1057.1 1370.8L1057.4 1237.1L1057.6 1377.6L1057.9 1233.1L1058.1 1369.5L1058.4 1231.8L1058.6 1358.2L1058.9 1242.7L1059.1 1346.4L1059.4 1239.2L1059.6 1310.3L1059.9 1276.5L1060.1 1336.9L1060.3 1271.9L1060.6 1378.8L1060.8 1228.4L1061.1 1363.8L1061.3 1224.6L1061.6 1365.6L1061.8 1264.4L1062.1 1351.8L1062.3 1233.9L1062.6 1315.3L1062.8 1244.5L1063.1 1341.3L1063.3 1219.6L1063.5 1347.0L1063.8 1261.6L1064.0 1353.1L1064.3 1250.1L1064.5 1348.1L1064.8 1221.4L1065.0 1348.2L1065.3 1222.0L1065.5 1330.6L1065.8 1265.3L1066.0 1361.5L1066.3 1211.6L1066.5 1200.8L1066.8 1372.4L1067.0 1310.7L1067.2 1263.8L1067.5 1351.0L1067.7 1232.3L1068.0 1364.6L1068.2 1235.0L1068.5 1312.8L1068.7 1247.7L1069.0 1364.0L1069.2 1248.4L1069.5 1332.1L1069.7 1234.9L1070.0 1359.9L1070.2 1214.5L1070.4 1356.4L1070.7 1228.3L1070.9 1355.5L1071.2 1272.7L1071.4 1344.7L1071.7 1269.6L1071.9 1325.3L1072.2 1266.3L1072.4 1367.1L1072.7 1274.6L1072.9 1324.4L1073.2 1254.9L1073.4 1320.1L1073.7 1248.6L1073.9 1329.4L1074.1 1227.4L1074.4 1345.7L1074.6 1228.9L1074.9 1385.2L1075.1 1214.2L1075.4 1364.8L1075.6 1219.8L1075.9 1353.3L1076.1 1255.3L1076.4 1318.4L1076.6 1224.9L1076.9 1359.9L1077.1 1232.3L1077.3 1376.2L1077.6 1218.7L1077.8 1313.0L1078.1 1270.7L1078.3 1358.1L1078.6 1234.7L1078.8 1374.6L1079.1 1235.6L1079.3 1332.8L1079.6 1285.1L1079.8 1353.5L1080.1 1268.9L1080.3 1369.6L1080.6 1267.8L1080.8 1366.9L1081.0 1224.0L1081.3 1202.9L1081.5 1399.9L1081.8 1367.3L1082.0 1231.7L1082.3 1341.5L1082.5 1246.5L1082.8 1335.7L1083.0 1237.8L1083.3 1335.0L1083.5 1260.4L1083.8 1306.4L1084.0 1211.9L1084.2 1347.1L1084.5 1227.6L1084.7 1345.9L1085.0 1226.7L1085.2 1340.6L1085.5 1242.9L1085.7 1335.4L1086.0 1225.9L1086.2 1350.3L1086.5 1208.7L1086.7 1318.8L1087.0 1231.3L1087.2 1316.4L1087.5 1234.3L1087.7 1321.3L1087.9 1243.2L1088.2 1328.5L1088.4 1218.2L1088.7 1300.7L1088.9 1237.7L1089.2 1299.9L1089.4 1236.4L1089.7 1326.2L1089.9 1190.2L1090.2 1334.2L1090.4 1238.1L1090.7 1314.2L1090.9 1242.9L1091.2 1332.6L1091.4 1234.8L1091.6 1316.5L1091.9 1197.3L1092.1 1308.3L1092.4 1202.8L1092.6 1306.1L1092.9 1210.3L1093.1 1297.5L1093.4 1215.7L1093.6 1299.0L1093.9 1203.8L1094.1 1300.0L1094.4 1199.5L1094.6 1293.3L1094.8 1196.2L1095.1 1289.6L1095.3 1172.7L1095.6 1318.6L1095.8 1178.8L1096.1 1306.2L1096.3 1211.7L1096.6 1288.1L1096.8 1188.1L1097.1 1309.5L1097.3 1191.5L1097.6 1289.3L1097.8 1173.5L1098.1 1294.2L1098.3 1162.6L1098.5 1325.8L1098.8 1188.4L1099.0 1283.9L1099.3 1197.3L1099.5 1302.3L1099.8 1195.7L1100.0 1322.1L1100.3 1235.4L1100.5 1303.6L1100.8 1166.3L1101.0 1286.3L1101.3 1200.3L1101.5 1272.2L1101.7 1230.9L1102.0 1297.8L1102.2 1176.7L1102.5 1240.2L1102.7 1219.4L1103.0 1295.8L1103.2 1190.3L1103.5 1279.3L1103.7 1183.5L1104.0 1272.4L1104.2 1176.0L1104.5 1272.9L1104.7 1154.2L1105.0 1313.1L1105.2 1182.3L1105.4 1295.3L1105.7 1185.9L1105.9 1297.4L1106.2 1218.2L1106.4 1293.8L1106.7 1191.2L1106.9 1287.6L1107.2 1167.1L1107.4 1288.8L1107.7 1189.7L1107.9 1301.3L1108.2 1201.7L1108.4 1285.1L1108.6 1163.0L1108.9 1289.8L1109.1 1152.2L1109.4 1296.0L1109.6 1158.8L1109.9 1246.7L1110.1 1185.0L1110.4 1281.4L1110.6 1171.8L1110.9 1295.3L1111.1 1172.8L1111.4 1301.3L1111.6 1166.1L1111.9 1254.0L1112.1 1170.4L1112.3 1277.0L1112.6 1166.8L1112.8 1269.6L1113.1 1140.4L1113.3 1313.1L1113.6 1157.8L1113.8 1250.9L1114.1 1193.7L1114.3 1283.6L1114.6 1203.4L1114.8 1306.3L1115.1 1162.6L1115.3 1275.9L1115.5 1174.4L1115.8 1293.8L1116.0 1174.8L1116.3 1273.8L1116.5 1226.3L1116.8 1255.6L1117.0 1191.3L1117.3 1283.7L1117.5 1197.4L1117.8 1244.2L1118.0 1190.0L1118.3 1309.0L1118.5 1219.2L1118.8 1309.1L1119.0 1184.7L1119.2 1307.3L1119.5 1238.5L1119.7 1286.3L1120.0 1187.2L1120.2 1297.3L1120.5 1209.8L1120.7 1270.7L1121.0 1193.9L1121.2 1302.1L1121.5 1204.1L1121.7 1173.2L1122.0 1340.6L1122.2 1324.7L1122.5 1233.2L1122.7 1309.5L1122.9 1181.7L1123.2 1267.3L1123.4 1200.2L1123.7 1287.6L1123.9 1203.7L1124.2 1304.2L1124.4 1191.2L1124.7 1309.2L1124.9 1190.3L1125.2 1305.6L1125.4 1186.3L1125.7 1283.3L1125.9 1173.5L1126.1 1296.5L1126.4 1187.6L1126.6 1297.5L1126.9 1216.5L1127.1 1300.7L1127.4 1232.1L1127.6 1305.3L1127.9 1200.7L1128.1 1302.3L1128.4 1221.5L1128.6 1294.5L1128.9 1209.8L1129.1 1255.8L1129.4 1189.1L1129.6 1286.5L1129.8 1198.9L1130.1 1154.2L1130.3 1308.8L1130.6 1310.1L1130.8 1176.0L1131.1 1283.2L1131.3 1182.8L1131.6 1299.0L1131.8 1213.9L1132.1 1259.1L1132.3 1201.7L1132.6 1251.0L1132.8 1194.4L1133.0 1281.4L1133.3 1210.0L1133.5 1317.2L1133.8 1234.9L1134.0 1258.7L1134.3 1171.3L1134.5 1258.0L1134.8 1201.8L1135.0 1313.0L1135.3 1203.8L1135.5 1293.8L1135.8 1238.2L1136.0 1274.8L1136.3 1174.8L1136.5 1164.7L1136.7 1330.0L1137.0 1270.0L1137.2 1199.1L1137.5 1265.4L1137.7 1178.2L1138.0 1293.5L1138.2 1237.4L1138.5 1305.7L1138.7 1213.4L1139.0 1281.5L1139.2 1174.1L1139.5 1302.0L1139.7 1190.9L1139.9 1267.3L1140.2 1194.2L1140.4 1302.8L1140.7 1176.7L1140.9 1278.1L1141.2 1200.8L1141.4 1270.6L1141.7 1160.5L1141.9 1288.6L1142.2 1169.2L1142.4 1289.1L1142.7 1154.8L1142.9 1144.6L1143.2 1302.5L1143.4 1282.2L1143.6 1210.0L1143.9 1247.4L1144.1 1192.7L1144.4 1279.2L1144.6 1158.6L1144.9 1271.9L1145.1 1163.4L1145.4 1285.6L1145.6 1170.9L1145.9 1282.4L1146.1 1210.9L1146.4 1282.1L1146.6 1198.8L1146.8 1281.0L1147.1 1182.6L1147.3 1284.6L1147.6 1145.2L1147.8 1285.0L1148.1 1200.8L1148.3 1287.1L1148.6 1209.6L1148.8 1306.2L1149.1 1183.8L1149.3 1284.3L1149.6 1167.1L1149.8 1287.2L1150.1 1194.8L1150.3 1285.2L1150.5 1196.9L1150.8 1288.1L1151.0 1175.6L1151.3 1252.6L1151.5 1231.4L1151.8 1283.3L1152.0 1193.6L1152.3 1276.2L1152.5 1206.3L1152.8 1272.5L1153.0 1189.0L1153.3 1246.5L1153.5 1134.0L1153.8 1334.2L1154.0 1192.7L1154.2 1302.5L1154.5 1160.3L1154.7 1303.7L1155.0 1217.5L1155.2 1304.1L1155.5 1165.3L1155.7 1258.2L1156.0 1193.2L1156.2 1294.0L1156.5 1196.0L1156.7 1307.6L1157.0 1199.2L1157.2 1278.9L1157.4 1170.7L1157.7 1262.5L1157.9 1161.0L1158.2 1304.1L1158.4 1219.5L1158.7 1257.0L1158.9 1163.3L1159.2 1293.1L1159.4 1158.2L1159.7 1139.3L1159.9 1302.5L1160.2 1275.0L1160.4 1157.7L1160.7 1263.8L1160.9 1162.3L1161.1 1279.1L1161.4 1177.9L1161.6 1292.3L1161.9 1187.0L1162.1 1283.7L1162.4 1203.6L1162.6 1274.2L1162.9 1160.3L1163.1 1268.5L1163.4 1181.3L1163.6 1274.7L1163.9 1205.9L1164.1 1281.2L1164.3 1172.9L1164.6 1292.1L1164.8 1210.6L1165.1 1247.3L1165.3 1183.8L1165.6 1303.7L1165.8 1217.6L1166.1 1179.6L1166.3 1313.1L1166.6 1278.2L1166.8 1187.8L1167.1 1287.2L1167.3 1185.6L1167.6 1265.7L1167.8 1183.0L1168.0 1288.7L1168.3 1191.6L1168.5 1287.0L1168.8 1189.6L1169.0 1289.8L1169.3 1199.7L1169.5 1242.3L1169.8 1200.4L1170.0 1266.0L1170.3 1184.2L1170.5 1268.4L1170.8 1186.5L1171.0 1295.2L1171.2 1188.1L1171.5 1270.7L1171.7 1187.6L1172.0 1278.0L1172.2 1178.8L1172.5 1158.4L1172.7 1304.6L1173.0 1256.9L1173.2 1219.2L1173.5 1261.9L1173.7 1167.9L1174.0 1282.5L1174.2 1169.0L1174.5 1284.3L1174.7 1175.3L1174.9 1254.0L1175.2 1188.9L1175.4 1275.0L1175.7 1186.5L1175.9 1237.0L1176.2 1166.8L1176.4 1280.6L1176.7 1207.2L1176.9 1280.6L1177.2 1193.9L1177.4 1238.1L1177.7 1183.7L1177.9 1254.2L1178.1 1172.1L1178.4 1272.4L1178.6 1199.3L1178.9 1261.6L1179.1 1181.3L1179.4 1267.8L1179.6 1198.0L1179.9 1280.3L1180.1 1171.4L1180.4 1273.0L1180.6 1166.0L1180.9 1253.1L1181.1 1199.8L1181.4 1292.1L1181.6 1199.8L1181.8 1296.5L1182.1 1183.0L1182.3 1264.5L1182.6 1198.5L1182.8 1291.2L1183.1 1175.8L1183.3 1264.9L1183.6 1173.1L1183.8 1292.4L1184.1 1201.4L1184.3 1270.4L1184.6 1178.7L1184.8 1284.6L1185.1 1154.2L1185.3 1306.7L1185.5 1210.0L1185.8 1267.6L1186.0 1172.4L1186.3 1294.4L1186.5 1225.5L1186.8 1268.6L1187.0 1202.6L1187.3 1267.6L1187.5 1221.0L1187.8 1288.9L1188.0 1205.2L1188.3 1274.7L1188.5 1182.4L1188.7 1293.0L1189.0 1167.2L1189.2 1283.3L1189.5 1180.6L1189.7 1287.5L1190.0 1165.4L1190.2 1295.5L1190.5 1190.4L1190.7 1268.3L1191.0 1177.3L1191.2 1282.1L1191.5 1234.0L1191.7 1261.2L1192.0 1170.1L1192.2 1290.2L1192.4 1203.9L1192.7 1309.4L1192.9 1180.2L1193.2 1273.5L1193.4 1217.8L1193.7 1263.5L1193.9 1180.9L1194.2 1260.6L1194.4 1194.7L1194.7 1269.7L1194.9 1176.6L1195.2 1280.3L1195.4 1196.7L1195.6 1283.4L1195.9 1234.4L1196.1 1295.6L1196.4 1217.9L1196.6 1288.9L1196.9 1174.2L1197.1 1278.8L1197.4 1186.1L1197.6 1271.2L1197.9 1158.4L1198.1 1321.5L1198.4 1187.5L1198.6 1300.0L1198.9 1168.8L1199.1 1279.5L1199.3 1213.5L1199.6 1280.6L1199.8 1170.8L1200.1 1291.6L1200.3 1168.5L1200.6 1283.7L1200.8 1168.1L1201.1 1276.2L1201.3 1212.3L1201.6 1250.5L1201.8 1188.3L1202.1 1136.1L1202.3 1313.1L1202.5 1239.8L1202.8 1147.4L1203.0 1304.3L1203.3 1205.5L1203.5 1262.0L1203.8 1170.4L1204.0 1276.5L1204.3 1179.3L1204.5 1283.2L1204.8 1191.9L1205.0 1290.0L1205.3 1202.9L1205.5 1281.0L1205.8 1194.7L1206.0 1280.8L1206.2 1175.1L1206.5 1309.4L1206.7 1168.7L1207.0 1328.3L1207.2 1175.2L1207.5 1282.4L1207.7 1170.7L1208.0 1315.4L1208.2 1172.5L1208.5 1158.4L1208.7 1336.4L1209.0 1285.6L1209.2 1213.7L1209.4 1310.0L1209.7 1211.5L1209.9 1294.2L1210.2 1241.9L1210.4 1275.6L1210.7 1207.5L1210.9 1293.8L1211.2 1185.5L1211.4 1281.7L1211.7 1249.0L1211.9 1322.8L1212.2 1206.6L1212.4 1290.7L1212.7 1201.9L1212.9 1307.6L1213.1 1215.3L1213.4 1333.9L1213.6 1233.9L1213.9 1315.2L1214.1 1241.2L1214.4 1323.4L1214.6 1202.2L1214.9 1336.3L1215.1 1235.7L1215.4 1279.3L1215.6 1233.9L1215.9 1294.1L1216.1 1222.1L1216.4 1306.4L1216.6 1237.9L1216.8 1200.8L1217.1 1353.3L1217.3 1300.1L1217.6 1259.1L1217.8 1337.3L1218.1 1236.9L1218.3 1342.0L1218.6 1216.2L1218.8 1343.3L1219.1 1258.3L1219.3 1312.8L1219.6 1228.8L1219.8 1330.7L1220.0 1236.4L1220.3 1341.5L1220.5 1258.9L1220.8 1354.8L1221.0 1259.0L1221.3 1360.1L1221.5 1269.2L1221.8 1350.9L1222.0 1265.8L1222.3 1345.8L1222.5 1252.8L1222.8 1342.2L1223.0 1251.2L1223.3 1236.8L1223.5 1376.6L1223.7 1366.4L1224.0 1265.4L1224.2 1338.3L1224.5 1259.1L1224.7 1358.6L1225.0 1298.6L1225.2 1358.7L1225.5 1252.6L1225.7 1323.7L1226.0 1286.2L1226.2 1359.6L1226.5 1272.7L1226.7 1355.3L1226.9 1251.4L1227.2 1364.8L1227.4 1244.8L1227.7 1328.3L1227.9 1239.0L1228.2 1320.5L1228.4 1254.0L1228.7 1207.1L1228.9 1404.2L1229.2 1358.2L1229.4 1248.6L1229.7 1317.9L1229.9 1217.0L1230.2 1315.2L1230.4 1219.8L1230.6 1342.3L1230.9 1189.2L1231.1 1305.1L1231.4 1176.5L1231.6 1278.7L1231.9 1158.4L1232.1 1334.2L1232.4 1170.0L1232.6 1293.9L1232.9 1176.8L1233.1 1293.0L1233.4 1217.1L1233.6 1302.6L1233.8 1221.9L1234.1 1289.6L1234.3 1172.6L1234.6 1285.1L1234.8 1222.9L1235.1 1285.7L1235.3 1179.5L1235.6 1292.2L1235.8 1176.6L1236.1 1273.4L1236.3 1214.0L1236.6 1274.3L1236.8 1186.8L1237.1 1287.2L1237.3 1180.9L1237.5 1272.9L1237.8 1190.9L1238.0 1272.8L1238.3 1199.3L1238.5 1271.9L1238.8 1183.8L1239.0 1240.0L1239.3 1182.4L1239.5 1282.7L1239.8 1194.4L1240.0 1252.7L1240.3 1164.7L1240.5 1279.2L1240.8 1171.3L1241.0 1267.1L1241.2 1181.7L1241.5 1258.7L1241.7 1192.5L1242.0 1213.5L1242.2 1163.7L1242.5 1223.6L1242.7 1155.8L1243.0 1220.7L1243.2 1148.2L1243.5 1256.8L1243.7 1167.0L1244.0 1233.0L1244.2 1168.8L1244.4 1222.9L1244.7 1142.6L1244.9 1245.7L1245.2 1140.8L1245.4 1259.8L1245.7 1171.0L1245.9 1244.6L1246.2 1137.9L1246.4 1254.1L1246.7 1165.1L1246.9 1219.9L1247.2 1124.5L1247.4 1259.9L1247.7 1116.4L1247.9 1209.4L1248.1 1101.7L1248.4 1206.4L1248.6 1080.0L1248.9 1270.7L1249.1 1096.1L1249.4 1180.8L1249.6 1114.8L1249.9 1235.5L1250.1 1171.2L1250.4 1216.7L1250.6 1129.4L1250.9 1212.2L1251.1 1134.9L1251.3 1248.5L1251.6 1161.2L1251.8 1253.4L1252.1 1117.2L1252.3 1210.7L1252.6 1162.9L1252.8 1244.0L1253.1 1132.6L1253.3 1228.5L1253.6 1153.5L1253.8 1249.6L1254.1 1177.9L1254.3 1212.2L1254.6 1165.2L1254.8 1201.2L1255.0 1140.7L1255.3 1254.5L1255.5 1113.7L1255.8 1248.3L1256.0 1112.2L1256.3 1248.9L1256.5 1153.7L1256.8 1223.0L1257.0 1137.3L1257.3 1101.2L1257.5 1266.4L1257.8 1227.9L1258.0 1117.4L1258.2 1233.8L1258.5 1126.7L1258.7 1229.2L1259.0 1140.5L1259.2 1242.5L1259.5 1114.3L1259.7 1234.3L1260.0 1115.1L1260.2 1242.6L1260.5 1139.7L1260.7 1197.4L1261.0 1121.1L1261.2 1224.9L1261.5 1140.3L1261.7 1246.5L1261.9 1104.8L1262.2 1210.7L1262.4 1131.1L1262.7 1192.8L1262.9 1144.2L1263.2 1245.5L1263.4 1126.5L1263.7 1222.4L1263.9 1141.9L1264.2 1197.7L1264.4 1104.3L1264.7 1092.7L1264.9 1249.5L1265.1 1207.9L1265.4 1122.7L1265.6 1202.5L1265.9 1151.7L1266.1 1190.3L1266.4 1115.5L1266.6 1217.3L1266.9 1133.2L1267.1 1248.0L1267.4 1130.8L1267.6 1236.0L1267.9 1113.9L1268.1 1245.9L1268.4 1112.6L1268.6 1226.1L1268.8 1129.4L1269.1 1227.1L1269.3 1131.5L1269.6 1215.9L1269.8 1143.6L1270.1 1246.4L1270.3 1151.1L1270.6 1222.1L1270.8 1115.8L1271.1 1261.5L1271.3 1122.1L1271.6 1263.6L1271.8 1124.2L1272.1 1219.6L1272.3 1143.1L1272.5 1250.5L1272.8 1119.8L1273.0 1253.2L1273.3 1131.3L1273.5 1238.0L1273.8 1121.7L1274.0 1248.7L1274.3 1109.7L1274.5 1291.9L1274.8 1182.9L1275.0 1294.3L1275.3 1118.0L1275.5 1276.8L1275.7 1128.5L1276.0 1237.4L1276.2 1165.9L1276.5 1284.9L1276.7 1116.4L1277.0 1284.7L1277.2 1154.3L1277.5 1265.4L1277.7 1108.8L1278.0 1271.3L1278.2 1119.7L1278.5 1230.1L1278.7 1111.5L1279.0 1273.4L1279.2 1192.0L1279.4 1241.0L1279.7 1116.7L1279.9 1291.0L1280.2 1168.8L1280.4 1295.3L1280.7 1150.9L1280.9 1253.3L1281.2 1167.4L1281.4 1218.4L1281.7 1089.5L1281.9 1313.1L1282.2 1111.9L1282.4 1232.6L1282.6 1168.6L1282.9 1264.6L1283.1 1165.8L1283.4 1289.0L1283.6 1165.6L1283.9 1281.3L1284.1 1198.8L1284.4 1269.7L1284.6 1123.9L1284.9 1289.1L1285.1 1116.4L1285.4 1257.5L1285.6 1176.5L1285.9 1264.8L1286.1 1180.9L1286.3 1213.9L1286.6 1134.2L1286.8 1228.3L1287.1 1160.0L1287.3 1280.9L1287.6 1165.2L1287.8 1263.3L1288.1 1135.3L1288.3 1281.5L1288.6 1150.6L1288.8 1272.4L1289.1 1113.9L1289.3 1291.9L1289.5 1146.7L1289.8 1263.5L1290.0 1115.1L1290.3 1239.8L1290.5 1173.9L1290.8 1260.9L1291.0 1188.0L1291.3 1274.6L1291.5 1165.0L1291.8 1205.4L1292.0 1132.2L1292.3 1212.2L1292.5 1141.1L1292.8 1269.5L1293.0 1121.4L1293.2 1246.6L1293.5 1126.1L1293.7 1242.1L1294.0 1122.1L1294.2 1253.7L1294.5 1120.9L1294.7 1250.5L1295.0 1125.0L1295.2 1234.3L1295.5 1124.6L1295.7 1258.8L1296.0 1122.2L1296.2 1256.0L1296.4 1127.3L1296.7 1256.5L1296.9 1163.8L1297.2 1217.0L1297.4 1104.4L1297.7 1270.7L1297.9 1119.8L1298.2 1251.4L1298.4 1155.9L1298.7 1262.1L1298.9 1122.4L1299.2 1205.8L1299.4 1119.2L1299.7 1221.1L1299.9 1121.8L1300.1 1242.7L1300.4 1194.1L1300.6 1227.9L1300.9 1153.8L1301.1 1264.4L1301.4 1147.0L1301.6 1263.4L1301.9 1154.2L1302.1 1234.4L1302.4 1138.0L1302.6 1281.6L1302.9 1186.6L1303.1 1234.5L1303.4 1150.3L1303.6 1256.9L1303.8 1180.0L1304.1 1240.2L1304.3 1198.0L1304.6 1285.7L1304.8 1193.0L1305.1 1219.4L1305.3 1158.7L1305.6 1261.2L1305.8 1124.5L1306.1 1302.5L1306.3 1143.8L1306.6 1229.3L1306.8 1175.7L1307.0 1227.5L1307.3 1146.3L1307.5 1231.6L1307.8 1173.4L1308.0 1249.1L1308.3 1145.7L1308.5 1265.3L1308.8 1152.6L1309.0 1247.2L1309.3 1139.6L1309.5 1248.8L1309.8 1166.7L1310.0 1234.7L1310.3 1135.5L1310.5 1231.0L1310.7 1191.4L1311.0 1254.6L1311.2 1136.2L1311.5 1251.9L1311.7 1168.3L1312.0 1214.0L1312.2 1111.3L1312.5 1232.2L1312.7 1135.2L1313.0 1224.6L1313.2 1115.8L1313.5 1229.3L1313.7 1142.5L1313.9 1195.2L1314.2 1128.1L1314.4 1099.1L1314.7 1253.7L1314.9 1203.8L1315.2 1112.8L1315.4 1235.6L1315.7 1125.9L1315.9 1201.1L1316.2 1144.9L1316.4 1210.0L1316.7 1144.7L1316.9 1228.5L1317.2 1152.2L1317.4 1227.2L1317.6 1120.9L1317.9 1238.5L1318.1 1119.9L1318.4 1205.3L1318.6 1140.2L1318.9 1227.3L1319.1 1113.2L1319.4 1208.7L1319.6 1143.5L1319.9 1208.5L1320.1 1097.9L1320.4 1211.8L1320.6 1110.0L1320.8 1190.8L1321.1 1111.9L1321.3 1196.1L1321.6 1119.6L1321.8 1216.7L1322.1 1116.8L1322.3 1211.0L1322.6 1097.0L1322.8 1082.1L1323.1 1224.1L1323.3 1188.9L1323.6 1122.5L1323.8 1179.4L1324.1 1152.3L1324.3 1211.3L1324.5 1113.6L1324.8 1218.3L1325.0 1088.1L1325.3 1272.5L1325.5 1124.6L1325.8 1208.8L1326.0 1106.6L1326.3 1264.0L1326.5 1113.1L1326.8 1248.9L1327.0 1127.9L1327.3 1212.5L1327.5 1114.1L1327.7 1217.0L1328.0 1101.6L1328.2 1215.4L1328.5 1176.8L1328.7 1236.8L1329.0 1120.1L1329.2 1239.4L1329.5 1087.7L1329.7 1250.3L1330.0 1139.0L1330.2 1267.1L1330.5 1142.8L1330.7 1250.3L1331.0 1126.0L1331.2 1198.2L1331.4 1098.1L1331.7 1229.7L1331.9 1108.5L1332.2 1266.9L1332.4 1078.6L1332.7 1293.6L1332.9 1144.3L1333.2 1265.8L1333.4 1171.3L1333.7 1275.0L1333.9 1086.7L1334.2 1240.8L1334.4 1138.9L1334.7 1224.3L1334.9 1125.5L1335.1 1289.1L1335.4 1134.0L1335.6 1260.3L1335.9 1121.9L1336.1 1262.2L1336.4 1125.1L1336.6 1282.9L1336.9 1180.3L1337.1 1236.4L1337.4 1138.2L1337.6 1107.2L1337.9 1295.8L1338.1 1229.3L1338.3 1190.9L1338.6 1228.2L1338.8 1124.1L1339.1 1280.8L1339.3 1151.9L1339.6 1286.6L1339.8 1151.0L1340.1 1225.5L1340.3 1165.2L1340.6 1282.8L1340.8 1193.8L1341.1 1240.2L1341.3 1123.5L1341.6 1260.1L1341.8 1127.7L1342.0 1288.1L1342.3 1123.7L1342.5 1296.9L1342.8 1127.0L1343.0 1259.3L1343.3 1164.9L1343.5 1277.9L1343.8 1126.3L1344.0 1276.9L1344.3 1172.7L1344.5 1288.5L1344.8 1147.1L1345.0 1265.5L1345.2 1152.7L1345.5 1283.1L1345.7 1172.8L1346.0 1281.2L1346.2 1163.2L1346.5 1288.5L1346.7 1143.2L1347.0 1294.7L1347.2 1145.6L1347.5 1244.9L1347.7 1146.1L1348.0 1290.1L1348.2 1117.8L1348.5 1308.5L1348.7 1145.6L1348.9 1247.3L1349.2 1163.8L1349.4 1299.1L1349.7 1172.6L1349.9 1293.6L1350.2 1176.3L1350.4 1292.7L1350.7 1138.7L1350.9 1229.6L1351.2 1128.7L1351.4 1277.6L1351.7 1145.4L1351.9 1269.6L1352.1 1187.6L1352.4 1253.5L1352.6 1163.6L1352.9 1265.8L1353.1 1153.3L1353.4 1289.1L1353.6 1138.0L1353.9 1263.7L1354.1 1148.6L1354.4 1280.7L1354.6 1181.5L1354.9 1280.7L1355.1 1185.5L1355.4 1284.5L1355.6 1137.3L1355.8 1243.7L1356.1 1132.8L1356.3 1255.8L1356.6 1175.5L1356.8 1284.6L1357.1 1132.1L1357.3 1259.2L1357.6 1164.2L1357.8 1237.9L1358.1 1134.1L1358.3 1232.9L1358.6 1132.2L1358.8 1280.7L1359.0 1148.9L1359.3 1266.4L1359.5 1164.6L1359.8 1274.9L1360.0 1117.8L1360.3 1304.2L1360.5 1152.9L1360.8 1266.4L1361.0 1137.1L1361.3 1286.4L1361.5 1181.6L1361.8 1297.6L1362.0 1182.0L1362.3 1268.4L1362.5 1195.6L1362.7 1280.9L1363.0 1225.5L1363.2 1293.8L1363.5 1172.4L1363.7 1277.8L1364.0 1168.1L1364.2 1320.3L1364.5 1228.0L1364.7 1256.6L1365.0 1166.4L1365.2 1155.9L1365.5 1333.9L1365.7 1267.3L1366.0 1201.2L1366.2 1301.0L1366.4 1203.0L1366.7 1321.7L1366.9 1182.7L1367.2 1332.5L1367.4 1182.3L1367.7 1316.5L1367.9 1171.7L1368.2 1311.7L1368.4 1189.3L1368.7 1297.9L1368.9 1170.1L1369.2 1293.2L1369.4 1163.5L1369.6 1323.8L1369.9 1166.1L1370.1 1329.2L1370.4 1165.5L1370.6 1324.8L1370.9 1162.3L1371.1 1311.4L1371.4 1163.2L1371.6 1312.9L1371.9 1151.2L1372.1 1306.9L1372.4 1175.7L1372.6 1312.6L1372.9 1194.8L1373.1 1285.1L1373.3 1146.9L1373.6 1293.8L1373.8 1229.4L1374.1 1275.0L1374.3 1166.8L1374.6 1288.0L1374.8 1238.9L1375.1 1314.3L1375.3 1189.2L1375.6 1313.4L1375.8 1141.1L1376.1 1359.3L1376.3 1155.5L1376.5 1333.6L1376.8 1152.9L1377.0 1262.1L1377.3 1160.8L1377.5 1315.3L1377.8 1170.2L1378.0 1238.9L1378.3 1219.7L1378.5 1286.5L1378.8 1183.7L1379.0 1274.2L1379.3 1158.5L1379.5 1263.6L1379.8 1195.2L1380.0 1271.1L1380.2 1148.7L1380.5 1249.7L1380.7 1166.7L1381.0 1269.5L1381.2 1130.5L1381.5 1287.3L1381.7 1168.2L1382.0 1241.5L1382.2 1161.1L1382.5 1257.0L1382.7 1152.5L1383.0 1252.0L1383.2 1125.7L1383.4 1228.1L1383.7 1153.4L1383.9 1239.7L1384.2 1144.0L1384.4 1258.1L1384.7 1116.5L1384.9 1230.5L1385.2 1162.8L1385.4 1207.6L1385.7 1106.2L1385.9 1270.4L1386.2 1141.4L1386.4 1241.9L1386.7 1116.8L1386.9 1220.2L1387.1 1162.4L1387.4 1236.7L1387.6 1128.8L1387.9 1191.2L1388.1 1093.9L1388.4 1222.8L1388.6 1094.2L1388.9 1176.5L1389.1 1118.4L1389.4 1203.1L1389.6 1064.8L1389.9 1261.9L1390.1 1114.4L1390.3 1210.3L1390.6 1139.0L1390.8 1194.5L1391.1 1135.1L1391.3 1219.9L1391.6 1161.7L1391.8 1251.6L1392.1 1185.8L1392.3 1246.4L1392.6 1149.6L1392.8 1132.6L1393.1 1287.3L1393.3 1251.2L1393.6 1163.6L1393.8 1267.3L1394.0 1169.3L1394.3 1251.0L1394.5 1150.4L1394.8 1236.0L1395.0 1163.1L1395.3 1266.1L1395.5 1159.6L1395.8 1243.8L1396.0 1138.1L1396.3 1209.0L1396.5 1171.0L1396.8 1239.5L1397.0 1177.9L1397.3 1263.6L1397.5 1166.1L1397.7 1258.9L1398.0 1145.3L1398.2 1253.1L1398.5 1181.6L1398.7 1255.3L1399.0 1168.4L1399.2 1217.2L1399.5 1161.9L1399.7 1255.3L1400.0 1168.2L1400.2 1253.1L1400.5 1181.7L1400.7 1245.5L1400.9 1182.1L1401.2 1201.4L1401.4 1184.4L1401.7 1210.7L1401.9 1141.0L1402.2 1229.6L1402.4 1160.9L1402.7 1212.2L1402.9 1144.0L1403.2 1228.5L1403.4 1130.5L1403.7 1255.5L1403.9 1158.5L1404.2 1207.3L1404.4 1154.7L1404.6 1215.1L1404.9 1179.7L1405.1 1231.0L1405.4 1135.1L1405.6 1205.5L1405.9 1170.9L1406.1 1188.6L1406.4 1135.8L1406.6 1220.0L1406.9 1127.5L1407.1 1201.5L1407.4 1170.2L1407.6 1237.6L1407.8 1159.1L1408.1 1210.3L1408.3 1119.2L1408.6 1215.3L1408.8 1128.2L1409.1 1206.9L1409.3 1114.4L1409.6 1194.5L1409.8 1152.1L1410.1 1218.7L1410.3 1131.9L1410.6 1185.6L1410.8 1116.4L1411.1 1242.4L1411.3 1114.9L1411.5 1196.4L1411.8 1117.2L1412.0 1188.6L1412.3 1131.0L1412.5 1231.7L1412.8 1118.9L1413.0 1195.2L1413.3 1114.2L1413.5 1229.4L1413.8 1120.0L1414.0 1225.7L1414.3 1111.0L1414.5 1218.4L1414.7 1129.8L1415.0 1197.0L1415.2 1115.9L1415.5 1215.8L1415.7 1080.4L1416.0 1073.3L1416.2 1236.4L1416.5 1221.8L1416.7 1118.6L1417.0 1217.8L1417.2 1100.8L1417.5 1209.3L1417.7 1132.6L1418.0 1186.2L1418.2 1112.5L1418.4 1213.6L1418.7 1106.4L1418.9 1214.9L1419.2 1104.4L1419.4 1193.1L1419.7 1143.8L1419.9 1199.8L1420.2 1119.8L1420.4 1212.6L1420.7 1153.2L1420.9 1179.9L1421.2 1149.8L1421.4 1216.2L1421.7 1137.3L1421.9 1214.8L1422.1 1142.9L1422.4 1117.8L1422.6 1238.6L1422.9 1223.1L1423.1 1132.8L1423.4 1219.4L1423.6 1157.9L1423.9 1225.8L1424.1 1138.5L1424.4 1193.5L1424.6 1142.9L1424.9 1212.0L1425.1 1150.9L1425.3 1208.8L1425.6 1120.6L1425.8 1185.1L1426.1 1124.2L1426.3 1215.1L1426.6 1134.3L1426.8 1194.3L1427.1 1129.8L1427.3 1195.7L1427.6 1136.7L1427.8 1187.9L1428.1 1131.0L1428.3 1207.2L1428.6 1135.5L1428.8 1115.7L1429.0 1223.7L1429.3 1207.2L1429.5 1132.7L1429.8 1206.0L1430.0 1122.7L1430.3 1201.0L1430.5 1168.3L1430.8 1201.0L1431.0 1145.0L1431.3 1207.5L1431.5 1144.1L1431.8 1221.6L1432.0 1126.4L1432.2 1213.2L1432.5 1136.4L1432.7 1251.5L1433.0 1154.1L1433.2 1249.1L1433.5 1132.3L1433.7 1221.5L1434.0 1166.7L1434.2 1224.1L1434.5 1136.4L1434.7 1242.4L1435.0 1149.7L1435.2 1228.6L1435.5 1121.5L1435.7 1277.1L1435.9 1180.5L1436.2 1228.1L1436.4 1124.2L1436.7 1278.2L1436.9 1132.1L1437.2 1109.3L1437.4 1304.2L1437.7 1286.6L1437.9 1150.1L1438.2 1299.4L1438.4 1170.3L1438.7 1272.4L1438.9 1124.2L1439.1 1224.5L1439.4 1152.0L1439.6 1229.0L1439.9 1146.2L1440.1 1229.3L1440.4 1125.9L1440.6 1248.0L1440.9 1145.6L1441.1 1266.8L1441.4 1137.9L1441.6 1248.5L1441.9 1159.9L1442.1 1265.3L1442.4 1155.2L1442.6 1227.2L1442.8 1145.6L1443.1 1264.3L1443.3 1180.3L1443.6 1217.2L1443.8 1148.0L1444.1 1227.1L1444.3 1132.9L1444.6 1255.5L1444.8 1166.5L1445.1 1232.3L1445.3 1164.3L1445.6 1222.2L1445.8 1130.5L1446.0 1241.4L1446.3 1168.2L1446.5 1251.5L1446.8 1128.4L1447.0 1268.2L1447.3 1179.5L1447.5 1269.5L1447.8 1162.5L1448.0 1233.5L1448.3 1124.5L1448.5 1252.9L1448.8 1142.9L1449.0 1247.9L1449.3 1143.3L1449.5 1226.3L1449.7 1172.1L1450.0 1229.2L1450.2 1132.5L1450.5 1227.4L1450.7 1166.3L1451.0 1263.7L1451.2 1116.9L1451.5 1231.8L1451.7 1119.6L1452.0 1244.6L1452.2 1168.7L1452.5 1274.3L1452.7 1116.0L1453.0 1268.8L1453.2 1125.6L1453.4 1242.3L1453.7 1170.5L1453.9 1277.1L1454.2 1171.8L1454.4 1266.0L1454.7 1107.1L1454.9 1282.7L1455.2 1152.2L1455.4 1250.9L1455.7 1109.6L1455.9 1224.0L1456.2 1176.5L1456.4 1085.0L1456.6 1300.0L1456.9 1250.4L1457.1 1103.0L1457.4 1267.5L1457.6 1144.3L1457.9 1252.7L1458.1 1105.3L1458.4 1224.7L1458.6 1108.0L1458.9 1248.2L1459.1 1131.4L1459.4 1253.5L1459.6 1136.5L1459.9 1263.0L1460.1 1147.1L1460.3 1231.5L1460.6 1167.5L1460.8 1259.5L1461.1 1155.6L1461.3 1199.7L1461.6 1106.8L1461.8 1241.8L1462.1 1139.0L1462.3 1246.1L1462.6 1115.2L1462.8 1247.2L1463.1 1132.4L1463.3 1212.1L1463.5 1143.9L1463.8 1235.8L1464.0 1130.1L1464.3 1261.7L1464.5 1139.7L1464.8 1255.3L1465.0 1111.5L1465.3 1251.2L1465.5 1159.3L1465.8 1234.7L1466.0 1136.9L1466.3 1208.7L1466.5 1118.5L1466.8 1191.1L1467.0 1103.0L1467.2 1261.9L1467.5 1133.9L1467.7 1206.2L1468.0 1125.5L1468.2 1246.4L1468.5 1151.8L1468.7 1192.4L1469.0 1159.4L1469.2 1234.2L1469.5 1107.5L1469.7 1192.0L1470.0 1120.0L1470.2 1226.5L1470.4 1133.3L1470.7 1248.4L1470.9 1151.2L1471.2 1222.3L1471.4 1126.6L1471.7 1196.3L1471.9 1109.8L1472.2 1233.2L1472.4 1139.2L1472.7 1204.6L1472.9 1163.0L1473.2 1245.4L1473.4 1107.4L1473.7 1233.3L1473.9 1141.7L1474.1 1203.9L1474.4 1128.5L1474.6 1209.7L1474.9 1153.1L1475.1 1202.1L1475.4 1134.1L1475.6 1197.2L1475.9 1145.2L1476.1 1249.4L1476.4 1085.0L1476.6 1261.9L1476.9 1139.0L1477.1 1251.5L1477.3 1107.1L1477.6 1227.5L1477.8 1158.1L1478.1 1208.9L1478.3 1141.3L1478.6 1242.7L1478.8 1108.5L1479.1 1239.8L1479.3 1120.6L1479.6 1247.3L1479.8 1115.4L1480.1 1202.8L1480.3 1140.6L1480.6 1227.9L1480.8 1111.6L1481.0 1233.3L1481.3 1168.1L1481.5 1194.8L1481.8 1103.6L1482.0 1230.8L1482.3 1127.6L1482.5 1231.4L1482.8 1104.3L1483.0 1198.4L1483.3 1108.3L1483.5 1204.3L1483.8 1149.6L1484.0 1095.6L1484.3 1266.1L1484.5 1244.9L1484.7 1122.5L1485.0 1207.5L1485.2 1127.2L1485.5 1246.4L1485.7 1159.6L1486.0 1258.7L1486.2 1155.7L1486.5 1257.6L1486.7 1120.2L1487.0 1261.9L1487.2 1131.3L1487.5 1210.4L1487.7 1152.1L1487.9 1233.9L1488.2 1131.5L1488.4 1235.3L1488.7 1144.7L1488.9 1267.4L1489.2 1170.2L1489.4 1271.9L1489.7 1132.5L1489.9 1232.8L1490.2 1122.0L1490.4 1289.4L1490.7 1162.9L1490.9 1269.2L1491.2 1160.3L1491.4 1271.8L1491.6 1153.0L1491.9 1264.9L1492.1 1191.6L1492.4 1247.3L1492.6 1142.4L1492.9 1263.0L1493.1 1143.8L1493.4 1261.5L1493.6 1170.4L1493.9 1275.6L1494.1 1170.0L1494.4 1263.6L1494.6 1149.1L1494.8 1231.1L1495.1 1188.4L1495.3 1272.9L1495.6 1187.2L1495.8 1265.9L1496.1 1171.4L1496.3 1256.6L1496.6 1147.5L1496.8 1283.1L1497.1 1166.4L1497.3 1225.0L1497.6 1170.3L1497.8 1247.6L1498.1 1177.4L1498.3 1265.4L1498.5 1176.5L1498.8 1263.9L1499.0 1191.0L1499.3 1266.9L1499.5 1180.8L1499.8 1260.4L1500.0 1190.5L1500.3 1251.2L1500.5 1171.6L1500.8 1234.9L1501.0 1201.1L1501.3 1274.5L1501.5 1180.2L1501.7 1261.6L1502.0 1187.3L1502.2 1275.6L1502.5 1209.8L1502.7 1244.5L1503.0 1180.5L1503.2 1258.6L1503.5 1219.6L1503.7 1285.2L1504.0 1204.7L1504.2 1263.3L1504.5 1210.2L1504.7 1285.2L1505.0 1221.5L1505.2 1172.9L1505.4 1293.6L1505.7 1284.9L1505.9 1188.4L1506.2 1284.3L1506.4 1210.8L1506.7 1273.5L1506.9 1207.7L1507.2 1282.7L1507.4 1197.3L1507.7 1297.8L1507.9 1187.5L1508.2 1263.1L1508.4 1233.4L1508.6 1265.7L1508.9 1213.7L1509.1 1310.5L1509.4 1206.0L1509.6 1283.7L1509.9 1208.5L1510.1 1319.3L1510.4 1231.6L1510.6 1287.8L1510.9 1201.2L1511.1 1277.9L1511.4 1210.3L1511.6 1302.9L1511.9 1224.8L1512.1 1318.3L1512.3 1197.1L1512.6 1324.4L1512.8 1228.2L1513.1 1290.1L1513.3 1215.0L1513.6 1313.5L1513.8 1210.8L1514.1 1353.0L1514.3 1192.9L1514.6 1334.8L1514.8 1192.4L1515.1 1313.9L1515.3 1257.9L1515.6 1364.2L1515.8 1181.4L1516.0 1384.7L1516.3 1201.3L1516.5 1369.4L1516.8 1211.1L1517.0 1340.5L1517.3 1183.3L1517.5 1361.5L1517.8 1201.4L1518.0 1340.0L1518.3 1201.4L1518.5 1347.9L1518.8 1210.1L1519.0 1365.1L1519.2 1225.9L1519.5 1329.2L1519.7 1221.7L1520.0 1360.0L1520.2 1224.8L1520.5 1337.6L1520.7 1204.6L1521.0 1372.4L1521.2 1226.5L1521.5 1362.4L1521.7 1191.1L1522.0 1177.1L1522.2 1386.9L1522.5 1285.4L1522.7 1216.0L1522.9 1341.0L1523.2 1211.1L1523.4 1326.3L1523.7 1179.4L1523.9 1280.6L1524.2 1172.9L1524.4 1325.4L1524.7 1203.9L1524.9 1278.7L1525.2 1227.4L1525.4 1290.7L1525.7 1223.4L1525.9 1275.3L1526.1 1210.1L1526.4 1304.2L1526.6 1224.0L1526.9 1314.7L1527.1 1217.0L1527.4 1273.6L1527.6 1205.3L1527.9 1276.0L1528.1 1181.8L1528.4 1306.3L1528.6 1185.6L1528.9 1314.0L1529.1 1231.8L1529.4 1276.4L1529.6 1244.8L1529.8 1282.9L1530.1 1232.2L1530.3 1325.4L1530.6 1169.7L1530.8 1325.4L1531.1 1221.7L1531.3 1296.5L1531.6 1204.4L1531.8 1309.7L1532.1 1187.9L1532.3 1291.6L1532.6 1213.8L1532.8 1261.6L1533.0 1224.6L1533.3 1270.2L1533.5 1179.4L1533.8 1309.8L1534.0 1210.8L1534.3 1276.4L1534.5 1213.0L1534.8 1287.6L1535.0 1177.9L1535.3 1266.7L1535.5 1188.9L1535.8 1310.1L1536.0 1203.8L1536.3 1304.8L1536.5 1215.6L1536.7 1259.8L1537.0 1206.0L1537.2 1269.5L1537.5 1179.2L1537.7 1266.5L1538.0 1208.7L1538.2 1280.2L1538.5 1188.5L1538.7 1297.8L1539.0 1169.8L1539.2 1279.5L1539.5 1198.8L1539.7 1278.1L1539.9 1197.7L1540.2 1296.2L1540.4 1182.7L1540.7 1283.8L1540.9 1177.0L1541.2 1158.1L1541.4 1314.8L1541.7 1310.5L1541.9 1213.5L1542.2 1272.6L1542.4 1190.2L1542.7 1277.1L1542.9 1185.4L1543.2 1303.5L1543.4 1253.0L1543.6 1273.1L1543.9 1240.5L1544.1 1341.4L1544.4 1210.7L1544.6 1327.9L1544.9 1192.2L1545.1 1300.0L1545.4 1206.2L1545.6 1320.4L1545.9 1265.9L1546.1 1306.8L1546.4 1193.3L1546.6 1342.8L1546.9 1191.1L1547.1 1289.5L1547.3 1177.1L1547.6 1397.5L1547.8 1229.6L1548.1 1333.4L1548.3 1212.2L1548.6 1347.5L1548.8 1196.0L1549.1 1329.7L1549.3 1212.3L1549.6 1297.3L1549.8 1204.1L1550.1 1338.1L1550.3 1221.4L1550.5 1311.9L1550.8 1240.8L1551.0 1344.6L1551.3 1219.0L1551.5 1315.9L1551.8 1237.4L1552.0 1355.0L1552.3 1182.7L1552.5 1332.7L1552.8 1199.0L1553.0 1345.2L1553.3 1181.3L1553.5 1294.3L1553.8 1163.7L1554.0 1327.3L1554.2 1195.7L1554.5 1329.4L1554.7 1197.0L1555.0 1315.3L1555.2 1194.9L1555.5 1270.8L1555.7 1169.7L1556.0 1322.2L1556.2 1218.4L1556.5 1304.2L1556.7 1243.8L1557.0 1308.5L1557.2 1200.0L1557.4 1316.2L1557.7 1221.0L1557.9 1150.6L1558.2 1346.6L1558.4 1259.4L1558.7 1200.8L1558.9 1307.7L1559.2 1236.5L1559.4 1305.0L1559.7 1243.0L1559.9 1335.9L1560.2 1190.5L1560.4 1313.5L1560.7 1199.8L1560.9 1310.4L1561.1 1224.9L1561.4 1260.8L1561.6 1188.7L1561.9 1301.2L1562.1 1201.2L1562.4 1280.7L1562.6 1201.2L1562.9 1331.6L1563.1 1238.8L1563.4 1334.7L1563.6 1201.5L1563.9 1280.5L1564.1 1246.6L1564.3 1316.3L1564.6 1213.3L1564.8 1307.6L1565.1 1194.5L1565.3 1340.7L1565.6 1200.6L1565.8 1346.8L1566.1 1210.6L1566.3 1331.7L1566.6 1183.5L1566.8 1361.4L1567.1 1196.2L1567.3 1302.4L1567.6 1233.9L1567.8 1305.8L1568.0 1204.3L1568.3 1343.8L1568.5 1229.4L1568.8 1344.9L1569.0 1267.5L1569.3 1350.2L1569.5 1267.8L1569.8 1336.6L1570.0 1271.6L1570.3 1374.8L1570.5 1224.1L1570.8 1198.3L1571.0 1399.6L1571.2 1370.3L1571.5 1238.0L1571.7 1373.2L1572.0 1240.3L1572.2 1337.8L1572.5 1220.4L1572.7 1340.0L1573.0 1224.6L1573.2 1312.8L1573.5 1235.5L1573.7 1360.5L1574.0 1245.6L1574.2 1368.9L1574.5 1209.6L1574.7 1292.9L1574.9 1209.8L1575.2 1364.1L1575.4 1210.1L1575.7 1346.7L1575.9 1219.2L1576.2 1370.9L1576.4 1204.1L1576.7 1315.9L1576.9 1255.2L1577.2 1307.9L1577.4 1243.9L1577.7 1332.8L1577.9 1268.9L1578.2 1299.4L1578.4 1199.7L1578.6 1321.7L1578.9 1200.9L1579.1 1185.6L1579.4 1355.1L1579.6 1342.8L1579.9 1204.8L1580.1 1340.9L1580.4 1210.8L1580.6 1324.4L1580.9 1211.7L1581.1 1350.8L1581.4 1218.6L1581.6 1297.8L1581.8 1266.7L1582.1 1324.2L1582.3 1249.2L1582.6 1347.1L1582.8 1215.4L1583.1 1348.4L1583.3 1244.1L1583.6 1344.9L1583.8 1258.6L1584.1 1314.5L1584.3 1218.6L1584.6 1322.3L1584.8 1249.9L1585.1 1354.0L1585.3 1269.7L1585.5 1318.3L1585.8 1276.5L1586.0 1358.7L1586.3 1231.8L1586.5 1334.3L1586.8 1234.4L1587.0 1371.3L1587.3 1279.4L1587.5 1345.4L1587.8 1243.7L1588.0 1357.5L1588.3 1278.8L1588.5 1362.7L1588.7 1272.8L1589.0 1374.8L1589.2 1252.5L1589.5 1362.9L1589.7 1250.5L1590.0 1330.7L1590.2 1255.4L1590.5 1393.7L1590.7 1264.9L1591.0 1403.2L1591.2 1308.9L1591.5 1370.8L1591.7 1262.8L1592.0 1242.8L1592.2 1410.2L1592.4 1377.3L1592.7 1253.1L1592.9 1371.5L1593.2 1282.9L1593.4 1383.1L1593.7 1295.3L1593.9 1383.0L1594.2 1275.4L1594.4 1339.6L1594.7 1280.2L1594.9 1384.2L1595.2 1300.5L1595.4 1373.6L1595.6 1252.3L1595.9 1332.6L1596.1 1263.5L1596.4 1401.4L1596.6 1284.2L1596.9 1329.5L1597.1 1259.7L1597.4 1350.2L1597.6 1257.6L1597.9 1326.8L1598.1 1314.9L1598.4 1344.4L1598.6 1264.7L1598.9 1382.7L1599.1 1253.6L1599.3 1385.6L1599.6 1239.9L1599.8 1369.0L1600.1 1298.8L1600.3 1348.2L1600.6 1248.4L1600.8 1381.5L1601.1 1255.0L1601.3 1372.4L1601.6 1239.9L1601.8 1337.7L1602.1 1260.3L1602.3 1335.4L1602.6 1232.2L1602.8 1397.5L1603.0 1277.3L1603.3 1371.9L1603.5 1243.4L1603.8 1399.7L1604.0 1275.2L1604.3 1388.8L1604.5 1243.6L1604.8 1373.4L1605.0 1315.1L1605.3 1364.5L1605.5 1253.8L1605.8 1326.6L1606.0 1262.8L1606.2 1359.4L1606.5 1255.1L1606.7 1361.3L1607.0 1241.8L1607.2 1356.7L1607.5 1307.1L1607.7 1350.9L1608.0 1256.3L1608.2 1374.2L1608.5 1263.5L1608.7 1361.8L1609.0 1276.8L1609.2 1380.1L1609.5 1306.5L1609.7 1385.9L1609.9 1251.5L1610.2 1409.7L1610.4 1312.8L1610.7 1389.5L1610.9 1286.9L1611.2 1412.1L1611.4 1263.6L1611.7 1368.7L1611.9 1282.4L1612.2 1418.5L1612.4 1253.0L1612.7 1401.8L1612.9 1310.7L1613.1 1416.4L1613.4 1319.2L1613.6 1395.3L1613.9 1252.9L1614.1 1372.7L1614.4 1285.3L1614.6 1417.7L1614.9 1245.9L1615.1 1367.7L1615.4 1284.4L1615.6 1351.8L1615.9 1251.7L1616.1 1411.0L1616.4 1262.8L1616.6 1412.2L1616.8 1287.0L1617.1 1374.8L1617.3 1225.8L1617.6 1452.5L1617.8 1303.8L1618.1 1412.1L1618.3 1248.4L1618.6 1378.4L1618.8 1253.9L1619.1 1384.9L1619.3 1273.5L1619.6 1436.5L1619.8 1264.0L1620.0 1432.2L1620.3 1312.5L1620.5 1397.2L1620.8 1258.5L1621.0 1437.8L1621.3 1240.6L1621.5 1423.5L1621.8 1318.4L1622.0 1414.9L1622.3 1264.8L1622.5 1362.3L1622.8 1315.4L1623.0 1360.2L1623.3 1272.9L1623.5 1401.9L1623.7 1277.1L1624.0 1430.1L1624.2 1320.6L1624.5 1390.0L1624.7 1311.4L1625.0 1437.4L1625.2 1299.9L1625.5 1443.8L1625.7 1330.6L1626.0 1420.6L1626.2 1296.3L1626.5 1444.4L1626.7 1277.1L1626.9 1438.5L1627.2 1290.6L1627.4 1389.2L1627.7 1321.9L1627.9 1383.1L1628.2 1284.0L1628.4 1411.7L1628.7 1306.3L1628.9 1439.1L1629.2 1334.3L1629.4 1422.2L1629.7 1276.2L1629.9 1363.2L1630.2 1253.4L1630.4 1463.1L1630.6 1318.0L1630.9 1432.7L1631.1 1323.2L1631.4 1446.5L1631.6 1288.7L1631.9 1409.9L1632.1 1289.2L1632.4 1462.8L1632.6 1280.5L1632.9 1454.4L1633.1 1295.4L1633.4 1435.3L1633.6 1353.4L1633.9 1403.1L1634.1 1343.4L1634.3 1404.7L1634.6 1270.7L1634.8 1450.4L1635.1 1312.3L1635.3 1415.2L1635.6 1301.5L1635.8 1390.0L1636.1 1317.1L1636.3 1459.2L1636.6 1329.9L1636.8 1459.9L1637.1 1335.5L1637.3 1474.3L1637.5 1338.6L1637.8 1446.3L1638.0 1328.1L1638.3 1452.6L1638.5 1294.3L1638.8 1411.2L1639.0 1281.6L1639.3 1404.0L1639.5 1281.6L1639.8 1459.8L1640.0 1363.4L1640.3 1468.4L1640.5 1314.2L1640.8 1448.9L1641.0 1293.1L1641.2 1444.0L1641.5 1278.9L1641.7 1411.2L1642.0 1340.4L1642.2 1466.5L1642.5 1322.3L1642.7 1440.0L1643.0 1299.5L1643.2 1454.9L1643.5 1290.8L1643.7 1390.0L1644.0 1271.4L1644.2 1452.4L1644.4 1296.9L1644.7 1383.5L1644.9 1329.4L1645.2 1469.2L1645.4 1299.2L1645.7 1387.1L1645.9 1306.7L1646.2 1472.9L1646.4 1294.7L1646.7 1451.3L1646.9 1254.4L1647.2 1494.9L1647.4 1344.0L1647.7 1434.0L1647.9 1345.7L1648.1 1491.3L1648.4 1320.2L1648.6 1423.6L1648.9 1290.6L1649.1 1474.2L1649.4 1288.5L1649.6 1435.1L1649.9 1333.0L1650.1 1463.2L1650.4 1310.5L1650.6 1415.8L1650.9 1272.1L1651.1 1469.9L1651.3 1292.9L1651.6 1451.8L1651.8 1280.7L1652.1 1418.8L1652.3 1344.0L1652.6 1450.8L1652.8 1349.6L1653.1 1400.9L1653.3 1343.4L1653.6 1388.4L1653.8 1343.9L1654.1 1418.6L1654.3 1284.3L1654.6 1390.2L1654.8 1305.5L1655.0 1452.7L1655.3 1301.8L1655.5 1274.6L1655.8 1473.7L1656.0 1448.6L1656.3 1347.0L1656.5 1423.3L1656.8 1373.2L1657.0 1451.5L1657.3 1311.7L1657.5 1454.2L1657.8 1304.1L1658.0 1484.7L1658.2 1304.9L1658.5 1404.6L1658.7 1341.7L1659.0 1462.1L1659.2 1332.8L1659.5 1448.1L1659.7 1311.9L1660.0 1480.0L1660.2 1355.1L1660.5 1448.0L1660.7 1342.5L1661.0 1431.8L1661.2 1290.8L1661.5 1411.9L1661.7 1324.3L1661.9 1434.3L1662.2 1309.9L1662.4 1451.4L1662.7 1312.4L1662.9 1475.9L1663.2 1302.4L1663.4 1467.4L1663.7 1332.0L1663.9 1496.5L1664.2 1344.9L1664.4 1484.1L1664.7 1350.1L1664.9 1435.4L1665.2 1335.9L1665.4 1459.8L1665.6 1371.5L1665.9 1520.2L1666.1 1304.2L1666.4 1526.7L1666.6 1328.7L1666.9 1473.4L1667.1 1334.3L1667.4 1440.1L1667.6 1347.2L1667.9 1471.9L1668.1 1332.3L1668.4 1456.6L1668.6 1337.3L1668.8 1440.7L1669.1 1329.3L1669.3 1423.0L1669.6 1352.3L1669.8 1457.3L1670.1 1379.3L1670.3 1455.4L1670.6 1341.6L1670.8 1417.5L1671.1 1344.8L1671.3 1439.1L1671.6 1340.9L1671.8 1429.5L1672.1 1353.1L1672.3 1418.6L1672.5 1331.8L1672.8 1431.4L1673.0 1362.0L1673.3 1415.7L1673.5 1336.5L1673.8 1411.8L1674.0 1351.5L1674.3 1419.5L1674.5 1326.9L1674.8 1395.0L1675.0 1337.4L1675.3 1423.3L1675.5 1350.6L1675.7 1401.0L1676.0 1354.0L1676.2 1402.7L1676.5 1341.2L1676.7 1426.6L1677.0 1358.6L1677.2 1425.4L1677.5 1357.0L1677.7 1432.2L1678.0 1335.7L1678.2 1413.9L1678.5 1330.7L1678.7 1380.8L1679.0 1345.7L1679.2 1410.0L1679.4 1342.3L1679.7 1379.6L1679.9 1314.7L1680.2 1419.6L1680.4 1318.9L1680.7 1426.5L1680.9 1341.9L1681.2 1377.0L1681.4 1327.4L1681.7 1421.7L1681.9 1308.4L1682.2 1417.2L1682.4 1330.0L1682.6 1430.1L1682.9 1325.1L1683.1 1383.6L1683.4 1302.4L1683.6 1413.7L1683.9 1298.7L1684.1 1416.6L1684.4 1332.6L1684.6 1424.0L1684.9 1311.3L1685.1 1283.1L1685.4 1441.9L1685.6 1410.8L1685.9 1310.0L1686.1 1376.3L1686.3 1348.7L1686.6 1412.4L1686.8 1325.0L1687.1 1426.9L1687.3 1336.2L1687.6 1407.3L1687.8 1348.9L1688.1 1397.3L1688.3 1302.7L1688.6 1389.0L1688.8 1323.2L1689.1 1391.8L1689.3 1315.2L1689.5 1405.7L1689.8 1331.1L1690.0 1435.5L1690.3 1333.2L1690.5 1437.2L1690.8 1331.4L1691.0 1422.0L1691.3 1349.5L1691.5 1418.1L1691.8 1343.1L1692.0 1440.5L1692.3 1320.3L1692.5 1304.2L1692.8 1452.5L1693.0 1427.9" fill="none" stroke="#0f0" stroke-width="4.4" stroke-linejoin="miter" stroke-miterlimit="1.5" shape-rendering="crispEdges"/>
<path d="M214.0 1107.8L214.5 1108.7L215.0 1113.0L215.5 1117.4L216.0 1121.8L216.5 1126.2L217.0 1130.4L217.5 1133.8L218.0 1137.1L218.5 1140.4L219.0 1143.8L219.5 1147.1L220.0 1150.4L220.5 1155.3L221.0 1160.7L221.5 1166.1L222.0 1171.4L222.5 1176.8L223.0 1181.5L223.5 1184.0L224.0 1186.5L224.5 1189.0L225.0 1191.5L225.5 1190.8L226.0 1190.1L226.5 1189.3L227.0 1188.6L227.5 1187.8L228.0 1187.1L228.5 1186.4L229.0 1186.9L229.5 1192.9L230.0 1189.7L230.5 1195.6L231.0 1192.4L231.5 1195.0L232.0 1192.2L232.5 1197.7L233.0 1195.0L233.5 1201.2L234.0 1197.8L234.5 1204.0L235.0 1200.6L235.5 1206.4L236.0 1203.4L236.5 1209.2L237.0 1207.4L237.5 1212.0L238.0 1210.2L238.5 1213.9L239.0 1210.9L239.5 1214.3L240.0 1211.3L240.5 1215.1L241.0 1213.0L241.5 1215.5L242.0 1213.4L242.5 1215.9L243.0 1213.8L243.5 1218.6L244.0 1212.8L244.5 1216.5L245.0 1208.6L245.5 1214.3L246.0 1206.4L246.5 1212.3L247.0 1204.2L247.5 1210.1L248.0 1202.1L248.5 1207.9L249.0 1200.8L249.5 1205.8L250.0 1199.4L250.5 1203.3L251.0 1200.8L251.5 1204.7L252.0 1200.8L252.5 1206.1L253.0 1202.2L253.5 1206.6L254.0 1203.6L254.5 1208.0L255.0 1205.0L255.5 1208.3L256.0 1204.0L256.5 1207.1L257.0 1205.0L257.5 1208.6L258.0 1203.8L258.5 1207.4L259.0 1202.6L259.5 1206.9L260.0 1201.4L260.5 1205.8L261.0 1200.8L261.5 1205.6L262.0 1201.3L262.5 1205.5L263.0 1201.2L263.5 1204.3L264.0 1198.7L264.5 1204.2L265.0 1198.6L265.5 1204.0L266.0 1198.4L266.5 1203.8L267.0 1199.6L267.5 1205.8L268.0 1202.3L268.5 1206.4L269.0 1205.9L269.5 1209.0L270.0 1208.6L270.5 1211.7L271.0 1212.0L271.5 1214.4L272.0 1214.7L272.5 1218.4L273.0 1217.3L273.5 1219.6L274.0 1215.7L274.5 1218.6L275.0 1214.7L275.5 1216.1L276.0 1213.7L276.5 1215.1L277.0 1212.7L277.5 1214.1L278.0 1209.2L278.5 1213.1L279.0 1208.2L279.5 1212.3L280.0 1208.8L280.5 1214.3L281.0 1210.5L281.5 1216.3L282.0 1212.5L282.5 1218.3L283.0 1214.5L283.5 1220.3L284.0 1215.8L284.5 1222.1L285.0 1215.7L285.5 1222.0L286.0 1219.3L286.5 1221.8L287.0 1219.2L287.5 1221.6L288.0 1219.0L288.5 1221.5L289.0 1218.8L289.5 1222.1L290.0 1218.7L290.5 1224.0L291.0 1223.1L291.5 1228.3L292.0 1227.4L292.5 1232.7L293.0 1231.8L293.5 1237.0L294.0 1236.1L294.5 1238.4L295.0 1237.5L295.5 1242.8L296.0 1241.9L296.5 1247.4L297.0 1242.6L297.5 1245.8L298.0 1241.0L298.5 1244.2L299.0 1239.0L299.5 1242.6L300.0 1237.4L300.5 1241.0L301.0 1235.8L301.5 1240.3L302.0 1235.5L302.5 1242.1L303.0 1239.1L303.5 1244.8L304.0 1241.8L304.5 1247.4L305.0 1243.8L305.5 1246.7L306.0 1241.0L306.5 1246.3L307.0 1238.2L307.5 1243.5L308.0 1237.8L308.5 1240.7L309.0 1235.0L309.5 1236.1L310.0 1232.2L310.5 1233.8L311.0 1230.7L311.5 1232.6L312.0 1225.9L312.5 1231.3L313.0 1224.7L313.5 1229.2L314.0 1223.4L314.5 1228.0L315.0 1222.2L315.5 1226.7L316.0 1220.9L316.5 1225.5L317.0 1218.9L317.5 1224.2L318.0 1217.7L318.5 1224.5L319.0 1216.2L319.5 1222.8L320.0 1214.4L320.5 1220.8L321.0 1212.6L321.5 1219.0L322.0 1212.0L322.5 1217.2L323.0 1210.2L323.5 1213.3L324.0 1208.4L324.5 1211.5L325.0 1205.9L325.5 1209.7L326.0 1204.1L326.5 1207.9L327.0 1202.3L327.5 1206.1L328.0 1200.5L328.5 1204.3L329.0 1198.7L329.5 1204.1L330.0 1201.2L330.5 1207.0L331.0 1204.1L331.5 1209.9L332.0 1206.9L332.5 1212.7L333.0 1209.8L333.5 1215.6L334.0 1212.7L334.5 1218.4L335.0 1216.5L335.5 1221.2L336.0 1219.4L336.5 1225.4L337.0 1221.5L337.5 1226.6L338.0 1224.2L338.5 1227.5L339.0 1225.0L339.5 1227.6L340.0 1222.6L340.5 1228.5L341.0 1223.5L341.5 1229.4L342.0 1224.3L342.5 1230.2L343.0 1225.2L343.5 1231.1L344.0 1226.9L344.5 1229.6L345.0 1225.6L345.5 1228.1L346.0 1224.1L346.5 1226.6L347.0 1222.6L347.5 1225.1L348.0 1221.1L348.5 1224.3L349.0 1222.6L349.5 1226.3L350.0 1224.6L350.5 1228.9L351.0 1224.6L351.5 1230.9L352.0 1226.6L352.5 1232.9L353.0 1226.8L353.5 1231.1L354.0 1224.8L354.5 1229.1L355.0 1226.4L355.5 1227.5L356.0 1224.4L356.5 1225.5L357.0 1223.4L357.5 1226.9L358.0 1226.2L358.5 1229.7L359.0 1229.0L359.5 1232.5L360.0 1232.0L360.5 1233.7L361.0 1234.8L361.5 1236.5L362.0 1237.6L362.5 1238.0L363.0 1235.0L363.5 1237.6L364.0 1234.6L364.5 1237.2L365.0 1234.2L365.5 1240.3L366.0 1233.8L366.5 1239.9L367.0 1233.4L367.5 1239.1L368.0 1229.7L368.5 1232.5L369.0 1226.2L369.5 1229.0L370.0 1224.0L370.5 1225.5L371.0 1220.5L371.5 1222.0L372.0 1220.0L372.5 1228.6L373.0 1225.8L373.5 1232.9L374.0 1230.0L374.5 1237.1L375.0 1234.3L375.5 1241.4L376.0 1237.1L376.5 1239.7L377.0 1232.4L377.5 1235.0L378.0 1225.0L378.5 1227.8L379.0 1220.2L379.5 1223.0L380.0 1215.5L380.5 1220.2L381.0 1214.9L381.5 1220.0L382.0 1214.7L382.5 1219.9L383.0 1214.5L383.5 1219.7L384.0 1214.3L384.5 1219.5L385.0 1214.2L385.5 1219.4L386.0 1216.5L386.5 1219.7L387.0 1216.2L387.5 1219.4L388.0 1215.8L388.5 1219.0L389.0 1215.5L389.5 1218.6L390.0 1214.2L390.5 1218.9L391.0 1213.8L391.5 1218.5L392.0 1212.4L392.5 1216.5L393.0 1212.0L393.5 1216.1L394.0 1211.7L394.5 1218.8L395.0 1211.8L395.5 1222.1L396.0 1217.7L396.5 1226.7L397.0 1223.7L397.5 1232.7L398.0 1229.7L398.5 1235.6L399.0 1227.9L399.5 1233.0L400.0 1227.4L400.5 1230.5L401.0 1224.8L401.5 1227.9L402.0 1223.3L402.5 1225.3L403.0 1220.7L403.5 1221.3L404.0 1217.2L404.5 1218.8L405.0 1214.6L405.5 1216.2L406.0 1213.7L406.5 1217.0L407.0 1214.5L407.5 1217.8L408.0 1212.7L408.5 1218.9L409.0 1213.5L409.5 1219.8L410.0 1214.4L410.5 1220.6L411.0 1216.8L411.5 1221.4L412.0 1217.9L412.5 1223.1L413.0 1220.0L413.5 1227.7L414.0 1222.2L414.5 1229.9L415.0 1224.4L415.5 1232.0L416.0 1225.0L416.5 1234.2L417.0 1227.2L417.5 1236.1L418.0 1229.3L418.5 1238.5L419.0 1232.0L419.5 1241.3L420.0 1238.5L420.5 1244.2L421.0 1241.3L421.5 1247.0L422.0 1244.2L422.5 1247.8L423.0 1247.1L423.5 1250.7L424.0 1246.0L424.5 1250.9L425.0 1242.6L425.5 1247.7L426.0 1238.1L426.5 1243.1L427.0 1237.5L427.5 1238.6L428.0 1233.0L428.5 1234.1L429.0 1225.7L429.5 1229.6L430.0 1221.1L430.5 1223.4L431.0 1216.6L431.5 1218.9L432.0 1211.1L432.5 1214.4L433.0 1206.6L433.5 1213.2L434.0 1209.4L434.5 1216.4L435.0 1212.7L435.5 1219.7L436.0 1219.5L436.5 1224.8L437.0 1222.8L437.5 1228.1L438.0 1226.0L438.5 1231.8L439.0 1226.1L439.5 1235.0L440.0 1229.4L440.5 1238.3L441.0 1232.6L441.5 1241.5L442.0 1233.8L442.5 1240.3L443.0 1232.5L443.5 1239.0L444.0 1233.5L444.5 1237.8L445.0 1232.2L445.5 1233.4L446.0 1228.8L446.5 1232.1L447.0 1227.6L447.5 1230.9L448.0 1228.1L448.5 1231.2L449.0 1226.8L449.5 1229.9L450.0 1225.6L450.5 1229.0L451.0 1223.4L451.5 1229.5L452.0 1222.9L452.5 1228.9L453.0 1222.3L453.5 1227.0L454.0 1221.7L454.5 1226.4L455.0 1222.5L455.5 1225.8L456.0 1222.0L456.5 1226.1L457.0 1221.4L457.5 1225.2L458.0 1218.7L458.5 1220.5L459.0 1214.0L459.5 1215.7L460.0 1207.7L460.5 1209.6L461.0 1203.0L461.5 1204.8L462.0 1199.9L462.5 1204.3L463.0 1200.1L463.5 1204.5L464.0 1200.3L464.5 1204.7L465.0 1203.6L465.5 1207.9L466.0 1203.8L466.5 1208.1L467.0 1204.1L467.5 1209.5L468.0 1206.5L468.5 1211.9L469.0 1208.9L469.5 1212.9L470.0 1207.1L470.5 1215.2L471.0 1209.5L471.5 1217.6L472.0 1211.9L472.5 1220.0L473.0 1214.3L473.5 1222.4L474.0 1217.9L474.5 1224.1L475.0 1220.3L475.5 1226.2L476.0 1220.8L476.5 1225.3L477.0 1222.0L477.5 1225.6L478.0 1221.2L478.5 1224.7L479.0 1217.2L479.5 1223.8L480.0 1216.3L480.5 1222.9L481.0 1215.4L481.5 1222.3L482.0 1214.6L482.5 1221.4L483.0 1213.7L483.5 1220.6L484.0 1212.7L484.5 1219.2L485.0 1211.4L485.5 1217.5L486.0 1209.7L486.5 1215.8L487.0 1208.0L487.5 1214.3L488.0 1206.0L488.5 1212.6L489.0 1204.2L489.5 1210.8L490.0 1202.5L490.5 1208.9L491.0 1200.8L491.5 1207.7L492.0 1201.1L492.5 1208.9L493.0 1205.5L493.5 1210.0L494.0 1206.6L494.5 1211.1L495.0 1207.8L495.5 1209.1L496.0 1208.9L496.5 1210.2L497.0 1208.3L497.5 1211.3L498.0 1209.4L498.5 1212.5L499.0 1210.6L499.5 1213.5L500.0 1210.4L500.5 1213.0L501.0 1209.2L501.5 1211.8L502.0 1208.0L502.5 1213.9L503.0 1206.8L503.5 1212.7L504.0 1205.6L504.5 1211.5L505.0 1203.3L505.5 1209.3L506.0 1197.9L506.5 1203.5L507.0 1192.2L507.5 1197.8L508.0 1186.4L508.5 1190.5L509.0 1182.2L509.5 1185.6L510.0 1179.7L510.5 1184.1L511.0 1178.7L511.5 1183.1L512.0 1177.7L512.5 1182.1L513.0 1176.2L513.5 1181.4L514.0 1178.3L514.5 1186.9L515.0 1186.3L515.5 1192.9L516.0 1192.3L516.5 1198.9L517.0 1198.3L517.5 1203.0L518.0 1202.9L518.5 1204.2L519.0 1198.9L519.5 1203.3L520.0 1198.0L520.5 1202.4L521.0 1197.1L521.5 1201.5L522.0 1198.5L522.5 1203.4L523.0 1197.7L523.5 1202.5L524.0 1196.8L524.5 1201.6L525.0 1196.8L525.5 1200.8L526.0 1195.9L526.5 1199.9L527.0 1195.0L527.5 1198.7L528.0 1195.6L528.5 1200.0L529.0 1194.2L529.5 1201.2L530.0 1195.4L530.5 1202.5L531.0 1196.7L531.5 1203.4L532.0 1198.0L532.5 1204.7L533.0 1199.4L533.5 1206.0L534.0 1200.7L534.5 1207.2L535.0 1202.0L535.5 1208.5L536.0 1205.1L536.5 1208.4L537.0 1206.4L537.5 1209.7L538.0 1207.7L538.5 1211.0L539.0 1207.0L539.5 1210.0L540.0 1204.0L540.5 1207.1L541.0 1201.0L541.5 1204.1L542.0 1200.3L542.5 1201.5L543.0 1197.3L543.5 1199.8L544.0 1197.9L544.5 1201.4L545.0 1199.5L545.5 1203.0L546.0 1201.2L546.5 1205.2L547.0 1202.8L547.5 1206.8L548.0 1204.6L548.5 1208.5L549.0 1206.2L549.5 1210.1L550.0 1207.8L550.5 1211.8L551.0 1210.1L551.5 1213.4L552.0 1210.6L552.5 1213.8L553.0 1208.5L553.5 1211.7L554.0 1206.0L554.5 1209.6L555.0 1203.9L555.5 1203.9L556.0 1201.8L556.5 1201.8L557.0 1199.6L557.5 1199.6L558.0 1197.5L558.5 1199.2L559.0 1192.5L559.5 1197.1L560.0 1190.4L560.5 1196.0L561.0 1190.9L561.5 1197.0L562.0 1191.9L562.5 1199.5L563.0 1192.6L563.5 1200.5L564.0 1193.6L564.5 1201.5L565.0 1194.6L565.5 1199.3L566.0 1195.6L566.5 1200.3L567.0 1196.1L567.5 1200.2L568.0 1199.5L568.5 1200.1L569.0 1199.3L569.5 1203.4L570.0 1199.2L570.5 1203.3L571.0 1199.0L571.5 1201.4L572.0 1198.9L572.5 1201.2L573.0 1196.4L573.5 1201.1L574.0 1196.2L574.5 1200.9L575.0 1196.1L575.5 1203.2L576.0 1198.3L576.5 1204.2L577.0 1199.3L577.5 1202.1L578.0 1200.3L578.5 1203.1L579.0 1201.3L579.5 1204.1L580.0 1203.5L580.5 1207.7L581.0 1204.5L581.5 1208.4L582.0 1199.8L582.5 1207.0L583.0 1198.4L583.5 1202.9L584.0 1197.0L584.5 1201.6L585.0 1195.6L585.5 1202.2L586.0 1194.3L586.5 1200.8L587.0 1192.9L587.5 1198.0L588.0 1191.6L588.5 1196.6L589.0 1190.2L589.5 1195.2L590.0 1189.2L590.5 1196.2L591.0 1192.2L591.5 1197.0L592.0 1193.1L592.5 1199.0L593.0 1193.9L593.5 1199.9L594.0 1194.7L594.5 1200.7L595.0 1195.6L595.5 1201.5L596.0 1194.4L596.5 1201.8L597.0 1199.4L597.5 1207.8L598.0 1205.4L598.5 1213.8L599.0 1211.4L599.5 1218.6L600.0 1211.7L600.5 1215.6L601.0 1212.7L601.5 1211.8L602.0 1209.7L602.5 1208.8L603.0 1206.7L603.5 1205.8L604.0 1206.3L604.5 1208.7L605.0 1206.0L605.5 1212.2L606.0 1209.5L606.5 1215.7L607.0 1213.0L607.5 1220.8L608.0 1215.8L608.5 1221.5L609.0 1215.0L609.5 1220.7L610.0 1214.2L610.5 1219.9L611.0 1213.4L611.5 1219.1L612.0 1212.7L612.5 1219.2L613.0 1215.4L613.5 1218.4L614.0 1214.6L614.5 1217.6L615.0 1213.8L615.5 1216.9L616.0 1213.1L616.5 1216.1L617.0 1212.3L617.5 1216.1L618.0 1209.4L618.5 1215.8L619.0 1209.1L619.5 1215.5L620.0 1208.8L620.5 1215.2L621.0 1210.4L621.5 1214.9L622.0 1210.1L622.5 1214.6L623.0 1209.8L623.5 1213.5L624.0 1207.0L624.5 1213.2L625.0 1206.7L625.5 1212.9L626.0 1206.4L626.5 1212.7L627.0 1206.3L627.5 1212.4L628.0 1205.9L628.5 1210.0L629.0 1203.9L629.5 1208.0L630.0 1201.9L630.5 1206.0L631.0 1199.9L631.5 1202.3L632.0 1198.5L632.5 1200.3L633.0 1196.5L633.5 1198.3L634.0 1194.5L634.5 1196.7L635.0 1192.5L635.5 1194.7L636.0 1190.8L636.5 1193.0L637.0 1191.5L637.5 1197.1L638.0 1194.1L638.5 1199.7L639.0 1194.7L639.5 1204.0L640.0 1197.4L640.5 1206.7L641.0 1201.0L641.5 1207.5L642.0 1203.7L642.5 1210.2L643.0 1205.8L643.5 1210.9L644.0 1205.8L644.5 1211.0L645.0 1205.8L645.5 1211.0L646.0 1207.4L646.5 1211.0L647.0 1207.4L647.5 1211.0L648.0 1205.3L648.5 1210.1L649.0 1203.2L649.5 1206.1L650.0 1200.9L650.5 1203.8L651.0 1198.6L651.5 1201.5L652.0 1198.2L652.5 1199.2L653.0 1195.9L653.5 1196.9L654.0 1195.4L654.5 1196.6L655.0 1193.1L655.5 1194.3L656.0 1191.8L656.5 1194.0L657.0 1191.5L657.5 1193.6L658.0 1191.1L658.5 1193.3L659.0 1190.5L659.5 1195.0L660.0 1190.2L660.5 1194.7L661.0 1189.9L661.5 1193.1L662.0 1188.8L662.5 1189.9L663.0 1184.0L663.5 1185.1L664.0 1178.4L664.5 1180.1L665.0 1173.6L665.5 1175.3L666.0 1168.8L666.5 1171.6L667.0 1163.9L667.5 1166.7L668.0 1159.1L668.5 1161.6L669.0 1157.6L669.5 1161.0L670.0 1157.0L670.5 1160.4L671.0 1156.4L671.5 1159.8L672.0 1155.9L672.5 1159.3L673.0 1152.3L673.5 1158.7L674.0 1151.8L674.5 1159.5L675.0 1151.2L675.5 1158.9L676.0 1152.5L676.5 1161.3L677.0 1155.4L677.5 1163.5L678.0 1158.2L678.5 1166.3L679.0 1161.0L679.5 1169.2L680.0 1163.9L680.5 1172.0L681.0 1166.7L681.5 1172.9L682.0 1170.4L682.5 1172.9L683.0 1167.5L683.5 1170.0L684.0 1164.6L684.5 1167.7L685.0 1161.7L685.5 1164.8L686.0 1158.9L686.5 1161.9L687.0 1158.6L687.5 1159.1L688.0 1155.7L688.5 1158.3L689.0 1152.8L689.5 1155.4L690.0 1149.9L690.5 1152.7L691.0 1147.3L691.5 1154.7L692.0 1149.3L692.5 1156.7L693.0 1151.3L693.5 1156.1L694.0 1154.2L694.5 1158.1L695.0 1156.2L695.5 1162.6L696.0 1156.9L696.5 1160.5L697.0 1153.2L697.5 1156.8L698.0 1147.8L698.5 1153.1L699.0 1144.5L699.5 1150.9L700.0 1150.0L700.5 1153.7L701.0 1152.9L701.5 1156.6L702.0 1155.8L702.5 1159.5L703.0 1158.3L703.5 1162.3L704.0 1161.2L704.5 1165.2L705.0 1164.0L705.5 1170.3L706.0 1166.9L706.5 1172.9L707.0 1168.9L707.5 1174.5L708.0 1169.5L708.5 1176.1L709.0 1171.1L709.5 1177.6L710.0 1172.6L710.5 1177.0L711.0 1174.2L711.5 1178.5L712.0 1175.8L712.5 1180.1L713.0 1179.4L713.5 1181.7L714.0 1180.5L714.5 1181.8L715.0 1177.4L715.5 1180.6L716.0 1177.0L716.5 1180.2L717.0 1176.6L717.5 1179.8L718.0 1176.2L718.5 1179.9L719.0 1177.3L719.5 1180.9L720.0 1180.1L720.5 1183.9L721.0 1183.1L721.5 1187.3L722.0 1186.1L722.5 1188.8L723.0 1184.6L723.5 1185.8L724.0 1179.0L724.5 1183.1L725.0 1176.0L725.5 1180.1L726.0 1173.4L726.5 1177.1L727.0 1170.4L727.5 1174.1L728.0 1167.4L728.5 1169.6L729.0 1167.2L729.5 1166.6L730.0 1164.2L730.5 1163.6L731.0 1161.2L731.5 1161.1L732.0 1154.9L732.5 1158.1L733.0 1151.9L733.5 1155.1L734.0 1148.9L734.5 1152.1L735.0 1146.2L735.5 1153.1L736.0 1150.9L736.5 1157.7L737.0 1155.3L737.5 1162.1L738.0 1159.7L738.5 1169.6L739.0 1164.1L739.5 1174.0L740.0 1169.3L740.5 1178.1L741.0 1172.6L741.5 1181.1L742.0 1175.6L742.5 1184.1L743.0 1178.6L743.5 1187.1L744.0 1181.7L744.5 1187.7L745.0 1184.7L745.5 1190.7L746.0 1187.7L746.5 1196.0L747.0 1188.9L747.5 1195.0L748.0 1187.4L748.5 1193.5L749.0 1185.9L749.5 1191.4L750.0 1184.4L750.5 1189.9L751.0 1183.2L751.5 1189.4L752.0 1183.8L752.5 1190.1L753.0 1184.5L753.5 1190.7L754.0 1187.8L754.5 1189.9L755.0 1188.4L755.5 1190.5L756.0 1188.4L756.5 1191.1L757.0 1189.0L757.5 1192.4L758.0 1186.7L758.5 1193.1L759.0 1187.3L759.5 1194.0L760.0 1189.1L760.5 1196.3L761.0 1191.1L761.5 1198.7L762.0 1193.5L762.5 1201.0L763.0 1195.8L763.5 1201.3L764.0 1198.1L764.5 1203.7L765.0 1200.5L765.5 1206.0L766.0 1202.8L766.5 1208.3L767.0 1205.3L767.5 1210.7L768.0 1207.7L768.5 1213.8L769.0 1212.4L769.5 1212.8L770.0 1209.6L770.5 1209.2L771.0 1206.8L771.5 1206.4L772.0 1201.7L772.5 1203.6L773.0 1198.9L773.5 1201.9L774.0 1196.0L774.5 1199.1L775.0 1193.2L775.5 1197.0L776.0 1192.4L776.5 1196.7L777.0 1194.3L777.5 1196.5L778.0 1194.1L778.5 1195.5L779.0 1193.8L779.5 1195.2L780.0 1193.6L780.5 1195.0L781.0 1193.3L781.5 1194.7L782.0 1193.1L782.5 1194.5L783.0 1190.6L783.5 1195.6L784.0 1191.1L784.5 1197.3L785.0 1192.4L785.5 1199.4L786.0 1194.6L786.5 1201.6L787.0 1196.7L787.5 1203.7L788.0 1198.9L788.5 1206.9L789.0 1201.2L789.5 1209.1L790.0 1203.4L790.5 1210.3L791.0 1205.5L791.5 1212.4L792.0 1208.5L792.5 1214.4L793.0 1210.5L793.5 1215.1L794.0 1212.5L794.5 1217.1L795.0 1214.5L795.5 1220.5L796.0 1216.5L796.5 1222.5L797.0 1218.5L797.5 1224.5L798.0 1220.5L798.5 1224.1L799.0 1220.8L799.5 1226.1L800.0 1221.3L800.5 1224.7L801.0 1221.4L801.5 1223.1L802.0 1219.7L802.5 1223.8L803.0 1219.1L803.5 1222.2L804.0 1217.5L804.5 1220.5L805.0 1215.9L805.5 1216.8L806.0 1214.3L806.5 1215.2L807.0 1209.7L807.5 1213.5L808.0 1208.1L808.5 1213.3L809.0 1209.3L809.5 1217.1L810.0 1210.7L810.5 1218.5L811.0 1212.1L811.5 1221.4L812.0 1213.5L812.5 1222.7L813.0 1215.7L813.5 1224.1L814.0 1217.1L814.5 1225.5L815.0 1218.5L815.5 1223.4L816.0 1219.8L816.5 1224.8L817.0 1218.4L817.5 1220.4L818.0 1217.0L818.5 1215.9L819.0 1212.5L819.5 1214.0L820.0 1208.0L820.5 1209.5L821.0 1203.5L821.5 1205.0L822.0 1199.0L822.5 1200.5L823.0 1193.0L823.5 1196.0L824.0 1188.5L824.5 1192.5L825.0 1184.0L825.5 1192.1L826.0 1189.5L826.5 1195.7L827.0 1193.1L827.5 1199.4L828.0 1196.8L828.5 1203.1L829.0 1200.5L829.5 1206.5L830.0 1204.1L830.5 1210.1L831.0 1204.2L831.5 1214.0L832.0 1207.9L832.5 1217.6L833.0 1211.6L833.5 1221.3L834.0 1215.2L834.5 1225.0L835.0 1216.9L835.5 1223.3L836.0 1215.8L836.5 1222.7L837.0 1215.1L837.5 1222.0L838.0 1214.5L838.5 1220.2L839.0 1214.2L839.5 1219.5L840.0 1213.5L840.5 1218.8L841.0 1212.9L841.5 1217.2L842.0 1212.2L842.5 1216.5L843.0 1211.5L843.5 1215.9L844.0 1213.3L844.5 1216.1L845.0 1214.6L845.5 1217.6L846.0 1216.1L846.5 1219.1L847.0 1215.0L847.5 1220.4L848.0 1216.5L848.5 1221.9L849.0 1218.0L849.5 1223.4L850.0 1219.5L850.5 1224.7L851.0 1219.7L851.5 1223.9L852.0 1218.9L852.5 1224.2L853.0 1218.6L853.5 1223.4L854.0 1217.8L854.5 1222.6L855.0 1217.0L855.5 1221.8L856.0 1217.3L856.5 1226.2L857.0 1223.9L857.5 1229.4L858.0 1227.1L858.5 1232.6L859.0 1230.3L859.5 1235.8L860.0 1233.5L860.5 1239.0L861.0 1236.0L861.5 1239.2L862.0 1233.1L862.5 1235.2L863.0 1230.1L863.5 1232.2L864.0 1224.3L864.5 1229.2L865.0 1221.3L865.5 1226.2L866.0 1221.8L866.5 1223.2L867.0 1218.8L867.5 1220.4L868.0 1211.7L868.5 1217.4L869.0 1208.7L869.5 1214.4L870.0 1206.0L870.5 1211.9L871.0 1203.5L871.5 1209.4L872.0 1201.2L872.5 1207.7L873.0 1198.7L873.5 1205.2L874.0 1196.2L874.5 1202.7L875.0 1193.7L875.5 1197.2L876.0 1191.2L876.5 1194.7L877.0 1190.7L877.5 1193.5L878.0 1188.4L878.5 1193.8L879.0 1192.1L879.5 1196.4L880.0 1194.8L880.5 1199.1L881.0 1197.4L881.5 1201.8L882.0 1200.1L882.5 1204.7L883.0 1202.8L883.5 1207.4L884.0 1203.7L884.5 1209.9L885.0 1205.9L885.5 1211.9L886.0 1207.2L886.5 1213.9L887.0 1209.2L887.5 1214.0L888.0 1211.2L888.5 1216.0L889.0 1213.2L889.5 1218.0L890.0 1216.4L890.5 1221.4L891.0 1218.4L891.5 1223.4L892.0 1220.4L892.5 1226.1L893.0 1222.0L893.5 1226.7L894.0 1222.1L894.5 1226.7L895.0 1222.1L895.5 1226.7L896.0 1222.1L896.5 1227.3L897.0 1222.1L897.5 1227.3L898.0 1222.1L898.5 1227.3L899.0 1220.6L899.5 1224.6L900.0 1220.6L900.5 1224.6L901.0 1220.6L901.5 1224.8L902.0 1221.9L902.5 1226.5L903.0 1226.9L903.5 1228.2L904.0 1228.6L904.5 1229.9L905.0 1230.3L905.5 1231.6L906.0 1232.0L906.5 1236.2L907.0 1233.8L907.5 1237.9L908.0 1234.7L908.5 1239.5L909.0 1236.8L909.5 1242.3L910.0 1239.8L910.5 1245.3L911.0 1243.0L911.5 1246.5L912.0 1246.0L912.5 1249.5L913.0 1248.8L913.5 1252.5L914.0 1251.8L914.5 1256.4L915.0 1254.8L915.5 1256.1L916.0 1251.0L916.5 1252.0L917.0 1246.8L917.5 1247.8L918.0 1240.8L918.5 1243.3L919.0 1236.6L919.5 1239.2L920.0 1232.5L920.5 1235.0L921.0 1228.4L921.5 1230.9L922.0 1224.2L922.5 1228.6L923.0 1224.6L923.5 1231.1L924.0 1227.1L924.5 1233.6L925.0 1229.6L925.5 1233.2L926.0 1233.6L926.5 1235.7L927.0 1236.1L927.5 1240.4L928.0 1238.6L928.5 1242.9L929.0 1240.5L929.5 1243.4L930.0 1238.3L930.5 1242.8L931.0 1237.6L931.5 1242.1L932.0 1236.9L932.5 1238.8L933.0 1236.3L933.5 1238.1L934.0 1233.9L934.5 1237.4L935.0 1233.3L935.5 1241.6L936.0 1234.5L936.5 1243.2L937.0 1239.5L937.5 1242.8L938.0 1241.2L938.5 1244.4L939.0 1240.9L939.5 1246.1L940.0 1242.6L940.5 1247.8L941.0 1244.2L941.5 1249.4L942.0 1245.0L942.5 1250.5L943.0 1244.7L943.5 1250.3L944.0 1243.6L944.5 1250.0L945.0 1243.4L945.5 1247.3L946.0 1244.5L946.5 1247.1L947.0 1244.3L947.5 1246.8L948.0 1244.0L948.5 1246.6L949.0 1243.9L949.5 1246.3L950.0 1243.6L950.5 1247.0L951.0 1240.8L951.5 1245.7L952.0 1239.5L952.5 1242.6L953.0 1238.2L953.5 1241.2L954.0 1236.8L954.5 1239.9L955.0 1235.5L955.5 1238.6L956.0 1233.2L956.5 1237.7L957.0 1235.3L957.5 1241.7L958.0 1239.3L958.5 1245.7L959.0 1243.3L959.5 1252.1L960.0 1247.3L960.5 1256.1L961.0 1251.3L961.5 1261.7L962.0 1255.2L962.5 1265.7L963.0 1258.6L963.5 1268.1L964.0 1260.6L964.5 1270.1L965.0 1264.9L965.5 1267.8L966.0 1266.9L966.5 1269.8L967.0 1268.9L967.5 1273.6L968.0 1270.9L968.5 1275.6L969.0 1273.8L969.5 1279.3L970.0 1275.8L970.5 1281.3L971.0 1277.1L971.5 1282.4L972.0 1277.0L972.5 1281.8L973.0 1276.3L973.5 1281.1L974.0 1275.6L974.5 1278.9L975.0 1275.0L975.5 1278.3L976.0 1273.6L976.5 1277.6L977.0 1273.0L977.5 1277.4L978.0 1273.3L978.5 1278.8L979.0 1274.8L979.5 1279.7L980.0 1276.3L980.5 1281.2L981.0 1280.0L981.5 1282.7L982.0 1281.5L982.5 1284.2L983.0 1283.0L983.5 1285.7L984.0 1284.5L984.5 1288.8L985.0 1285.2L985.5 1290.3L986.0 1286.7L986.5 1290.9L987.0 1286.3L987.5 1290.5L988.0 1286.6L988.5 1290.0L989.0 1286.1L989.5 1286.3L990.0 1285.7L990.5 1285.9L991.0 1285.2L991.5 1285.4L992.0 1284.8L992.5 1287.2L993.0 1281.0L993.5 1286.8L994.0 1280.5L994.5 1286.3L995.0 1280.1L995.5 1285.9L996.0 1282.1L996.5 1290.6L997.0 1287.1L997.5 1293.5L998.0 1292.1L998.5 1298.5L999.0 1300.5L999.5 1303.5L1000.0 1302.7L1000.5 1298.9L1001.0 1294.2L1001.5 1293.7L1002.0 1285.7L1002.5 1285.2L1003.0 1277.2L1003.5 1276.7L1004.0 1268.7L1004.5 1271.4L1005.0 1266.9L1005.5 1269.7L1006.0 1265.1L1006.5 1267.7L1007.0 1263.0L1007.5 1266.0L1008.0 1261.3L1008.5 1264.3L1009.0 1259.6L1009.5 1261.4L1010.0 1257.9L1010.5 1259.7L1011.0 1255.6L1011.5 1258.8L1012.0 1262.1L1012.5 1271.8L1013.0 1275.1L1013.5 1284.3L1014.0 1281.5L1014.5 1283.2L1015.0 1279.5L1015.5 1281.2L1016.0 1277.5L1016.5 1279.2L1017.0 1272.2L1017.5 1276.2L1018.0 1270.2L1018.5 1274.2L1019.0 1270.2L1019.5 1272.2L1020.0 1268.4L1020.5 1271.5L1021.0 1269.2L1021.5 1272.3L1022.0 1268.2L1022.5 1275.0L1023.0 1269.0L1023.5 1275.8L1024.0 1269.8L1024.5 1276.7L1025.0 1274.4L1025.5 1276.0L1026.0 1271.0L1026.5 1271.5L1027.0 1266.5L1027.5 1265.6L1028.0 1261.8L1028.5 1261.1L1029.0 1257.3L1029.5 1256.9L1030.0 1255.4L1030.5 1257.2L1031.0 1255.8L1031.5 1257.5L1032.0 1256.1L1032.5 1259.2L1033.0 1252.7L1033.5 1259.5L1034.0 1253.1L1034.5 1259.8L1035.0 1253.4L1035.5 1260.2L1036.0 1253.7L1036.5 1260.5L1037.0 1254.9L1037.5 1262.0L1038.0 1255.2L1038.5 1262.4L1039.0 1255.1L1039.5 1262.9L1040.0 1255.8L1040.5 1263.6L1041.0 1256.5L1041.5 1264.3L1042.0 1257.2L1042.5 1264.7L1043.0 1258.5L1043.5 1265.4L1044.0 1259.2L1044.5 1266.1L1045.0 1259.9L1045.5 1266.8L1046.0 1260.7L1046.5 1266.6L1047.0 1263.4L1047.5 1268.1L1048.0 1264.9L1048.5 1269.6L1049.0 1266.1L1049.5 1269.6L1050.0 1267.6L1050.5 1271.1L1051.0 1269.0L1051.5 1272.6L1052.0 1270.5L1052.5 1274.1L1053.0 1271.1L1053.5 1274.7L1054.0 1267.5L1054.5 1272.7L1055.0 1265.5L1055.5 1270.7L1056.0 1263.5L1056.5 1268.7L1057.0 1261.5L1057.5 1266.7L1058.0 1259.5L1058.5 1264.9L1059.0 1257.5L1059.5 1262.9L1060.0 1255.5L1060.5 1260.9L1061.0 1253.5L1061.5 1258.9L1062.0 1251.5L1062.5 1257.4L1063.0 1251.4L1063.5 1257.4L1064.0 1251.5L1064.5 1257.6L1065.0 1253.0L1065.5 1257.7L1066.0 1253.2L1066.5 1257.9L1067.0 1253.3L1067.5 1258.1L1068.0 1252.8L1068.5 1255.8L1069.0 1253.9L1069.5 1258.1L1070.0 1256.5L1070.5 1260.7L1071.0 1259.1L1071.5 1263.3L1072.0 1261.7L1072.5 1268.3L1073.0 1266.9L1073.5 1270.9L1074.0 1269.5L1074.5 1273.5L1075.0 1272.1L1075.5 1276.1L1076.0 1274.7L1076.5 1278.7L1077.0 1277.3L1077.5 1281.3L1078.0 1276.8L1078.5 1283.7L1079.0 1279.4L1079.5 1285.3L1080.0 1279.5L1080.5 1284.3L1081.0 1278.5L1081.5 1284.6L1082.0 1277.5L1082.5 1283.6L1083.0 1278.6L1083.5 1282.8L1084.0 1280.8L1084.5 1286.3L1085.0 1285.8L1085.5 1291.3L1086.0 1290.8L1086.5 1296.5L1087.0 1294.5L1087.5 1301.5L1088.0 1296.9L1088.5 1299.4L1089.0 1294.1L1089.5 1295.4L1090.0 1290.1L1090.5 1293.3L1091.0 1286.1L1091.5 1289.3L1092.0 1282.1L1092.5 1285.3L1093.0 1278.1L1093.5 1281.3L1094.0 1274.1L1094.5 1276.8L1095.0 1270.1L1095.5 1274.5L1096.0 1270.1L1096.5 1275.1L1097.0 1268.3L1097.5 1275.6L1098.0 1268.9L1098.5 1276.6L1099.0 1269.4L1099.5 1277.2L1100.0 1270.0L1100.5 1277.7L1101.0 1270.5L1101.5 1278.3L1102.0 1270.8L1102.5 1274.9L1103.0 1271.3L1103.5 1275.5L1104.0 1271.7L1104.5 1276.0L1105.0 1272.2L1105.5 1276.6L1106.0 1272.8L1106.5 1278.5L1107.0 1273.0L1107.5 1278.1L1108.0 1272.2L1108.5 1278.0L1109.0 1271.3L1109.5 1277.1L1110.0 1271.5L1110.5 1276.3L1111.0 1270.7L1111.5 1275.5L1112.0 1269.9L1112.5 1274.6L1113.0 1269.0L1113.5 1274.6L1114.0 1271.5L1114.5 1275.0L1115.0 1272.9L1115.5 1276.4L1116.0 1274.4L1116.5 1277.9L1117.0 1275.8L1117.5 1278.6L1118.0 1277.3L1118.5 1280.0L1119.0 1276.1L1119.5 1281.5L1120.0 1277.6L1120.5 1282.9L1121.0 1279.0L1121.5 1284.8L1122.0 1282.3L1122.5 1286.2L1123.0 1283.8L1123.5 1287.7L1124.0 1285.3L1124.5 1289.1L1125.0 1284.4L1125.5 1287.1L1126.0 1280.9L1126.5 1283.6L1127.0 1277.4L1127.5 1283.4L1128.0 1273.9L1128.5 1279.9L1129.0 1270.4L1129.5 1276.4L1130.0 1269.7L1130.5 1272.9L1131.0 1266.2L1131.5 1269.2L1132.0 1266.1L1132.5 1269.7L1133.0 1264.6L1133.5 1270.2L1134.0 1265.1L1134.5 1270.7L1135.0 1266.8L1135.5 1272.8L1136.0 1270.7L1136.5 1278.8L1137.0 1276.7L1137.5 1282.9L1138.0 1282.7L1138.5 1288.9L1139.0 1288.7L1139.5 1294.9L1140.0 1290.9L1140.5 1292.3L1141.0 1286.2L1141.5 1287.2L1142.0 1282.3L1142.5 1283.4L1143.0 1278.5L1143.5 1279.5L1144.0 1273.2L1144.5 1275.7L1145.0 1269.3L1145.5 1271.9L1146.0 1265.6L1146.5 1271.7L1147.0 1266.9L1147.5 1271.9L1148.0 1267.2L1148.5 1271.9L1149.0 1267.4L1149.5 1272.2L1150.0 1267.7L1150.5 1273.0L1151.0 1269.9L1151.5 1275.3L1152.0 1272.2L1152.5 1278.8L1153.0 1274.7L1153.5 1281.1L1154.0 1277.0L1154.5 1283.4L1155.0 1279.2L1155.5 1285.6L1156.0 1281.5L1156.5 1287.9L1157.0 1283.8L1157.5 1288.9L1158.0 1286.0L1158.5 1291.1L1159.0 1287.3L1159.5 1293.4L1160.0 1289.6L1160.5 1295.7L1161.0 1291.2L1161.5 1297.0L1162.0 1293.0L1162.5 1297.2L1163.0 1291.9L1163.5 1295.6L1164.0 1290.8L1164.5 1294.5L1165.0 1289.7L1165.5 1293.4L1166.0 1288.6L1166.5 1292.3L1167.0 1288.2L1167.5 1291.2L1168.0 1287.1L1168.5 1293.2L1169.0 1286.0L1169.5 1292.1L1170.0 1284.7L1170.5 1291.0L1171.0 1283.6L1171.5 1289.9L1172.0 1282.5L1172.5 1288.8L1173.0 1284.3L1173.5 1289.4L1174.0 1284.9L1174.5 1288.9L1175.0 1283.8L1175.5 1289.5L1176.0 1284.4L1176.5 1290.1L1177.0 1285.0L1177.5 1290.7L1178.0 1285.6L1178.5 1291.3L1179.0 1286.2L1179.5 1294.1L1180.0 1286.8L1180.5 1294.7L1181.0 1290.4L1181.5 1295.3L1182.0 1291.0L1182.5 1293.6L1183.0 1291.6L1183.5 1293.5L1184.0 1289.7L1184.5 1292.6L1185.0 1288.8L1185.5 1291.7L1186.0 1287.9L1186.5 1290.8L1187.0 1287.0L1187.5 1291.3L1188.0 1286.1L1188.5 1290.4L1189.0 1284.6L1189.5 1288.3L1190.0 1283.7L1190.5 1287.4L1191.0 1282.8L1191.5 1286.5L1192.0 1283.7L1192.5 1285.6L1193.0 1282.8L1193.5 1284.7L1194.0 1283.4L1194.5 1287.8L1195.0 1286.8L1195.5 1291.2L1196.0 1286.8L1196.5 1294.6L1197.0 1290.2L1197.5 1298.7L1198.0 1293.6L1198.5 1302.1L1199.0 1296.3L1199.5 1300.7L1200.0 1291.1L1200.5 1294.4L1201.0 1285.9L1201.5 1289.2L1202.0 1280.2L1202.5 1284.0L1203.0 1275.0L1203.5 1278.8L1204.0 1269.8L1204.5 1275.2L1205.0 1269.3L1205.5 1277.3L1206.0 1272.0L1206.5 1278.3L1207.0 1273.0L1207.5 1279.3L1208.0 1274.0L1208.5 1280.3L1209.0 1275.0L1209.5 1281.3L1210.0 1276.0L1210.5 1279.9L1211.0 1277.4L1211.5 1281.0L1212.0 1278.6L1212.5 1282.2L1213.0 1277.7L1213.5 1283.3L1214.0 1278.8L1214.5 1284.4L1215.0 1280.0L1215.5 1285.6L1216.0 1281.1L1216.5 1288.8L1217.0 1286.2L1217.5 1290.0L1218.0 1287.4L1218.5 1292.9L1219.0 1292.1L1219.5 1297.7L1220.0 1296.9L1220.5 1302.5L1221.0 1301.7L1221.5 1304.8L1222.0 1306.7L1222.5 1309.6L1223.0 1311.5L1223.5 1314.1L1224.0 1315.3L1224.5 1320.6L1225.0 1318.8L1225.5 1324.1L1226.0 1322.2L1226.5 1327.5L1227.0 1325.6L1227.5 1330.9L1228.0 1328.9L1228.5 1334.4L1229.0 1332.4L1229.5 1337.8L1230.0 1335.8L1230.5 1341.3L1231.0 1333.7L1231.5 1339.3L1232.0 1330.2L1232.5 1332.4L1233.0 1326.7L1233.5 1328.9L1234.0 1323.2L1234.5 1325.4L1235.0 1320.0L1235.5 1325.0L1236.0 1324.8L1236.5 1327.1L1237.0 1327.0L1237.5 1330.0L1238.0 1329.1L1238.5 1332.1L1239.0 1331.3L1239.5 1335.8L1240.0 1333.5L1240.5 1338.0L1241.0 1335.9L1241.5 1338.7L1242.0 1334.5L1242.5 1335.7L1243.0 1331.5L1243.5 1332.7L1244.0 1327.2L1244.5 1329.7L1245.0 1324.2L1245.5 1326.7L1246.0 1319.2L1246.5 1322.9L1247.0 1315.7L1247.5 1318.7L1248.0 1311.4L1248.5 1314.4L1249.0 1307.1L1249.5 1311.4L1250.0 1302.7L1250.5 1307.1L1251.0 1298.4L1251.5 1302.8L1252.0 1294.6L1252.5 1298.0L1253.0 1290.3L1253.5 1294.4L1254.0 1289.8L1254.5 1291.4L1255.0 1286.8L1255.5 1288.4L1256.0 1283.0L1256.5 1285.4L1257.0 1280.0L1257.5 1282.4L1258.0 1277.0L1258.5 1280.4L1259.0 1278.1L1259.5 1285.4L1260.0 1283.1L1260.5 1290.4L1261.0 1288.1L1261.5 1294.0L1262.0 1288.6L1262.5 1291.0L1263.0 1285.6L1263.5 1290.8L1264.0 1285.5L1264.5 1287.8L1265.0 1282.5L1265.5 1284.8L1266.0 1279.5L1266.5 1281.8L1267.0 1276.5L1267.5 1278.2L1268.0 1274.5L1268.5 1278.7L1269.0 1276.5L1269.5 1280.7L1270.0 1278.5L1270.5 1282.7L1271.0 1280.5L1271.5 1284.7L1272.0 1282.5L1272.5 1285.4L1273.0 1285.9L1273.5 1288.9L1274.0 1286.3L1274.5 1292.3L1275.0 1289.7L1275.5 1295.7L1276.0 1293.1L1276.5 1299.1L1277.0 1296.6L1277.5 1303.3L1278.0 1302.2L1278.5 1306.8L1279.0 1305.6L1279.5 1309.9L1280.0 1305.9L1280.5 1307.5L1281.0 1303.5L1281.5 1304.8L1282.0 1302.6L1282.5 1302.4L1283.0 1300.2L1283.5 1300.0L1284.0 1297.8L1284.5 1297.6L1285.0 1293.7L1285.5 1295.6L1286.0 1292.2L1286.5 1294.1L1287.0 1290.7L1287.5 1292.6L1288.0 1289.2L1288.5 1293.1L1289.0 1288.5L1289.5 1291.6L1290.0 1287.0L1290.5 1290.1L1291.0 1285.5L1291.5 1288.8L1292.0 1284.0L1292.5 1287.3L1293.0 1282.5L1293.5 1285.7L1294.0 1279.8L1294.5 1283.8L1295.0 1277.9L1295.5 1283.4L1296.0 1277.7L1296.5 1281.5L1297.0 1275.8L1297.5 1279.6L1298.0 1273.9L1298.5 1277.7L1299.0 1272.0L1299.5 1272.1L1300.0 1270.1L1300.5 1270.2L1301.0 1266.1L1301.5 1270.7L1302.0 1264.2L1302.5 1268.8L1303.0 1262.3L1303.5 1266.9L1304.0 1260.8L1304.5 1266.5L1305.0 1261.1L1305.5 1266.7L1306.0 1261.3L1306.5 1267.0L1307.0 1263.3L1307.5 1267.2L1308.0 1263.6L1308.5 1269.5L1309.0 1268.1L1309.5 1274.0L1310.0 1273.4L1310.5 1278.8L1311.0 1278.2L1311.5 1283.6L1312.0 1283.0L1312.5 1289.4L1313.0 1287.8L1313.5 1293.0L1314.0 1287.5L1314.5 1290.0L1315.0 1284.7L1315.5 1287.0L1316.0 1281.7L1316.5 1284.0L1317.0 1278.7L1317.5 1280.3L1318.0 1275.7L1318.5 1277.3L1319.0 1272.7L1319.5 1274.3L1320.0 1269.0L1320.5 1274.2L1321.0 1269.8L1321.5 1273.8L1322.0 1270.5L1322.5 1274.5L1323.0 1271.2L1323.5 1275.3L1324.0 1272.0L1324.5 1276.0L1325.0 1273.6L1325.5 1276.4L1326.0 1273.6L1326.5 1278.8L1327.0 1273.2L1327.5 1278.8L1328.0 1273.2L1328.5 1278.8L1329.0 1273.2L1329.5 1273.7L1330.0 1269.3L1330.5 1269.4L1331.0 1265.0L1331.5 1265.1L1332.0 1260.6L1332.5 1260.7L1333.0 1256.3L1333.5 1256.4L1334.0 1251.4L1334.5 1253.3L1335.0 1247.1L1335.5 1249.0L1336.0 1245.0L1336.5 1248.5L1337.0 1246.3L1337.5 1249.8L1338.0 1246.9L1338.5 1251.1L1339.0 1248.2L1339.5 1254.0L1340.0 1249.5L1340.5 1255.2L1341.0 1250.6L1341.5 1256.9L1342.0 1251.9L1342.5 1258.2L1343.0 1253.2L1343.5 1257.0L1344.0 1250.0L1344.5 1253.2L1345.0 1246.2L1345.5 1250.3L1346.0 1242.4L1346.5 1246.5L1347.0 1238.6L1347.5 1242.7L1348.0 1234.8L1348.5 1240.0L1349.0 1235.1L1349.5 1242.0L1350.0 1235.9L1350.5 1243.1L1351.0 1237.9L1351.5 1245.1L1352.0 1243.4L1352.5 1247.1L1353.0 1242.7L1353.5 1242.4L1354.0 1238.7L1354.5 1238.4L1355.0 1234.7L1355.5 1234.4L1356.0 1230.6L1356.5 1230.4L1357.0 1226.6L1357.5 1229.5L1358.0 1221.3L1358.5 1225.5L1359.0 1217.7L1359.5 1223.7L1360.0 1216.3L1360.5 1223.5L1361.0 1216.1L1361.5 1219.6L1362.0 1215.8L1362.5 1219.3L1363.0 1215.6L1363.5 1219.1L1364.0 1215.3L1364.5 1220.2L1365.0 1217.1L1365.5 1220.0L1366.0 1216.9L1366.5 1219.7L1367.0 1217.3L1367.5 1219.8L1368.0 1218.7L1368.5 1222.2L1369.0 1221.1L1369.5 1223.1L1370.0 1223.5L1370.5 1225.5L1371.0 1225.9L1371.5 1227.9L1372.0 1227.4L1372.5 1231.6L1373.0 1229.4L1373.5 1233.0L1374.0 1227.7L1374.5 1234.3L1375.0 1228.9L1375.5 1236.2L1376.0 1233.8L1376.5 1237.5L1377.0 1235.1L1377.5 1238.7L1378.0 1236.3L1378.5 1241.1L1379.0 1237.6L1379.5 1242.3L1380.0 1235.9L1380.5 1243.6L1381.0 1237.2L1381.5 1244.3L1382.0 1237.2L1382.5 1242.3L1383.0 1237.1L1383.5 1242.2L1384.0 1237.0L1384.5 1242.0L1385.0 1239.6L1385.5 1240.2L1386.0 1239.4L1386.5 1240.1L1387.0 1239.3L1387.5 1240.0L1388.0 1238.6L1388.5 1239.8L1389.0 1237.3L1389.5 1237.3L1390.0 1234.7L1390.5 1235.8L1391.0 1233.1L1391.5 1233.1L1392.0 1232.2L1392.5 1235.7L1393.0 1236.4L1393.5 1241.8L1394.0 1240.6L1394.5 1246.0L1395.0 1240.9L1395.5 1250.2L1396.0 1245.1L1396.5 1254.4L1397.0 1249.3L1397.5 1255.3L1398.0 1245.9L1398.5 1251.6L1399.0 1243.3L1399.5 1247.9L1400.0 1239.6L1400.5 1244.2L1401.0 1235.8L1401.5 1240.5L1402.0 1232.1L1402.5 1233.4L1403.0 1228.4L1403.5 1229.7L1404.0 1224.0L1404.5 1226.1L1405.0 1221.7L1405.5 1225.0L1406.0 1220.5L1406.5 1223.8L1407.0 1219.4L1407.5 1226.2L1408.0 1218.2L1408.5 1225.1L1409.0 1217.1L1409.5 1224.0L1410.0 1216.6L1410.5 1222.6L1411.0 1215.5L1411.5 1221.4L1412.0 1216.8L1412.5 1220.9L1413.0 1216.7L1413.5 1220.8L1414.0 1216.6L1414.5 1220.6L1415.0 1215.1L1415.5 1217.6L1416.0 1214.9L1416.5 1217.4L1417.0 1214.8L1417.5 1218.7L1418.0 1214.6L1418.5 1218.5L1419.0 1214.5L1419.5 1218.4L1420.0 1214.6L1420.5 1217.0L1421.0 1214.4L1421.5 1216.9L1422.0 1214.3L1422.5 1215.9L1423.0 1214.1L1423.5 1215.8L1424.0 1212.0L1424.5 1215.6L1425.0 1211.8L1425.5 1215.7L1426.0 1211.7L1426.5 1215.6L1427.0 1211.1L1427.5 1214.1L1428.0 1209.3L1428.5 1214.2L1429.0 1209.5L1429.5 1212.4L1430.0 1207.7L1430.5 1210.7L1431.0 1204.3L1431.5 1208.9L1432.0 1202.6L1432.5 1205.1L1433.0 1201.3L1433.5 1203.3L1434.0 1199.5L1434.5 1201.5L1435.0 1197.7L1435.5 1199.8L1436.0 1195.9L1436.5 1199.1L1437.0 1197.4L1437.5 1201.5L1438.0 1199.8L1438.5 1203.8L1439.0 1200.8L1439.5 1206.2L1440.0 1203.2L1440.5 1208.6L1441.0 1209.1L1441.5 1211.0L1442.0 1211.5L1442.5 1215.5L1443.0 1213.9L1443.5 1217.9L1444.0 1216.3L1444.5 1220.3L1445.0 1215.4L1445.5 1222.7L1446.0 1217.8L1446.5 1225.1L1447.0 1219.7L1447.5 1226.7L1448.0 1219.7L1448.5 1226.7L1449.0 1219.7L1449.5 1226.7L1450.0 1219.5L1450.5 1225.4L1451.0 1219.5L1451.5 1225.4L1452.0 1219.5L1452.5 1226.6L1453.0 1222.2L1453.5 1229.6L1454.0 1225.2L1454.5 1234.0L1455.0 1230.6L1455.5 1237.0L1456.0 1233.6L1456.5 1239.9L1457.0 1233.6L1457.5 1238.3L1458.0 1231.9L1458.5 1233.3L1459.0 1230.2L1459.5 1231.6L1460.0 1227.0L1460.5 1230.0L1461.0 1225.3L1461.5 1228.3L1462.0 1223.7L1462.5 1229.9L1463.0 1221.9L1463.5 1228.0L1464.0 1219.9L1464.5 1226.0L1465.0 1217.3L1465.5 1223.2L1466.0 1215.3L1466.5 1221.2L1467.0 1213.3L1467.5 1219.2L1468.0 1211.3L1468.5 1218.1L1469.0 1213.0L1469.5 1216.1L1470.0 1211.0L1470.5 1214.1L1471.0 1209.0L1471.5 1212.1L1472.0 1207.0L1472.5 1211.1L1473.0 1206.0L1473.5 1213.1L1474.0 1208.0L1474.5 1214.4L1475.0 1210.0L1475.5 1216.4L1476.0 1212.0L1476.5 1218.4L1477.0 1214.0L1477.5 1220.4L1478.0 1216.0L1478.5 1222.4L1479.0 1217.2L1479.5 1225.0L1480.0 1218.0L1480.5 1224.1L1481.0 1216.5L1481.5 1222.6L1482.0 1215.0L1482.5 1220.8L1483.0 1214.1L1483.5 1219.3L1484.0 1212.6L1484.5 1215.5L1485.0 1211.1L1485.5 1214.0L1486.0 1209.6L1486.5 1212.5L1487.0 1208.1L1487.5 1211.0L1488.0 1206.6L1488.5 1209.7L1489.0 1208.2L1489.5 1208.8L1490.0 1207.4L1490.5 1208.0L1491.0 1205.1L1491.5 1207.0L1492.0 1204.3L1492.5 1206.2L1493.0 1203.5L1493.5 1205.4L1494.0 1202.7L1494.5 1205.5L1495.0 1202.5L1495.5 1204.7L1496.0 1201.7L1496.5 1203.9L1497.0 1200.9L1497.5 1203.1L1498.0 1200.1L1498.5 1202.3L1499.0 1196.8L1499.5 1203.4L1500.0 1198.4L1500.5 1205.8L1501.0 1200.0L1501.5 1207.4L1502.0 1201.6L1502.5 1209.0L1503.0 1203.9L1503.5 1210.6L1504.0 1205.5L1504.5 1210.2L1505.0 1203.0L1505.5 1206.2L1506.0 1200.4L1506.5 1203.6L1507.0 1197.8L1507.5 1201.0L1508.0 1197.1L1508.5 1198.2L1509.0 1194.5L1509.5 1196.9L1510.0 1194.9L1510.5 1201.9L1511.0 1199.9L1511.5 1210.2L1512.0 1204.9L1512.5 1215.2L1513.0 1206.7L1513.5 1211.2L1514.0 1208.8L1514.5 1209.8L1515.0 1207.4L1515.5 1208.4L1516.0 1206.0L1516.5 1207.0L1517.0 1204.6L1517.5 1207.5L1518.0 1203.8L1518.5 1208.2L1519.0 1205.4L1519.5 1209.8L1520.0 1207.0L1520.5 1211.4L1521.0 1204.5L1521.5 1213.1L1522.0 1206.1L1522.5 1211.9L1523.0 1207.7L1523.5 1213.5L1524.0 1212.1L1524.5 1215.1L1525.0 1213.7L1525.5 1217.4L1526.0 1215.3L1526.5 1219.4L1527.0 1218.1L1527.5 1222.6L1528.0 1221.4L1528.5 1225.9L1529.0 1224.6L1529.5 1230.0L1530.0 1226.6L1530.5 1233.2L1531.0 1229.9L1531.5 1236.5L1532.0 1233.1L1532.5 1239.7L1533.0 1236.4L1533.5 1243.0L1534.0 1239.6L1534.5 1245.6L1535.0 1243.3L1535.5 1244.1L1536.0 1240.3L1536.5 1241.1L1537.0 1237.3L1537.5 1238.1L1538.0 1234.3L1538.5 1237.3L1539.0 1231.3L1539.5 1234.3L1540.0 1228.7L1540.5 1231.3L1541.0 1225.7L1541.5 1228.3L1542.0 1222.7L1542.5 1223.9L1543.0 1219.7L1543.5 1220.9L1544.0 1216.0L1544.5 1217.9L1545.0 1213.0L1545.5 1215.9L1546.0 1214.1L1546.5 1219.1L1547.0 1217.3L1547.5 1221.9L1548.0 1220.0L1548.5 1225.1L1549.0 1223.2L1549.5 1228.4L1550.0 1225.6L1550.5 1231.6L1551.0 1228.8L1551.5 1236.0L1552.0 1232.1L1552.5 1239.3L1553.0 1235.3L1553.5 1242.5L1554.0 1237.3L1554.5 1245.7L1555.0 1240.0L1555.5 1246.5L1556.0 1239.4L1556.5 1245.9L1557.0 1238.8L1557.5 1246.6L1558.0 1238.2L1558.5 1246.0L1559.0 1237.6L1559.5 1245.4L1560.0 1238.4L1560.5 1245.4L1561.0 1239.4L1561.5 1246.7L1562.0 1240.7L1562.5 1247.9L1563.0 1242.1L1563.5 1249.2L1564.0 1242.5L1564.5 1250.6L1565.0 1243.9L1565.5 1251.9L1566.0 1245.2L1566.5 1253.2L1567.0 1246.1L1567.5 1253.4L1568.0 1246.5L1568.5 1253.7L1569.0 1248.2L1569.5 1254.1L1570.0 1248.6L1570.5 1254.9L1571.0 1247.7L1571.5 1255.3L1572.0 1248.0L1572.5 1255.6L1573.0 1248.4L1573.5 1255.1L1574.0 1248.8L1574.5 1255.4L1575.0 1249.8L1575.5 1255.2L1576.0 1249.0L1576.5 1255.1L1577.0 1248.1L1577.5 1254.2L1578.0 1245.4L1578.5 1253.3L1579.0 1244.5L1579.5 1252.5L1580.0 1243.6L1580.5 1247.8L1581.0 1242.7L1581.5 1246.9L1582.0 1243.0L1582.5 1247.9L1583.0 1242.1L1583.5 1247.1L1584.0 1243.2L1584.5 1249.3L1585.0 1246.2L1585.5 1252.3L1586.0 1249.2L1586.5 1258.2L1587.0 1252.2L1587.5 1261.2L1588.0 1256.5L1588.5 1264.2L1589.0 1259.5L1589.5 1265.4L1590.0 1262.5L1590.5 1268.4L1591.0 1265.5L1591.5 1271.4L1592.0 1268.4L1592.5 1273.7L1593.0 1270.0L1593.5 1274.0L1594.0 1271.8L1594.5 1275.7L1595.0 1272.8L1595.5 1277.5L1596.0 1274.5L1596.5 1279.2L1597.0 1276.5L1597.5 1281.0L1598.0 1278.2L1598.5 1282.7L1599.0 1280.0L1599.5 1283.8L1600.0 1281.7L1600.5 1285.4L1601.0 1282.0L1601.5 1284.5L1602.0 1283.5L1602.5 1284.9L1603.0 1282.6L1603.5 1284.0L1604.0 1281.8L1604.5 1283.2L1605.0 1281.0L1605.5 1282.4L1606.0 1280.1L1606.5 1280.4L1607.0 1280.0L1607.5 1281.8L1608.0 1282.3L1608.5 1284.0L1609.0 1284.5L1609.5 1286.2L1610.0 1286.8L1610.5 1288.5L1611.0 1289.0L1611.5 1288.7L1612.0 1285.5L1612.5 1288.5L1613.0 1283.5L1613.5 1286.5L1614.0 1281.5L1614.5 1284.5L1615.0 1279.5L1615.5 1282.5L1616.0 1277.5L1616.5 1280.5L1617.0 1275.5L1617.5 1280.3L1618.0 1274.7L1618.5 1278.6L1619.0 1274.6L1619.5 1279.0L1620.0 1276.0L1620.5 1280.4L1621.0 1277.3L1621.5 1281.8L1622.0 1278.7L1622.5 1283.2L1623.0 1278.8L1623.5 1285.3L1624.0 1279.5L1624.5 1284.4L1625.0 1277.5L1625.5 1282.9L1626.0 1276.0L1626.5 1281.4L1627.0 1274.5L1627.5 1279.9L1628.0 1273.0L1628.5 1276.1L1629.0 1271.5L1629.5 1274.6L1630.0 1270.0L1630.5 1274.7L1631.0 1273.0L1631.5 1277.0L1632.0 1275.3L1632.5 1280.9L1633.0 1277.6L1633.5 1283.3L1634.0 1279.5L1634.5 1285.6L1635.0 1281.9L1635.5 1287.9L1636.0 1284.2L1636.5 1287.9L1637.0 1285.9L1637.5 1289.2L1638.0 1287.2L1638.5 1293.1L1639.0 1288.4L1639.5 1294.3L1640.0 1289.6L1640.5 1295.6L1641.0 1290.8L1641.5 1294.0L1642.0 1292.1L1642.5 1295.3L1643.0 1293.6L1643.5 1296.5L1644.0 1294.8L1644.5 1297.8L1645.0 1295.8L1645.5 1297.2L1646.0 1292.1L1646.5 1297.6L1647.0 1290.3L1647.5 1295.8L1648.0 1289.5L1648.5 1295.9L1649.0 1287.8L1649.5 1294.1L1650.0 1286.0L1650.5 1292.3L1651.0 1283.6L1651.5 1290.5L1652.0 1281.9L1652.5 1287.8L1653.0 1279.2L1653.5 1286.0L1654.0 1277.4L1654.5 1284.5L1655.0 1278.8L1655.5 1288.5L1656.0 1287.0L1656.5 1292.5L1657.0 1291.0L1657.5 1295.6L1658.0 1295.0L1658.5 1299.6L1659.0 1299.0L1659.5 1303.6L1660.0 1300.3L1660.5 1305.7L1661.0 1301.8L1661.5 1307.2L1662.0 1303.3L1662.5 1308.7L1663.0 1304.8L1663.5 1311.6L1664.0 1306.3L1664.5 1313.1L1665.0 1309.6L1665.5 1314.6L1666.0 1311.1L1666.5 1316.1L1667.0 1312.6L1667.5 1317.7L1668.0 1310.6L1668.5 1318.6L1669.0 1310.5L1669.5 1318.1L1670.0 1310.0L1670.5 1317.6L1671.0 1309.5L1671.5 1315.9L1672.0 1308.7L1672.5 1315.4L1673.0 1308.2L1673.5 1313.2L1674.0 1307.7L1674.5 1312.7L1675.0 1307.2L1675.5 1312.2L1676.0 1310.3L1676.5 1311.7L1677.0 1309.5L1677.5 1310.3L1678.0 1307.8L1678.5 1308.6L1679.0 1306.2L1679.5 1306.9L1680.0 1304.5L1680.5 1305.2L1681.0 1300.7L1681.5 1303.6L1682.0 1299.0L1682.5 1304.6L1683.0 1297.3L1683.5 1302.4L1684.0 1294.4L1684.5 1299.4L1685.0 1293.7L1685.5 1296.4L1686.0 1290.7L1686.5 1293.5L1687.0 1287.7L1687.5 1292.9L1688.0 1293.0L1688.5 1301.6L1689.0 1301.7L1689.5 1310.3L1690.0 1308.8L1690.5 1315.8L1691.0 1317.1L1691.5 1323.8L1692.0 1325.1L1692.5 1331.8L1693.0 1329.8" fill="none" stroke="#f00" stroke-width="4.4" stroke-linejoin="round" shape-rendering="crispEdges"/>
<path d="M212.0 919.0V1553.0M1695.0 919.0V1553.0M210.0 1551.0H1697.0" fill="none" stroke="#000" stroke-width="4"/>
<path d="M210.0 921.0H1697.0" fill="none" stroke="#000" stroke-width="4.0"/>
<path d="M459.2 1551.0v-15M459.2 919.0V935.6M706.3 1551.0v-15M706.3 919.0V935.6M953.5 1551.0v-15M953.5 919.0V935.6M1200.7 1551.0v-15M1200.7 919.0V935.6M1447.8 1551.0v-15M1447.8 919.0V935.6M212.0 1236.0h15M1695.0 1236.0h-15" stroke="#000" stroke-width="4" fill="none"/>
<text x="212.0" y="1603.8" text-anchor="middle">0</text>
<text x="459.2" y="1603.8" text-anchor="middle">2000</text>
<text x="706.3" y="1603.8" text-anchor="middle">4000</text>
<text x="953.5" y="1603.8" text-anchor="middle">6000</text>
<text x="1200.7" y="1603.8" text-anchor="middle">8000</text>
<text x="1447.8" y="1603.8" text-anchor="middle">10000</text>
<text x="1695.0" y="1603.8" text-anchor="middle">12000</text>
<text x="199" y="937.0" text-anchor="end">0.05</text>
<text x="199" y="1252.0" text-anchor="end">0</text>
<text x="199" y="1567.0" text-anchor="end">-0.05</text>
<text transform="translate(321 1658.1) scale(1.01 0.913)" text-anchor="middle">(b)</text>
<text transform="translate(969 1658.1) scale(1.01 0.913)" text-anchor="middle">time(s)</text>
<text transform="translate(64.5 1236.6) rotate(-90) scale(0.963 1.055)" text-anchor="middle">SOC error</text>
<rect x="1223.2" y="943.6" width="449.3" height="118.8" fill="#fff" stroke="#000" stroke-width="4"/>
<path d="M1250 976.3H1388" stroke="#0f0" stroke-width="4"/>
<text transform="translate(1402 991) scale(0.995 0.95)">CKF method</text>
<path d="M1250 1029.5H1388" stroke="#f00" stroke-width="4"/>
<text transform="translate(1402 1044.2) scale(0.995 0.95)">CPF method</text>
</g>
</svg></body></html>
